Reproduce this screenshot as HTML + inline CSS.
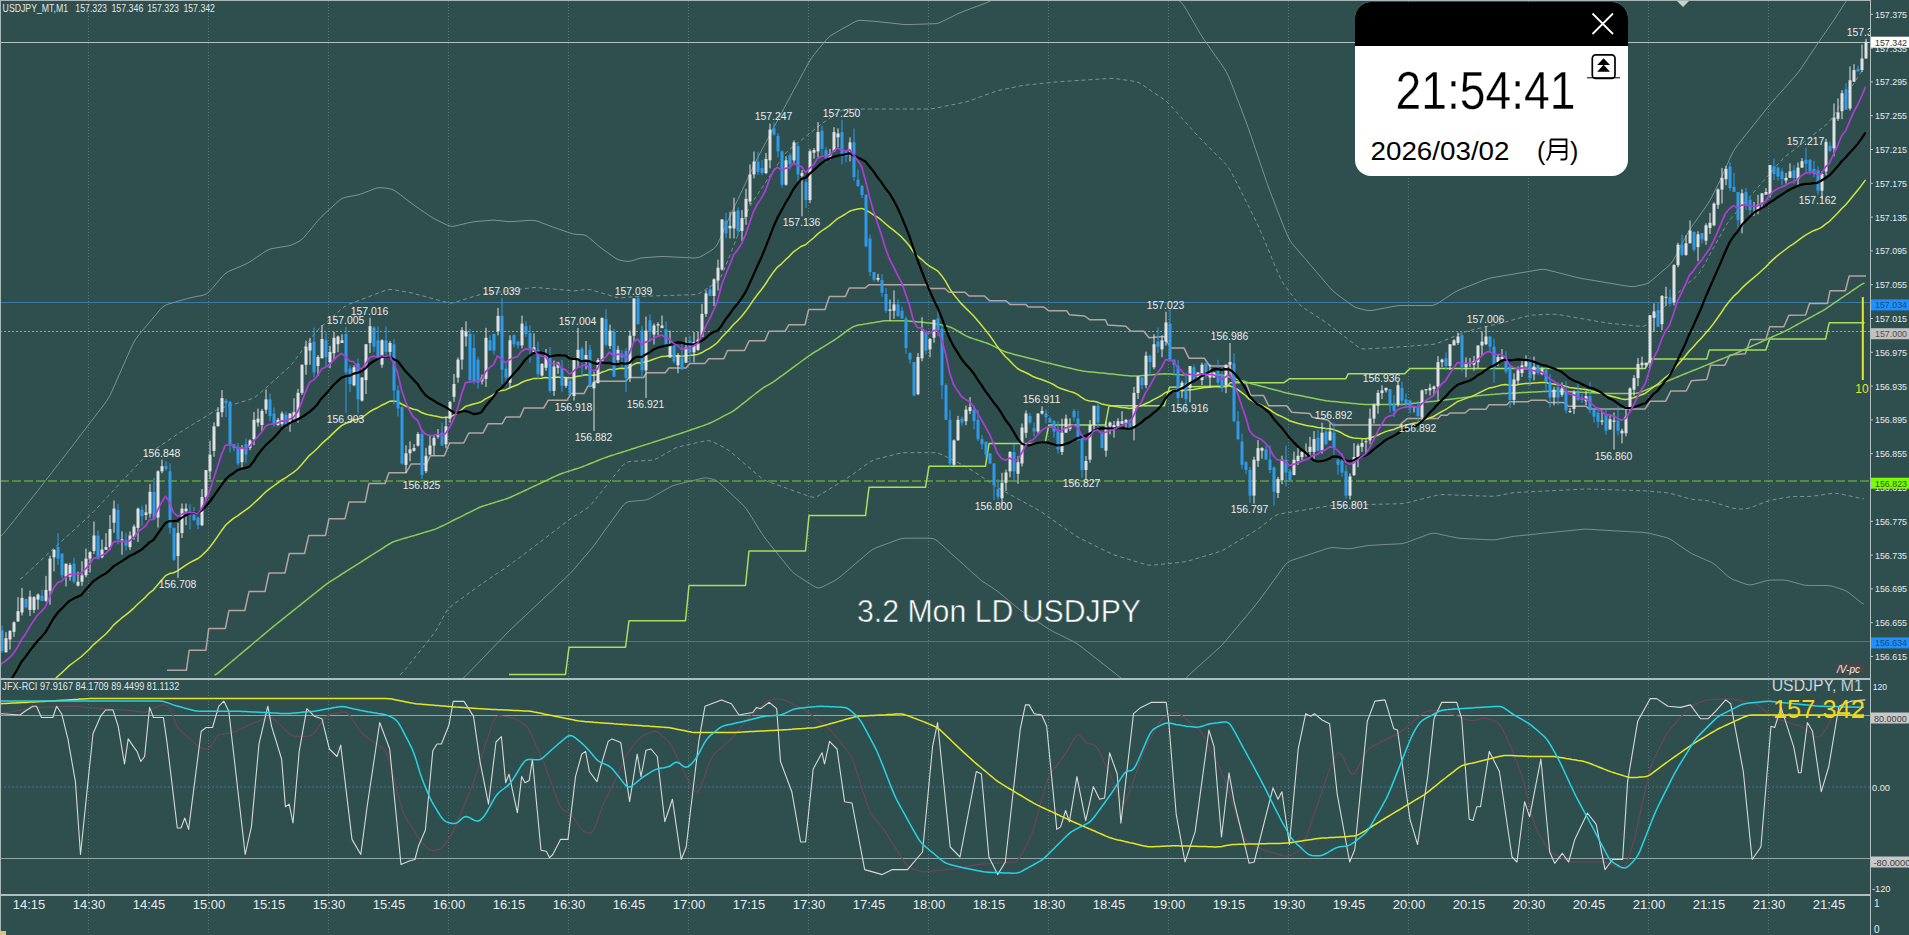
<!DOCTYPE html>
<html><head><meta charset="utf-8"><style>
html,body{margin:0;padding:0;background:#2f4f4f;}
body{width:1909px;height:935px;position:relative;overflow:hidden;font-family:"Liberation Sans", sans-serif;}
svg text{font-family:"Liberation Sans", sans-serif;}
</style></head><body>
<svg width="1909" height="935" viewBox="0 0 1909 935" style="position:absolute;left:0;top:0;display:block">
<rect x="0" y="0" width="1909" height="935" fill="#2f4f4f"/>
<defs><clipPath id="cm"><rect x="1" y="1" width="1869" height="677"/></clipPath><clipPath id="ci"><rect x="1" y="680" width="1869" height="214"/></clipPath></defs>
<g clip-path="url(#cm)">
<line x1="88.5" y1="1" x2="88.5" y2="678" stroke="#5a7a7a" stroke-width="1" stroke-dasharray="1,2"/>
<line x1="208.5" y1="1" x2="208.5" y2="678" stroke="#5a7a7a" stroke-width="1" stroke-dasharray="1,2"/>
<line x1="328.5" y1="1" x2="328.5" y2="678" stroke="#5a7a7a" stroke-width="1" stroke-dasharray="1,2"/>
<line x1="448.5" y1="1" x2="448.5" y2="678" stroke="#5a7a7a" stroke-width="1" stroke-dasharray="1,2"/>
<line x1="568.5" y1="1" x2="568.5" y2="678" stroke="#5a7a7a" stroke-width="1" stroke-dasharray="1,2"/>
<line x1="688.5" y1="1" x2="688.5" y2="678" stroke="#5a7a7a" stroke-width="1" stroke-dasharray="1,2"/>
<line x1="808.5" y1="1" x2="808.5" y2="678" stroke="#5a7a7a" stroke-width="1" stroke-dasharray="1,2"/>
<line x1="928.5" y1="1" x2="928.5" y2="678" stroke="#5a7a7a" stroke-width="1" stroke-dasharray="1,2"/>
<line x1="1048.5" y1="1" x2="1048.5" y2="678" stroke="#5a7a7a" stroke-width="1" stroke-dasharray="1,2"/>
<line x1="1168.5" y1="1" x2="1168.5" y2="678" stroke="#5a7a7a" stroke-width="1" stroke-dasharray="1,2"/>
<line x1="1288.5" y1="1" x2="1288.5" y2="678" stroke="#5a7a7a" stroke-width="1" stroke-dasharray="1,2"/>
<line x1="1408.5" y1="1" x2="1408.5" y2="678" stroke="#5a7a7a" stroke-width="1" stroke-dasharray="1,2"/>
<line x1="1528.5" y1="1" x2="1528.5" y2="678" stroke="#5a7a7a" stroke-width="1" stroke-dasharray="1,2"/>
<line x1="1648.5" y1="1" x2="1648.5" y2="678" stroke="#5a7a7a" stroke-width="1" stroke-dasharray="1,2"/>
<line x1="1768.5" y1="1" x2="1768.5" y2="678" stroke="#5a7a7a" stroke-width="1" stroke-dasharray="1,2"/>
<line x1="0" y1="42.5" x2="1870" y2="42.5" stroke="#b4c4c4" stroke-width="1"/>
<line x1="0" y1="302.5" x2="1870" y2="302.5" stroke="#3a7aa8" stroke-width="1"/>
<line x1="0" y1="331.5" x2="1870" y2="331.5" stroke="#94a8a8" stroke-width="1" stroke-dasharray="2,2"/>
<line x1="0" y1="481" x2="1870" y2="481" stroke="#64a03c" stroke-width="1.5" stroke-dasharray="9,3"/>
<line x1="0" y1="641.5" x2="1870" y2="641.5" stroke="#3a7aa8" stroke-width="1"/>
<polyline points="0.0,536.8 2.0,535.2 4.0,533.0 6.0,530.5 8.0,528.0 10.0,525.5 12.0,523.0 14.0,520.5 16.0,518.0 18.0,515.5 20.0,513.0 22.0,510.5 24.0,508.0 26.0,505.5 28.0,503.0 30.0,500.5 32.0,498.0 34.0,495.5 36.0,493.0 38.0,490.4 40.0,487.8 42.0,485.2 44.0,482.6 46.0,480.1 48.0,477.5 50.0,474.9 52.0,472.3 54.0,469.7 56.0,467.1 58.0,464.5 60.0,461.9 62.0,459.3 64.0,456.8 66.0,454.2 68.0,451.6 70.0,449.0 72.0,446.4 74.0,443.8 76.0,441.2 78.0,438.6 80.0,435.9 82.0,433.3 84.0,430.7 86.0,428.1 88.0,425.5 90.0,422.9 92.0,420.2 94.0,417.6 96.0,415.0 98.0,412.4 100.0,409.8 102.0,407.2 104.0,404.5 106.0,401.8 108.0,398.7 110.0,395.2 112.0,391.0 114.0,386.6 116.0,382.1 118.0,377.5 120.0,373.0 122.0,368.4 124.0,363.9 126.0,359.3 128.0,354.8 130.0,350.3 132.0,345.9 134.0,342.0 136.0,338.7 138.0,335.9 140.0,333.5 142.0,331.1 144.0,328.7 146.0,326.4 148.0,324.0 150.0,321.6 152.0,319.3 154.0,316.9 156.0,314.5 158.0,312.1 160.0,309.8 162.0,307.7 164.0,306.1 166.0,305.0 168.0,304.2 170.0,303.6 172.0,303.0 174.0,302.4 176.0,301.8 178.0,301.2 180.0,300.7 182.0,300.1 184.0,299.5 186.0,298.9 188.0,298.4 190.0,297.9 192.0,297.4 194.0,297.0 196.0,296.6 198.0,296.2 200.0,295.9 202.0,295.5 204.0,294.9 206.0,294.1 208.0,292.7 210.0,290.8 212.0,288.6 214.0,286.3 216.0,283.9 218.0,281.5 220.0,279.2 222.0,276.9 224.0,274.8 226.0,273.1 228.0,271.8 230.0,270.8 232.0,269.9 234.0,269.1 236.0,268.3 238.0,267.4 240.0,266.6 242.0,265.7 244.0,264.8 246.0,263.9 248.0,262.8 250.0,261.6 252.0,260.3 254.0,259.0 256.0,257.6 258.0,256.3 260.0,255.0 262.0,253.6 264.0,252.3 266.0,251.1 268.0,250.0 270.0,249.1 272.0,248.6 274.0,248.2 276.0,247.9 278.0,247.6 280.0,247.2 282.0,246.9 284.0,246.6 286.0,246.3 288.0,245.9 290.0,245.5 292.0,244.8 294.0,243.9 296.0,242.9 298.0,241.9 300.0,240.7 302.0,239.2 304.0,237.2 306.0,234.9 308.0,232.5 310.0,230.1 312.0,227.7 314.0,225.3 316.0,222.8 318.0,220.5 320.0,218.3 322.0,216.2 324.0,214.3 326.0,212.5 328.0,210.7 330.0,208.8 332.0,207.0 334.0,205.2 336.0,203.3 338.0,201.5 340.0,199.9 342.0,198.6 344.0,197.7 346.0,197.2 348.0,196.8 350.0,196.4 352.0,196.0 354.0,195.7 356.0,195.3 358.0,194.8 360.0,194.3 362.0,193.6 364.0,192.9 366.0,192.1 368.0,191.3 370.0,190.5 372.0,189.7 374.0,188.9 376.0,188.2 378.0,187.8 380.0,187.7 382.0,187.8 384.0,188.0 386.0,188.2 388.0,188.5 390.0,188.8 392.0,189.4 394.0,190.3 396.0,191.6 398.0,193.0 400.0,194.5 402.0,196.0 404.0,197.6 406.0,199.1 408.0,200.6 410.0,202.1 412.0,203.6 414.0,205.1 416.0,206.5 418.0,207.9 420.0,209.3 422.0,210.7 424.0,212.0 426.0,213.4 428.0,214.8 430.0,216.1 432.0,217.4 434.0,218.5 436.0,219.6 438.0,220.6 440.0,221.6 442.0,222.6 444.0,223.6 446.0,224.5 448.0,225.4 450.0,226.1 452.0,226.3 454.0,226.2 456.0,225.8 458.0,225.3 460.0,224.8 462.0,224.4 464.0,223.9 466.0,223.4 468.0,222.9 470.0,222.5 472.0,222.1 474.0,221.8 476.0,221.5 478.0,221.4 480.0,221.2 482.0,221.0 484.0,220.9 486.0,220.7 488.0,220.5 490.0,220.4 492.0,220.2 494.0,220.2 496.0,220.3 498.0,220.5 500.0,220.7 502.0,220.9 504.0,221.2 506.0,221.4 508.0,221.6 510.0,221.6 512.0,221.6 514.0,221.4 516.0,221.3 518.0,221.2 520.0,221.0 522.0,220.9 524.0,220.7 526.0,220.6 528.0,220.5 530.0,220.3 532.0,220.3 534.0,220.4 536.0,220.8 538.0,221.4 540.0,222.1 542.0,222.9 544.0,223.7 546.0,224.4 548.0,225.2 550.0,226.0 552.0,226.7 554.0,227.4 556.0,228.1 558.0,228.8 560.0,229.5 562.0,230.2 564.0,230.9 566.0,231.6 568.0,232.3 570.0,232.9 572.0,233.6 574.0,234.1 576.0,234.4 578.0,234.5 580.0,234.5 582.0,234.6 584.0,234.9 586.0,235.6 588.0,236.9 590.0,238.5 592.0,240.2 594.0,242.0 596.0,243.8 598.0,245.5 600.0,247.1 602.0,248.7 604.0,250.1 606.0,251.5 608.0,252.9 610.0,254.4 612.0,255.8 614.0,257.2 616.0,258.5 618.0,259.5 620.0,260.2 622.0,260.6 624.0,261.0 626.0,261.2 628.0,261.3 630.0,261.2 632.0,260.7 634.0,260.1 636.0,259.4 638.0,258.8 640.0,258.3 642.0,257.9 644.0,257.7 646.0,257.6 648.0,257.4 650.0,257.3 652.0,257.1 654.0,257.0 656.0,256.8 658.0,256.7 660.0,256.6 662.0,256.5 664.0,256.5 666.0,256.6 668.0,256.7 670.0,256.8 672.0,256.9 674.0,257.0 676.0,257.1 678.0,257.2 680.0,257.3 682.0,257.4 684.0,257.5 686.0,257.6 688.0,257.7 690.0,257.8 692.0,257.9 694.0,258.0 696.0,257.9 698.0,257.6 700.0,256.9 702.0,255.9 704.0,254.7 706.0,253.5 708.0,252.3 710.0,251.1 712.0,249.9 714.0,248.4 716.0,246.2 718.0,242.9 720.0,238.7 722.0,234.2 724.0,229.5 726.0,224.9 728.0,220.5 730.0,216.1 732.0,211.8 734.0,207.6 736.0,203.3 738.0,199.1 740.0,194.8 742.0,190.6 744.0,186.3 746.0,182.1 748.0,177.8 750.0,173.6 752.0,169.4 754.0,165.1 756.0,161.0 758.0,157.1 760.0,153.3 762.0,149.5 764.0,145.8 766.0,142.0 768.0,138.3 770.0,134.5 772.0,130.8 774.0,127.0 776.0,123.3 778.0,119.5 780.0,115.8 782.0,112.1 784.0,108.3 786.0,104.6 788.0,100.9 790.0,97.2 792.0,93.4 794.0,89.7 796.0,86.0 798.0,82.3 800.0,78.6 802.0,74.9 804.0,71.2 806.0,67.5 808.0,63.9 810.0,60.4 812.0,57.4 814.0,54.7 816.0,52.2 818.0,49.7 820.0,47.3 822.0,44.9 824.0,42.5 826.0,40.1 828.0,38.0 830.0,36.2 832.0,34.8 834.0,33.6 836.0,32.4 838.0,31.3 840.0,30.2 842.0,29.0 844.0,27.9 846.0,26.8 848.0,25.7 850.0,24.5 852.0,23.4 854.0,22.3 856.0,21.3 858.0,20.6 860.0,20.3 862.0,20.4 864.0,20.5 866.0,20.7 868.0,20.8 870.0,21.0 872.0,21.1 874.0,21.3 876.0,21.5 878.0,21.6 880.0,21.8 882.0,22.0 884.0,22.3 886.0,22.5 888.0,22.7 890.0,22.9 892.0,23.2 894.0,23.4 896.0,23.6 898.0,23.8 900.0,24.1 902.0,24.3 904.0,24.5 906.0,24.6 908.0,24.6 910.0,24.5 912.0,24.5 914.0,24.4 916.0,24.3 918.0,24.3 920.0,24.2 922.0,24.1 924.0,24.1 926.0,24.0 928.0,23.9 930.0,23.9 932.0,23.8 934.0,23.7 936.0,23.6 938.0,23.2 940.0,22.5 942.0,21.6 944.0,20.6 946.0,19.6 948.0,18.6 950.0,17.7 952.0,16.7 954.0,15.7 956.0,14.7 958.0,13.7 960.0,12.8 962.0,12.0 964.0,11.2 966.0,10.4 968.0,9.7 970.0,8.9 972.0,8.2 974.0,7.4 976.0,6.7 978.0,5.9 980.0,5.2 982.0,4.4 984.0,3.7 986.0,2.9 988.0,2.1 990.0,1.2 992.0,0.2 994.0,-0.8 996.0,-1.9 998.0,-2.8 1000.0,-3.5 1002.0,-3.9 1004.0,-4.0 1006.0,-4.0 1008.0,-4.0 1010.0,-4.0 1012.0,-4.0 1014.0,-4.0 1016.0,-4.0 1018.0,-4.0 1020.0,-4.0 1022.0,-4.0 1024.0,-4.0 1026.0,-4.0 1028.0,-4.0 1030.0,-4.0 1032.0,-4.0 1034.0,-4.0 1036.0,-4.0 1038.0,-4.0 1040.0,-4.0 1042.0,-4.0 1044.0,-4.0 1046.0,-4.0 1048.0,-4.0 1050.0,-4.0 1052.0,-4.0 1054.0,-4.0 1056.0,-4.0 1058.0,-4.0 1060.0,-4.0 1062.0,-4.0 1064.0,-4.0 1066.0,-4.0 1068.0,-4.0 1070.0,-4.0 1072.0,-4.0 1074.0,-4.0 1076.0,-4.0 1078.0,-4.0 1080.0,-4.0 1082.0,-4.0 1084.0,-4.0 1086.0,-4.0 1088.0,-4.0 1090.0,-4.0 1092.0,-4.0 1094.0,-4.0 1096.0,-4.0 1098.0,-4.0 1100.0,-4.0 1102.0,-4.0 1104.0,-4.0 1106.0,-4.0 1108.0,-4.0 1110.0,-4.0 1112.0,-4.0 1114.0,-4.0 1116.0,-4.0 1118.0,-4.0 1120.0,-4.0 1122.0,-4.0 1124.0,-4.0 1126.0,-4.0 1128.0,-4.0 1130.0,-4.0 1132.0,-4.0 1134.0,-4.0 1136.0,-4.0 1138.0,-4.0 1140.0,-4.0 1142.0,-4.0 1144.0,-4.0 1146.0,-4.0 1148.0,-4.0 1150.0,-4.0 1152.0,-4.0 1154.0,-4.0 1156.0,-4.0 1158.0,-4.0 1160.0,-4.0 1162.0,-4.0 1164.0,-4.0 1166.0,-4.0 1168.0,-3.9 1170.0,-3.5 1172.0,-2.9 1174.0,-2.0 1176.0,-1.0 1178.0,0.0 1180.0,1.3 1182.0,3.2 1184.0,5.9 1186.0,9.1 1188.0,12.5 1190.0,16.0 1192.0,19.4 1194.0,22.9 1196.0,26.4 1198.0,29.8 1200.0,33.2 1202.0,36.4 1204.0,39.5 1206.0,42.4 1208.0,45.2 1210.0,48.1 1212.0,50.9 1214.0,53.8 1216.0,56.6 1218.0,59.5 1220.0,62.3 1222.0,65.2 1224.0,68.1 1226.0,71.4 1228.0,75.4 1230.0,80.0 1232.0,85.0 1234.0,90.2 1236.0,95.5 1238.0,100.7 1240.0,105.9 1242.0,111.1 1244.0,116.4 1246.0,121.8 1248.0,127.3 1250.0,133.0 1252.0,138.9 1254.0,144.8 1256.0,150.7 1258.0,156.6 1260.0,162.5 1262.0,168.4 1264.0,174.2 1266.0,180.1 1268.0,185.8 1270.0,191.3 1272.0,196.6 1274.0,201.7 1276.0,206.9 1278.0,212.0 1280.0,217.1 1282.0,222.2 1284.0,227.2 1286.0,232.2 1288.0,236.6 1290.0,240.3 1292.0,243.3 1294.0,245.8 1296.0,248.1 1298.0,250.4 1300.0,252.8 1302.0,255.1 1304.0,257.4 1306.0,259.7 1308.0,262.0 1310.0,264.4 1312.0,266.7 1314.0,269.0 1316.0,271.4 1318.0,273.7 1320.0,276.1 1322.0,278.4 1324.0,280.8 1326.0,283.1 1328.0,285.5 1330.0,287.8 1332.0,289.9 1334.0,291.8 1336.0,293.4 1338.0,295.0 1340.0,296.5 1342.0,298.0 1344.0,299.4 1346.0,300.9 1348.0,302.4 1350.0,303.9 1352.0,305.3 1354.0,306.6 1356.0,307.5 1358.0,308.1 1360.0,308.7 1362.0,309.2 1364.0,309.7 1366.0,310.2 1368.0,310.5 1370.0,310.5 1372.0,310.4 1374.0,310.1 1376.0,309.7 1378.0,309.3 1380.0,308.9 1382.0,308.6 1384.0,308.2 1386.0,307.8 1388.0,307.4 1390.0,307.0 1392.0,306.7 1394.0,306.3 1396.0,306.0 1398.0,305.7 1400.0,305.6 1402.0,305.5 1404.0,305.5 1406.0,305.5 1408.0,305.5 1410.0,305.5 1412.0,305.5 1414.0,305.5 1416.0,305.5 1418.0,305.5 1420.0,305.5 1422.0,305.5 1424.0,305.5 1426.0,305.5 1428.0,305.5 1430.0,305.5 1432.0,305.4 1434.0,305.0 1436.0,304.2 1438.0,303.1 1440.0,301.9 1442.0,300.5 1444.0,299.2 1446.0,297.9 1448.0,296.6 1450.0,295.2 1452.0,293.9 1454.0,292.6 1456.0,291.5 1458.0,290.5 1460.0,289.6 1462.0,288.8 1464.0,288.0 1466.0,287.2 1468.0,286.4 1470.0,285.7 1472.0,284.9 1474.0,284.1 1476.0,283.3 1478.0,282.5 1480.0,281.7 1482.0,280.9 1484.0,280.2 1486.0,279.4 1488.0,278.7 1490.0,278.2 1492.0,277.7 1494.0,277.4 1496.0,277.0 1498.0,276.7 1500.0,276.3 1502.0,276.0 1504.0,275.7 1506.0,275.3 1508.0,275.0 1510.0,274.7 1512.0,274.3 1514.0,274.0 1516.0,273.7 1518.0,273.3 1520.0,273.0 1522.0,272.6 1524.0,272.3 1526.0,272.0 1528.0,271.6 1530.0,271.3 1532.0,271.0 1534.0,270.6 1536.0,270.3 1538.0,269.9 1540.0,269.6 1542.0,269.4 1544.0,269.4 1546.0,269.7 1548.0,270.1 1550.0,270.6 1552.0,271.1 1554.0,271.6 1556.0,272.1 1558.0,272.6 1560.0,273.1 1562.0,273.7 1564.0,274.2 1566.0,274.7 1568.0,275.2 1570.0,275.7 1572.0,276.2 1574.0,276.7 1576.0,277.2 1578.0,277.7 1580.0,278.1 1582.0,278.5 1584.0,278.9 1586.0,279.2 1588.0,279.5 1590.0,279.9 1592.0,280.2 1594.0,280.5 1596.0,280.9 1598.0,281.2 1600.0,281.6 1602.0,281.9 1604.0,282.2 1606.0,282.6 1608.0,282.9 1610.0,283.2 1612.0,283.6 1614.0,283.9 1616.0,284.2 1618.0,284.6 1620.0,284.9 1622.0,285.2 1624.0,285.6 1626.0,285.9 1628.0,286.2 1630.0,286.5 1632.0,286.6 1634.0,286.5 1636.0,286.2 1638.0,285.8 1640.0,285.4 1642.0,284.9 1644.0,284.5 1646.0,283.9 1648.0,283.0 1650.0,281.7 1652.0,280.1 1654.0,278.5 1656.0,276.7 1658.0,275.0 1660.0,273.3 1662.0,271.6 1664.0,269.9 1666.0,268.1 1668.0,266.4 1670.0,264.5 1672.0,262.0 1674.0,258.9 1676.0,255.3 1678.0,251.5 1680.0,247.7 1682.0,243.9 1684.0,240.1 1686.0,236.3 1688.0,232.7 1690.0,229.4 1692.0,226.3 1694.0,223.4 1696.0,220.6 1698.0,217.8 1700.0,215.0 1702.0,212.1 1704.0,209.3 1706.0,206.4 1708.0,203.4 1710.0,200.2 1712.0,196.5 1714.0,192.7 1716.0,188.7 1718.0,184.7 1720.0,180.5 1722.0,176.2 1724.0,171.7 1726.0,167.2 1728.0,162.7 1730.0,158.2 1732.0,154.0 1734.0,150.3 1736.0,147.2 1738.0,144.5 1740.0,142.0 1742.0,139.5 1744.0,137.0 1746.0,134.5 1748.0,132.0 1750.0,129.5 1752.0,127.0 1754.0,124.5 1756.0,122.0 1758.0,119.5 1760.0,117.0 1762.0,114.5 1764.0,112.0 1766.0,109.5 1768.0,107.0 1770.0,104.6 1772.0,102.2 1774.0,100.0 1776.0,97.7 1778.0,95.5 1780.0,93.2 1782.0,91.0 1784.0,88.7 1786.0,86.4 1788.0,84.2 1790.0,81.9 1792.0,79.7 1794.0,77.4 1796.0,75.1 1798.0,72.6 1800.0,69.9 1802.0,67.0 1804.0,64.0 1806.0,61.0 1808.0,58.0 1810.0,55.0 1812.0,52.0 1814.0,49.0 1816.0,46.0 1818.0,43.0 1820.0,40.1 1822.0,37.2 1824.0,34.3 1826.0,31.4 1828.0,28.6 1830.0,25.7 1832.0,22.8 1834.0,19.9 1836.0,16.8 1838.0,13.7 1840.0,10.6 1842.0,7.4 1844.0,4.3 1846.0,1.5 1848.0,-0.5" fill="none" stroke="#7c9292" stroke-width="1" stroke-linejoin="round"/>
<polyline points="461.8,679.0 463.8,677.7 465.8,675.8 467.8,673.8 469.8,671.7 471.8,669.6 473.8,667.5 475.8,665.5 477.8,663.4 479.8,661.3 481.8,659.2 483.8,657.2 485.8,655.1 487.8,653.0 489.8,650.9 491.8,648.9 493.8,646.8 495.8,644.7 497.8,642.6 499.8,640.6 501.8,638.5 503.8,636.4 505.8,634.3 507.8,632.3 509.8,630.3 511.8,628.4 513.8,626.5 515.8,624.6 517.8,622.7 519.8,620.8 521.8,619.0 523.8,617.1 525.8,615.2 527.8,613.3 529.8,611.4 531.8,609.6 533.8,607.7 535.8,605.8 537.8,603.9 539.8,602.0 541.8,600.2 543.8,598.3 545.8,596.4 547.8,594.5 549.8,592.6 551.8,590.8 553.8,588.9 555.8,587.0 557.8,585.1 559.8,583.2 561.8,581.4 563.8,579.5 565.8,577.6 567.8,575.7 569.8,573.7 571.8,571.6 573.8,569.4 575.8,567.1 577.8,564.7 579.8,562.4 581.8,560.1 583.8,557.7 585.8,555.4 587.8,553.0 589.8,550.7 591.8,548.2 593.8,545.7 595.8,543.0 597.8,540.2 599.8,537.5 601.8,534.7 603.8,531.9 605.8,529.1 607.8,526.4 609.8,523.6 611.8,520.8 613.8,518.0 615.8,515.3 617.8,512.5 619.8,509.7 621.8,507.0 623.8,504.6 625.8,502.9 627.8,501.9 629.8,501.5 631.8,501.3 633.8,501.1 635.8,500.9 637.8,500.8 639.8,500.6 641.8,500.4 643.8,500.2 645.8,499.9 647.8,499.3 649.8,498.5 651.8,497.4 653.8,496.3 655.8,495.1 657.8,494.0 659.8,492.9 661.8,491.7 663.8,490.6 665.8,489.4 667.8,488.3 669.8,487.2 671.8,486.2 673.8,485.4 675.8,484.8 677.8,484.3 679.8,483.8 681.8,483.3 683.8,482.8 685.8,482.3 687.8,481.8 689.8,481.3 691.8,480.8 693.8,480.4 695.8,479.9 697.8,479.4 699.8,478.9 701.8,478.4 703.8,478.1 705.8,478.0 707.8,478.1 709.8,478.5 711.8,479.0 713.8,479.5 715.8,480.4 717.8,481.6 719.8,483.3 721.8,485.1 723.8,486.9 725.8,488.8 727.8,490.7 729.8,492.6 731.8,494.4 733.8,496.3 735.8,498.2 737.8,500.1 739.8,502.0 741.8,503.9 743.8,505.9 745.8,508.3 747.8,511.1 749.8,514.2 751.8,517.4 753.8,520.6 755.8,523.9 757.8,527.1 759.8,530.3 761.8,533.4 763.8,536.3 765.8,539.1 767.8,541.6 769.8,544.1 771.8,546.6 773.8,549.1 775.8,551.6 777.8,554.1 779.8,556.6 781.8,559.1 783.8,561.6 785.8,564.1 787.8,566.6 789.8,569.0 791.8,571.2 793.8,573.1 795.8,574.6 797.8,576.0 799.8,577.3 801.8,578.6 803.8,579.9 805.8,581.1 807.8,582.4 809.8,583.7 811.8,585.0 813.8,586.3 815.8,587.3 817.8,587.9 819.8,587.8 821.8,587.1 823.8,586.2 825.8,585.2 827.8,584.2 829.8,583.2 831.8,582.2 833.8,581.2 835.8,580.0 837.8,578.6 839.8,577.1 841.8,575.4 843.8,573.7 845.8,572.0 847.8,570.3 849.8,568.6 851.8,566.8 853.8,565.1 855.8,563.4 857.8,561.7 859.8,560.0 861.8,558.3 863.8,556.6 865.8,554.9 867.8,553.2 869.8,551.6 871.8,550.1 873.8,548.9 875.8,547.9 877.8,547.1 879.8,546.4 881.8,545.6 883.8,544.9 885.8,544.1 887.8,543.4 889.8,542.7 891.8,541.9 893.8,541.2 895.8,540.4 897.8,539.7 899.8,539.0 901.8,538.5 903.8,538.3 905.8,538.2 907.8,538.2 909.8,538.2 911.8,538.2 913.8,538.2 915.8,538.2 917.8,538.2 919.8,538.2 921.8,538.2 923.8,538.2 925.8,538.2 927.8,538.2 929.8,538.2 931.8,538.4 933.8,538.8 935.8,539.8 937.8,541.3 939.8,543.1 941.8,544.9 943.8,546.7 945.8,548.5 947.8,550.3 949.8,552.2 951.8,554.0 953.8,555.8 955.8,557.6 957.8,559.4 959.8,561.3 961.8,563.0 963.8,564.8 965.8,566.6 967.8,568.4 969.8,570.2 971.8,572.0 973.8,573.8 975.8,575.6 977.8,577.4 979.8,579.1 981.8,580.8 983.8,582.2 985.8,583.5 987.8,584.8 989.8,586.1 991.8,587.3 993.8,588.7 995.8,590.0 997.8,591.6 999.8,593.2 1001.8,594.8 1003.8,596.5 1005.8,598.2 1007.8,599.8 1009.8,601.5 1011.8,603.2 1013.8,604.8 1015.8,606.5 1017.8,608.1 1019.8,609.7 1021.8,611.1 1023.8,612.5 1025.8,613.9 1027.8,615.2 1029.8,616.5 1031.8,617.9 1033.8,619.2 1035.8,620.5 1037.8,621.9 1039.8,623.2 1041.8,624.5 1043.8,625.9 1045.8,627.2 1047.8,628.5 1049.8,629.7 1051.8,630.8 1053.8,631.9 1055.8,632.9 1057.8,633.8 1059.8,634.8 1061.8,635.8 1063.8,636.8 1065.8,637.8 1067.8,638.8 1069.8,639.8 1071.8,640.7 1073.8,641.8 1075.8,642.9 1077.8,644.2 1079.8,645.7 1081.8,647.2 1083.8,648.8 1085.8,650.4 1087.8,651.9 1089.8,653.5 1091.8,655.1 1093.8,656.6 1095.8,658.2 1097.8,659.8 1099.8,661.3 1101.8,662.9 1103.8,664.5 1105.8,666.0 1107.8,667.6 1109.8,669.2 1111.8,670.8 1113.8,672.3 1115.8,673.9 1117.8,675.5 1119.8,677.1 1121.8,678.8 1123.8,681.0 1125.8,683.6 1127.8,686.2 1129.8,688.3 1131.8,689.5 1133.8,689.9 1135.8,690.0 1137.8,690.0 1139.8,690.0 1141.8,690.0 1143.8,690.0 1145.8,690.0 1147.8,690.0 1149.8,690.0 1151.8,690.0 1153.8,690.0 1155.8,690.0 1157.8,690.0 1159.8,690.0 1161.8,690.0 1163.8,690.0 1165.8,690.0 1167.8,690.0 1169.8,690.0 1171.8,690.0 1173.8,690.0 1175.8,689.9 1177.8,689.5 1179.8,688.1 1181.8,685.5 1183.8,682.0 1185.8,678.8 1187.8,676.2 1189.8,674.2 1191.8,672.4 1193.8,670.6 1195.8,668.8 1197.8,667.0 1199.8,665.2 1201.8,663.4 1203.8,661.6 1205.8,659.8 1207.8,658.0 1209.8,656.2 1211.8,654.5 1213.8,652.7 1215.8,650.9 1217.8,649.1 1219.8,647.2 1221.8,645.2 1223.8,643.0 1225.8,640.7 1227.8,638.3 1229.8,635.9 1231.8,633.5 1233.8,631.1 1235.8,628.7 1237.8,626.3 1239.8,623.9 1241.8,621.5 1243.8,619.1 1245.8,616.7 1247.8,614.3 1249.8,611.9 1251.8,609.5 1253.8,607.1 1255.8,604.6 1257.8,602.1 1259.8,599.5 1261.8,596.8 1263.8,594.1 1265.8,591.4 1267.8,588.6 1269.8,585.9 1271.8,583.1 1273.8,580.4 1275.8,577.6 1277.8,574.9 1279.8,572.1 1281.8,569.4 1283.8,566.7 1285.8,564.3 1287.8,562.4 1289.8,561.2 1291.8,560.3 1293.8,559.6 1295.8,559.0 1297.8,558.3 1299.8,557.7 1301.8,557.0 1303.8,556.3 1305.8,555.7 1307.8,555.0 1309.8,554.3 1311.8,553.7 1313.8,553.0 1315.8,552.3 1317.8,551.7 1319.8,551.0 1321.8,550.4 1323.8,549.7 1325.8,549.0 1327.8,548.4 1329.8,547.9 1331.8,547.7 1333.8,547.6 1335.8,547.8 1337.8,547.9 1339.8,548.1 1341.8,548.3 1343.8,548.5 1345.8,548.7 1347.8,548.7 1349.8,548.7 1351.8,548.4 1353.8,548.1 1355.8,547.7 1357.8,547.3 1359.8,546.9 1361.8,546.6 1363.8,546.2 1365.8,545.8 1367.8,545.6 1369.8,545.4 1371.8,545.3 1373.8,545.2 1375.8,545.1 1377.8,545.0 1379.8,544.8 1381.8,544.7 1383.8,544.6 1385.8,544.5 1387.8,544.4 1389.8,544.3 1391.8,544.2 1393.8,544.1 1395.8,544.0 1397.8,543.9 1399.8,543.8 1401.8,543.6 1403.8,543.2 1405.8,542.7 1407.8,542.0 1409.8,541.3 1411.8,540.5 1413.8,539.8 1415.8,539.0 1417.8,538.3 1419.8,537.5 1421.8,536.8 1423.8,536.0 1425.8,535.3 1427.8,534.5 1429.8,533.9 1431.8,533.4 1433.8,533.3 1435.8,533.4 1437.8,533.8 1439.8,534.2 1441.8,534.7 1443.8,535.1 1445.8,535.5 1447.8,536.0 1449.8,536.4 1451.8,536.8 1453.8,537.2 1455.8,537.6 1457.8,538.0 1459.8,538.2 1461.8,538.4 1463.8,538.5 1465.8,538.6 1467.8,538.7 1469.8,538.8 1471.8,538.9 1473.8,539.0 1475.8,539.1 1477.8,539.2 1479.8,539.3 1481.8,539.4 1483.8,539.5 1485.8,539.6 1487.8,539.7 1489.8,539.8 1491.8,539.8 1493.8,539.8 1495.8,539.6 1497.8,539.3 1499.8,538.9 1501.8,538.6 1503.8,538.2 1505.8,537.8 1507.8,537.4 1509.8,537.0 1511.8,536.6 1513.8,536.3 1515.8,536.1 1517.8,535.9 1519.8,535.7 1521.8,535.5 1523.8,535.3 1525.8,535.1 1527.8,534.9 1529.8,534.7 1531.8,534.5 1533.8,534.3 1535.8,534.1 1537.8,533.8 1539.8,533.6 1541.8,533.4 1543.8,533.2 1545.8,533.0 1547.8,532.8 1549.8,532.6 1551.8,532.4 1553.8,532.2 1555.8,532.0 1557.8,531.8 1559.8,531.6 1561.8,531.4 1563.8,531.2 1565.8,531.0 1567.8,530.8 1569.8,530.6 1571.8,530.4 1573.8,530.2 1575.8,530.0 1577.8,529.8 1579.8,529.6 1581.8,529.4 1583.8,529.2 1585.8,529.2 1587.8,529.2 1589.8,529.3 1591.8,529.4 1593.8,529.6 1595.8,529.7 1597.8,529.9 1599.8,530.0 1601.8,530.1 1603.8,530.2 1605.8,530.3 1607.8,530.4 1609.8,530.5 1611.8,530.6 1613.8,530.8 1615.8,530.9 1617.8,531.0 1619.8,531.1 1621.8,531.2 1623.8,531.3 1625.8,531.4 1627.8,531.5 1629.8,531.7 1631.8,531.8 1633.8,531.9 1635.8,532.0 1637.8,532.1 1639.8,532.2 1641.8,532.3 1643.8,532.5 1645.8,532.7 1647.8,533.0 1649.8,533.4 1651.8,533.9 1653.8,534.4 1655.8,534.9 1657.8,535.4 1659.8,535.9 1661.8,536.4 1663.8,536.9 1665.8,537.4 1667.8,538.1 1669.8,539.0 1671.8,540.2 1673.8,541.5 1675.8,542.9 1677.8,544.3 1679.8,545.6 1681.8,547.0 1683.8,548.4 1685.8,549.8 1687.8,551.1 1689.8,552.4 1691.8,553.6 1693.8,554.6 1695.8,555.5 1697.8,556.4 1699.8,557.2 1701.8,558.1 1703.8,559.0 1705.8,559.9 1707.8,560.7 1709.8,561.6 1711.8,562.6 1713.8,563.9 1715.8,565.4 1717.8,567.2 1719.8,569.0 1721.8,570.8 1723.8,572.6 1725.8,574.5 1727.8,576.2 1729.8,577.7 1731.8,578.9 1733.8,579.8 1735.8,580.5 1737.8,581.2 1739.8,582.0 1741.8,582.7 1743.8,583.4 1745.8,584.1 1747.8,584.6 1749.8,584.9 1751.8,584.7 1753.8,584.3 1755.8,583.7 1757.8,583.2 1759.8,582.6 1761.8,582.0 1763.8,581.5 1765.8,580.9 1767.8,580.5 1769.8,580.2 1771.8,580.0 1773.8,580.0 1775.8,580.0 1777.8,580.0 1779.8,580.0 1781.8,580.0 1783.8,580.1 1785.8,580.3 1787.8,580.6 1789.8,581.1 1791.8,581.7 1793.8,582.3 1795.8,582.8 1797.8,583.4 1799.8,583.9 1801.8,584.5 1803.8,585.0 1805.8,585.3 1807.8,585.4 1809.8,585.5 1811.8,585.5 1813.8,585.5 1815.8,585.5 1817.8,585.5 1819.8,585.5 1821.8,585.5 1823.8,585.5 1825.8,585.5 1827.8,585.6 1829.8,585.8 1831.8,586.1 1833.8,586.7 1835.8,587.3 1837.8,588.0 1839.8,588.6 1841.8,589.3 1843.8,590.0 1845.8,590.9 1847.8,592.0 1849.8,593.4 1851.8,595.0 1853.8,596.6 1855.8,598.2 1857.8,599.9 1859.8,601.5 1861.8,603.0 1863.8,604.0" fill="none" stroke="#7c9292" stroke-width="1" stroke-linejoin="round"/>
<polyline points="20.0,579.1 22.0,577.9 24.0,576.2 26.0,574.3 28.0,572.4 30.0,570.6 32.0,568.7 34.0,566.8 36.0,564.9 38.0,563.0 40.0,561.1 42.0,559.2 44.0,557.3 46.0,555.5 48.0,553.6 50.0,551.8 52.0,550.0 54.0,548.1 56.0,546.3 58.0,544.5 60.0,542.7 62.0,540.9 64.0,539.0 66.0,537.2 68.0,535.4 70.0,533.6 72.0,531.8 74.0,530.0 76.0,528.1 78.0,526.3 80.0,524.5 82.0,522.7 84.0,520.9 86.0,519.0 88.0,517.2 90.0,515.3 92.0,513.3 94.0,511.3 96.0,509.1 98.0,507.0 100.0,504.8 102.0,502.7 104.0,500.5 106.0,498.4 108.0,496.3 110.0,494.1 112.0,492.0 114.0,489.8 116.0,487.7 118.0,485.5 120.0,483.4 122.0,481.2 124.0,479.1 126.0,476.9 128.0,474.8 130.0,472.6 132.0,470.5 134.0,468.3 136.0,466.2 138.0,464.1 140.0,461.9 142.0,459.8 144.0,457.8 146.0,456.0 148.0,454.4 150.0,452.9 152.0,451.5 154.0,450.2 156.0,448.8 158.0,447.4 160.0,446.1 162.0,444.7 164.0,443.3 166.0,442.0 168.0,440.6 170.0,439.2 172.0,437.8 174.0,436.5 176.0,435.1 178.0,433.7 180.0,432.4 182.0,431.1 184.0,429.8 186.0,428.6 188.0,427.3 190.0,426.1 192.0,424.9 194.0,423.7 196.0,422.4 198.0,421.2 200.0,420.0 202.0,418.8 204.0,417.6 206.0,416.3 208.0,415.1 210.0,413.9 212.0,412.7 214.0,411.5 216.0,410.3 218.0,409.3 220.0,408.5 222.0,407.8 224.0,407.2 226.0,406.6 228.0,406.0 230.0,405.4 232.0,404.8 234.0,404.2 236.0,403.6 238.0,403.0 240.0,402.4 242.0,401.8 244.0,401.2 246.0,400.6 248.0,400.0 250.0,399.3 252.0,398.6 254.0,397.7 256.0,396.4 258.0,394.8 260.0,393.1 262.0,391.3 264.0,389.5 266.0,387.8 268.0,386.0 270.0,384.2 272.0,382.4 274.0,380.6 276.0,378.9 278.0,377.1 280.0,375.3 282.0,373.5 284.0,371.7 286.0,369.9 288.0,368.1 290.0,366.1 292.0,363.9 294.0,361.4 296.0,358.7 298.0,356.0 300.0,353.3 302.0,350.6 304.0,347.8 306.0,345.1 308.0,342.4 310.0,339.7 312.0,337.0 314.0,334.4 316.0,331.9 318.0,329.8 320.0,327.9 322.0,326.1 324.0,324.3 326.0,322.6 328.0,320.8 330.0,319.1 332.0,317.3 334.0,315.6 336.0,313.8 338.0,312.1 340.0,310.3 342.0,308.6 344.0,307.0 346.0,305.7 348.0,304.6 350.0,303.8 352.0,303.0 354.0,302.3 356.0,301.5 358.0,300.8 360.0,300.0 362.0,299.2 364.0,298.5 366.0,297.7 368.0,297.0 370.0,296.2 372.0,295.4 374.0,294.7 376.0,293.9 378.0,293.2 380.0,292.4 382.0,291.7 384.0,290.9 386.0,290.2 388.0,289.7 390.0,289.5 392.0,289.6 394.0,289.9 396.0,290.2 398.0,290.5 400.0,290.9 402.0,291.2 404.0,291.5 406.0,291.9 408.0,292.2 410.0,292.6 412.0,293.0 414.0,293.5 416.0,294.1 418.0,294.6 420.0,295.2 422.0,295.7 424.0,296.2 426.0,296.8 428.0,297.3 430.0,297.9 432.0,298.4 434.0,299.0 436.0,299.5 438.0,300.1 440.0,300.6 442.0,301.1 444.0,301.7 446.0,302.2 448.0,302.7 450.0,303.0 452.0,302.9 454.0,302.6 456.0,302.0 458.0,301.4 460.0,300.8 462.0,300.1 464.0,299.5 466.0,298.9 468.0,298.3 470.0,297.6 472.0,297.0 474.0,296.4 476.0,295.8 478.0,295.2 480.0,294.7 482.0,294.3 484.0,294.0 486.0,293.7 488.0,293.4 490.0,293.2 492.0,292.9 494.0,292.7 496.0,292.4 498.0,292.1 500.0,291.9 502.0,291.6 504.0,291.3 506.0,291.1 508.0,290.8 510.0,290.5 512.0,290.3 514.0,290.0 516.0,289.7 518.0,289.5 520.0,289.2 522.0,289.0 524.0,288.7 526.0,288.4 528.0,288.2 530.0,287.9 532.0,287.7 534.0,287.5 536.0,287.5 538.0,287.6 540.0,287.8 542.0,288.0 544.0,288.2 546.0,288.4 548.0,288.5 550.0,288.7 552.0,288.9 554.0,289.1 556.0,289.3 558.0,289.5 560.0,289.7 562.0,289.8 564.0,290.0 566.0,290.2 568.0,290.4 570.0,290.6 572.0,290.7 574.0,290.8 576.0,290.7 578.0,290.5 580.0,290.2 582.0,290.0 584.0,289.7 586.0,289.5 588.0,289.4 590.0,289.6 592.0,290.0 594.0,290.6 596.0,291.2 598.0,291.8 600.0,292.4 602.0,293.0 604.0,293.7 606.0,294.3 608.0,294.9 610.0,295.5 612.0,296.1 614.0,296.7 616.0,297.3 618.0,297.6 620.0,297.8 622.0,297.7 624.0,297.6 626.0,297.4 628.0,297.3 630.0,297.1 632.0,297.0 634.0,296.8 636.0,296.7 638.0,296.6 640.0,296.4 642.0,296.3 644.0,296.3 646.0,296.2 648.0,296.1 650.0,296.1 652.0,296.0 654.0,295.9 656.0,295.9 658.0,295.8 660.0,295.7 662.0,295.7 664.0,295.6 666.0,295.6 668.0,295.5 670.0,295.4 672.0,295.4 674.0,295.3 676.0,295.2 678.0,295.2 680.0,295.1 682.0,295.0 684.0,295.0 686.0,294.9 688.0,294.8 690.0,294.8 692.0,294.7 694.0,294.6 696.0,294.4 698.0,294.0 700.0,293.1 702.0,291.9 704.0,290.6 706.0,289.3 708.0,288.0 710.0,286.7 712.0,285.3 714.0,284.0 716.0,282.6 718.0,280.9 720.0,278.3 722.0,274.5 724.0,269.9 726.0,264.9 728.0,259.9 730.0,254.8 732.0,249.8 734.0,244.8 736.0,239.7 738.0,234.7 740.0,229.7 742.0,224.6 744.0,219.6 746.0,214.7 748.0,210.1 750.0,206.1 752.0,202.7 754.0,199.6 756.0,196.6 758.0,193.6 760.0,190.6 762.0,187.7 764.0,184.7 766.0,181.7 768.0,178.7 770.0,175.8 772.0,172.8 774.0,169.8 776.0,166.8 778.0,163.9 780.0,160.9 782.0,158.0 784.0,155.2 786.0,152.8 788.0,150.8 790.0,149.1 792.0,147.5 794.0,145.9 796.0,144.3 798.0,142.7 800.0,141.1 802.0,139.5 804.0,137.9 806.0,136.3 808.0,134.7 810.0,133.1 812.0,131.5 814.0,129.9 816.0,128.3 818.0,126.7 820.0,125.1 822.0,123.6 824.0,122.2 826.0,120.8 828.0,119.4 830.0,118.1 832.0,116.8 834.0,115.4 836.0,114.1 838.0,112.8 840.0,111.5 842.0,110.3 844.0,109.5 846.0,109.1 848.0,109.0 850.0,109.0 852.0,109.0 854.0,109.0 856.0,109.0 858.0,109.0 860.0,109.0 862.0,109.0 864.0,109.0 866.0,109.0 868.0,109.0 870.0,109.0 872.0,109.0 874.0,109.0 876.0,109.0 878.0,109.0 880.0,109.0 882.0,109.0 884.0,109.0 886.0,109.0 888.0,109.0 890.0,109.0 892.0,109.0 894.0,109.0 896.0,109.0 898.0,109.0 900.0,109.0 902.0,109.0 904.0,109.0 906.0,109.0 908.0,109.0 910.0,109.0 912.0,109.0 914.0,109.0 916.0,109.0 918.0,109.0 920.0,109.0 922.0,109.0 924.0,109.0 926.0,109.0 928.0,109.0 930.0,108.9 932.0,108.7 934.0,108.4 936.0,108.0 938.0,107.6 940.0,107.2 942.0,106.8 944.0,106.4 946.0,106.0 948.0,105.6 950.0,105.2 952.0,104.8 954.0,104.4 956.0,104.0 958.0,103.6 960.0,103.2 962.0,102.8 964.0,102.4 966.0,101.9 968.0,101.3 970.0,100.7 972.0,100.0 974.0,99.2 976.0,98.5 978.0,97.8 980.0,97.0 982.0,96.3 984.0,95.6 986.0,94.8 988.0,94.1 990.0,93.4 992.0,92.6 994.0,91.9 996.0,91.3 998.0,90.7 1000.0,90.2 1002.0,89.8 1004.0,89.4 1006.0,88.9 1008.0,88.5 1010.0,88.1 1012.0,87.6 1014.0,87.2 1016.0,86.8 1018.0,86.3 1020.0,85.9 1022.0,85.6 1024.0,85.3 1026.0,85.1 1028.0,84.9 1030.0,84.7 1032.0,84.5 1034.0,84.3 1036.0,84.0 1038.0,83.8 1040.0,83.6 1042.0,83.4 1044.0,83.2 1046.0,83.0 1048.0,82.8 1050.0,82.6 1052.0,82.4 1054.0,82.2 1056.0,82.0 1058.0,81.8 1060.0,81.7 1062.0,81.5 1064.0,81.4 1066.0,81.3 1068.0,81.1 1070.0,81.0 1072.0,80.9 1074.0,80.7 1076.0,80.6 1078.0,80.5 1080.0,80.4 1082.0,80.2 1084.0,80.1 1086.0,80.0 1088.0,79.8 1090.0,79.7 1092.0,79.6 1094.0,79.4 1096.0,79.3 1098.0,79.2 1100.0,79.0 1102.0,78.9 1104.0,78.8 1106.0,78.6 1108.0,78.5 1110.0,78.4 1112.0,78.4 1114.0,78.5 1116.0,78.7 1118.0,79.0 1120.0,79.2 1122.0,79.5 1124.0,79.8 1126.0,80.1 1128.0,80.4 1130.0,80.7 1132.0,80.9 1134.0,81.3 1136.0,81.7 1138.0,82.3 1140.0,83.3 1142.0,84.5 1144.0,85.9 1146.0,87.3 1148.0,88.6 1150.0,90.0 1152.0,91.4 1154.0,92.7 1156.0,94.1 1158.0,95.5 1160.0,96.8 1162.0,98.2 1164.0,99.6 1166.0,101.1 1168.0,102.9 1170.0,104.9 1172.0,107.1 1174.0,109.3 1176.0,111.6 1178.0,113.8 1180.0,116.1 1182.0,118.3 1184.0,120.6 1186.0,122.8 1188.0,125.1 1190.0,127.3 1192.0,129.6 1194.0,131.8 1196.0,134.0 1198.0,136.1 1200.0,138.1 1202.0,140.1 1204.0,142.1 1206.0,144.2 1208.0,146.2 1210.0,148.2 1212.0,150.2 1214.0,152.2 1216.0,154.2 1218.0,156.2 1220.0,158.2 1222.0,160.3 1224.0,162.3 1226.0,164.4 1228.0,166.9 1230.0,169.9 1232.0,173.4 1234.0,177.3 1236.0,181.3 1238.0,185.2 1240.0,189.2 1242.0,193.2 1244.0,197.2 1246.0,201.2 1248.0,205.2 1250.0,209.2 1252.0,213.1 1254.0,217.1 1256.0,221.2 1258.0,225.4 1260.0,229.9 1262.0,234.6 1264.0,239.4 1266.0,244.2 1268.0,249.0 1270.0,253.8 1272.0,258.5 1274.0,263.3 1276.0,268.1 1278.0,272.8 1280.0,277.3 1282.0,281.3 1284.0,284.6 1286.0,287.4 1288.0,290.0 1290.0,292.6 1292.0,295.2 1294.0,297.8 1296.0,300.3 1298.0,302.8 1300.0,304.9 1302.0,306.6 1304.0,308.1 1306.0,309.4 1308.0,310.7 1310.0,312.0 1312.0,313.3 1314.0,314.6 1316.0,315.9 1318.0,317.1 1320.0,318.4 1322.0,319.7 1324.0,321.1 1326.0,322.5 1328.0,323.9 1330.0,325.5 1332.0,327.0 1334.0,328.5 1336.0,330.1 1338.0,331.6 1340.0,333.1 1342.0,334.7 1344.0,336.2 1346.0,337.7 1348.0,339.3 1350.0,340.8 1352.0,342.3 1354.0,343.9 1356.0,345.4 1358.0,346.8 1360.0,348.0 1362.0,348.7 1364.0,349.0 1366.0,349.0 1368.0,348.9 1370.0,348.7 1372.0,348.6 1374.0,348.5 1376.0,348.4 1378.0,348.2 1380.0,348.1 1382.0,348.0 1384.0,347.9 1386.0,347.7 1388.0,347.6 1390.0,347.5 1392.0,347.3 1394.0,347.2 1396.0,347.1 1398.0,347.0 1400.0,346.8 1402.0,346.7 1404.0,346.6 1406.0,346.4 1408.0,346.3 1410.0,346.1 1412.0,346.0 1414.0,345.8 1416.0,345.7 1418.0,345.5 1420.0,345.4 1422.0,345.2 1424.0,345.1 1426.0,344.9 1428.0,344.8 1430.0,344.6 1432.0,344.4 1434.0,344.2 1436.0,343.7 1438.0,343.1 1440.0,342.3 1442.0,341.5 1444.0,340.6 1446.0,339.8 1448.0,339.0 1450.0,338.1 1452.0,337.3 1454.0,336.5 1456.0,335.6 1458.0,334.8 1460.0,333.9 1462.0,333.1 1464.0,332.3 1466.0,331.6 1468.0,331.0 1470.0,330.4 1472.0,330.0 1474.0,329.5 1476.0,329.0 1478.0,328.5 1480.0,328.1 1482.0,327.6 1484.0,327.1 1486.0,326.6 1488.0,326.2 1490.0,325.7 1492.0,325.2 1494.0,324.8 1496.0,324.3 1498.0,323.8 1500.0,323.3 1502.0,322.9 1504.0,322.4 1506.0,321.8 1508.0,321.3 1510.0,320.7 1512.0,320.2 1514.0,319.6 1516.0,319.0 1518.0,318.5 1520.0,317.9 1522.0,317.4 1524.0,316.8 1526.0,316.3 1528.0,315.8 1530.0,315.4 1532.0,315.1 1534.0,315.0 1536.0,314.9 1538.0,314.8 1540.0,314.7 1542.0,314.6 1544.0,314.5 1546.0,314.4 1548.0,314.3 1550.0,314.3 1552.0,314.2 1554.0,314.2 1556.0,314.3 1558.0,314.5 1560.0,314.8 1562.0,315.2 1564.0,315.5 1566.0,315.9 1568.0,316.2 1570.0,316.6 1572.0,316.9 1574.0,317.3 1576.0,317.6 1578.0,318.0 1580.0,318.3 1582.0,318.7 1584.0,319.0 1586.0,319.4 1588.0,319.7 1590.0,320.1 1592.0,320.4 1594.0,320.8 1596.0,321.1 1598.0,321.5 1600.0,321.8 1602.0,322.2 1604.0,322.5 1606.0,322.8 1608.0,323.1 1610.0,323.3 1612.0,323.5 1614.0,323.7 1616.0,323.9 1618.0,324.1 1620.0,324.3 1622.0,324.5 1624.0,324.7 1626.0,324.9 1628.0,325.1 1630.0,325.3 1632.0,325.5 1634.0,325.7 1636.0,325.9 1638.0,326.1 1640.0,326.3 1642.0,326.3 1644.0,326.1 1646.0,325.2 1648.0,323.7 1650.0,321.8 1652.0,319.8 1654.0,317.7 1656.0,315.6 1658.0,313.6 1660.0,311.5 1662.0,309.4 1664.0,307.4 1666.0,305.3 1668.0,303.2 1670.0,301.2 1672.0,299.1 1674.0,297.0 1676.0,295.0 1678.0,292.9 1680.0,290.8 1682.0,288.8 1684.0,286.9 1686.0,285.1 1688.0,283.4 1690.0,281.7 1692.0,280.1 1694.0,278.4 1696.0,276.6 1698.0,274.5 1700.0,271.8 1702.0,268.6 1704.0,265.1 1706.0,261.5 1708.0,257.9 1710.0,254.2 1712.0,250.6 1714.0,247.0 1716.0,243.3 1718.0,239.7 1720.0,236.1 1722.0,232.4 1724.0,228.9 1726.0,225.5 1728.0,222.4 1730.0,219.8 1732.0,217.4 1734.0,215.0 1736.0,212.7 1738.0,210.4 1740.0,208.1 1742.0,205.8 1744.0,203.4 1746.0,201.1 1748.0,198.8 1750.0,196.5 1752.0,194.2 1754.0,191.9 1756.0,189.5 1758.0,187.2 1760.0,184.9 1762.0,182.6 1764.0,180.3 1766.0,178.0 1768.0,175.6 1770.0,173.3 1772.0,171.0 1774.0,168.7 1776.0,166.4 1778.0,164.1 1780.0,161.8 1782.0,159.7 1784.0,157.8 1786.0,156.1 1788.0,154.5 1790.0,152.9 1792.0,151.4 1794.0,149.8 1796.0,148.3 1798.0,146.7 1800.0,145.2 1802.0,143.6 1804.0,142.0 1806.0,140.5 1808.0,138.9 1810.0,137.4 1812.0,135.8 1814.0,134.3 1816.0,132.7 1818.0,131.2 1820.0,129.6 1822.0,128.1 1824.0,126.5 1826.0,124.8 1828.0,122.9 1830.0,120.5 1832.0,117.7 1834.0,114.7 1836.0,111.5 1838.0,108.4 1840.0,105.2 1842.0,102.1 1844.0,98.9 1846.0,95.8 1848.0,92.6 1850.0,89.5 1852.0,86.3 1854.0,83.2 1856.0,80.0 1858.0,76.9 1860.0,73.8 1862.0,71.0 1864.0,68.9" fill="none" stroke="#7c9292" stroke-width="1" stroke-dasharray="4,3" stroke-linejoin="round"/>
<polyline points="400.0,674.8 402.0,673.2 404.0,671.0 406.0,668.5 408.0,666.0 410.0,663.5 412.0,661.0 414.0,658.5 416.0,656.0 418.0,653.5 420.0,651.0 422.0,648.5 424.0,646.0 426.0,643.5 428.0,641.0 430.0,638.5 432.0,636.0 434.0,633.3 436.0,630.4 438.0,626.9 440.0,623.2 442.0,619.3 444.0,615.6 446.0,612.1 448.0,609.3 450.0,607.2 452.0,605.6 454.0,604.1 456.0,602.6 458.0,601.1 460.0,599.7 462.0,598.2 464.0,596.7 466.0,595.3 468.0,593.8 470.0,592.3 472.0,590.9 474.0,589.4 476.0,587.9 478.0,586.5 480.0,585.1 482.0,583.7 484.0,582.3 486.0,581.0 488.0,579.6 490.0,578.3 492.0,576.9 494.0,575.6 496.0,574.2 498.0,572.9 500.0,571.6 502.0,570.2 504.0,568.9 506.0,567.5 508.0,566.1 510.0,564.7 512.0,563.2 514.0,561.7 516.0,560.2 518.0,558.7 520.0,557.2 522.0,555.8 524.0,554.2 526.0,552.8 528.0,551.2 530.0,549.8 532.0,548.2 534.0,546.7 536.0,545.2 538.0,543.7 540.0,542.2 542.0,540.7 544.0,539.1 546.0,537.6 548.0,536.0 550.0,534.5 552.0,532.9 554.0,531.4 556.0,529.8 558.0,528.3 560.0,526.7 562.0,525.2 564.0,523.6 566.0,522.1 568.0,520.5 570.0,519.1 572.0,517.7 574.0,516.4 576.0,515.2 578.0,514.0 580.0,512.8 582.0,511.5 584.0,510.3 586.0,509.0 588.0,507.5 590.0,505.7 592.0,503.5 594.0,501.1 596.0,498.6 598.0,496.1 600.0,493.6 602.0,491.1 604.0,488.6 606.0,486.1 608.0,483.6 610.0,481.1 612.0,478.6 614.0,476.1 616.0,473.6 618.0,471.1 620.0,468.7 622.0,466.3 624.0,464.2 626.0,462.7 628.0,461.9 630.0,461.6 632.0,461.4 634.0,461.3 636.0,461.1 638.0,461.0 640.0,460.9 642.0,460.8 644.0,460.7 646.0,460.5 648.0,460.4 650.0,460.3 652.0,460.1 654.0,459.6 656.0,458.9 658.0,457.9 660.0,456.8 662.0,455.7 664.0,454.5 666.0,453.3 668.0,452.2 670.0,451.0 672.0,449.9 674.0,448.8 676.0,447.8 678.0,447.1 680.0,446.5 682.0,446.0 684.0,445.6 686.0,445.2 688.0,444.7 690.0,444.3 692.0,443.8 694.0,443.4 696.0,442.9 698.0,442.5 700.0,442.0 702.0,441.6 704.0,441.1 706.0,440.8 708.0,440.6 710.0,440.9 712.0,441.6 714.0,442.5 716.0,443.4 718.0,444.4 720.0,445.4 722.0,446.4 724.0,447.4 726.0,448.5 728.0,449.8 730.0,451.4 732.0,453.0 734.0,454.7 736.0,456.4 738.0,458.1 740.0,459.8 742.0,461.6 744.0,463.3 746.0,465.0 748.0,466.7 750.0,468.4 752.0,470.1 754.0,471.8 756.0,473.5 758.0,475.2 760.0,476.9 762.0,478.4 764.0,479.7 766.0,480.8 768.0,481.6 770.0,482.3 772.0,483.0 774.0,483.7 776.0,484.4 778.0,485.1 780.0,485.9 782.0,486.6 784.0,487.3 786.0,488.0 788.0,488.7 790.0,489.4 792.0,490.2 794.0,490.9 796.0,491.6 798.0,492.3 800.0,493.0 802.0,493.7 804.0,494.4 806.0,495.2 808.0,495.9 810.0,496.6 812.0,497.1 814.0,497.3 816.0,496.9 818.0,496.0 820.0,494.8 822.0,493.6 824.0,492.4 826.0,491.2 828.0,490.0 830.0,488.7 832.0,487.5 834.0,486.3 836.0,485.1 838.0,483.9 840.0,482.7 842.0,481.4 844.0,480.2 846.0,478.9 848.0,477.6 850.0,476.2 852.0,474.8 854.0,473.4 856.0,472.0 858.0,470.5 860.0,469.1 862.0,467.7 864.0,466.2 866.0,464.8 868.0,463.4 870.0,462.0 872.0,460.8 874.0,459.9 876.0,459.2 878.0,458.7 880.0,458.2 882.0,457.7 884.0,457.2 886.0,456.7 888.0,456.2 890.0,455.7 892.0,455.2 894.0,454.7 896.0,454.2 898.0,453.7 900.0,453.2 902.0,452.9 904.0,452.8 906.0,452.7 908.0,452.7 910.0,452.7 912.0,452.7 914.0,452.7 916.0,452.7 918.0,452.7 920.0,452.7 922.0,452.7 924.0,452.7 926.0,452.7 928.0,452.7 930.0,452.7 932.0,452.7 934.0,452.7 936.0,452.8 938.0,453.1 940.0,453.8 942.0,454.6 944.0,455.6 946.0,456.6 948.0,457.6 950.0,458.6 952.0,459.6 954.0,460.6 956.0,461.6 958.0,462.6 960.0,463.6 962.0,464.6 964.0,465.7 966.0,466.7 968.0,467.9 970.0,469.1 972.0,470.4 974.0,471.7 976.0,473.1 978.0,474.4 980.0,475.7 982.0,477.1 984.0,478.4 986.0,479.7 988.0,481.0 990.0,482.4 992.0,483.7 994.0,485.0 996.0,486.3 998.0,487.6 1000.0,488.9 1002.0,490.1 1004.0,491.2 1006.0,492.3 1008.0,493.4 1010.0,494.5 1012.0,495.6 1014.0,496.7 1016.0,497.8 1018.0,498.9 1020.0,500.0 1022.0,501.1 1024.0,502.2 1026.0,503.3 1028.0,504.4 1030.0,505.5 1032.0,506.6 1034.0,507.7 1036.0,508.8 1038.0,509.9 1040.0,511.1 1042.0,512.4 1044.0,513.8 1046.0,515.2 1048.0,516.6 1050.0,518.0 1052.0,519.4 1054.0,520.8 1056.0,522.2 1058.0,523.6 1060.0,525.0 1062.0,526.4 1064.0,527.7 1066.0,529.1 1068.0,530.5 1070.0,531.9 1072.0,533.3 1074.0,534.7 1076.0,536.0 1078.0,537.1 1080.0,538.2 1082.0,539.2 1084.0,540.2 1086.0,541.2 1088.0,542.2 1090.0,543.2 1092.0,544.2 1094.0,545.2 1096.0,546.2 1098.0,547.2 1100.0,548.2 1102.0,549.2 1104.0,550.2 1106.0,551.2 1108.0,552.2 1110.0,553.1 1112.0,554.0 1114.0,554.8 1116.0,555.5 1118.0,556.1 1120.0,556.7 1122.0,557.3 1124.0,557.9 1126.0,558.5 1128.0,559.1 1130.0,559.7 1132.0,560.3 1134.0,561.0 1136.0,561.6 1138.0,562.2 1140.0,562.8 1142.0,563.4 1144.0,564.0 1146.0,564.5 1148.0,565.0 1150.0,565.2 1152.0,565.1 1154.0,565.0 1156.0,564.8 1158.0,564.6 1160.0,564.4 1162.0,564.2 1164.0,564.0 1166.0,563.8 1168.0,563.6 1170.0,563.4 1172.0,563.2 1174.0,563.0 1176.0,562.8 1178.0,562.6 1180.0,562.4 1182.0,562.1 1184.0,561.9 1186.0,561.5 1188.0,561.0 1190.0,560.5 1192.0,559.9 1194.0,559.3 1196.0,558.7 1198.0,558.1 1200.0,557.5 1202.0,556.9 1204.0,556.3 1206.0,555.7 1208.0,555.1 1210.0,554.5 1212.0,553.9 1214.0,553.3 1216.0,552.7 1218.0,552.1 1220.0,551.4 1222.0,550.6 1224.0,549.6 1226.0,548.5 1228.0,547.3 1230.0,546.0 1232.0,544.8 1234.0,543.6 1236.0,542.4 1238.0,541.2 1240.0,540.0 1242.0,538.8 1244.0,537.6 1246.0,536.4 1248.0,535.2 1250.0,534.0 1252.0,532.7 1254.0,531.5 1256.0,530.3 1258.0,529.0 1260.0,527.5 1262.0,526.0 1264.0,524.4 1266.0,522.8 1268.0,521.2 1270.0,519.6 1272.0,518.0 1274.0,516.5 1276.0,515.3 1278.0,514.5 1280.0,514.0 1282.0,513.6 1284.0,513.2 1286.0,512.9 1288.0,512.6 1290.0,512.3 1292.0,511.9 1294.0,511.6 1296.0,511.3 1298.0,510.9 1300.0,510.6 1302.0,510.3 1304.0,510.0 1306.0,509.6 1308.0,509.3 1310.0,509.0 1312.0,508.6 1314.0,508.3 1316.0,508.0 1318.0,507.6 1320.0,507.3 1322.0,507.0 1324.0,506.7 1326.0,506.3 1328.0,506.0 1330.0,505.7 1332.0,505.6 1334.0,505.4 1336.0,505.4 1338.0,505.3 1340.0,505.3 1342.0,505.2 1344.0,505.2 1346.0,505.1 1348.0,505.1 1350.0,505.0 1352.0,505.0 1354.0,504.9 1356.0,504.8 1358.0,504.8 1360.0,504.7 1362.0,504.7 1364.0,504.6 1366.0,504.6 1368.0,504.5 1370.0,504.5 1372.0,504.4 1374.0,504.4 1376.0,504.3 1378.0,504.3 1380.0,504.2 1382.0,504.2 1384.0,504.1 1386.0,504.1 1388.0,504.0 1390.0,504.0 1392.0,503.9 1394.0,503.9 1396.0,503.8 1398.0,503.7 1400.0,503.7 1402.0,503.6 1404.0,503.3 1406.0,503.0 1408.0,502.5 1410.0,502.0 1412.0,501.5 1414.0,501.0 1416.0,500.5 1418.0,500.0 1420.0,499.5 1422.0,499.0 1424.0,498.5 1426.0,498.0 1428.0,497.5 1430.0,497.0 1432.0,496.5 1434.0,496.0 1436.0,495.5 1438.0,495.1 1440.0,494.8 1442.0,494.6 1444.0,494.6 1446.0,494.7 1448.0,494.8 1450.0,494.8 1452.0,494.9 1454.0,495.0 1456.0,495.1 1458.0,495.1 1460.0,495.2 1462.0,495.3 1464.0,495.3 1466.0,495.4 1468.0,495.5 1470.0,495.5 1472.0,495.6 1474.0,495.7 1476.0,495.8 1478.0,495.8 1480.0,495.9 1482.0,496.0 1484.0,496.0 1486.0,496.1 1488.0,496.2 1490.0,496.2 1492.0,496.3 1494.0,496.2 1496.0,496.0 1498.0,495.7 1500.0,495.3 1502.0,494.9 1504.0,494.5 1506.0,494.1 1508.0,493.7 1510.0,493.3 1512.0,492.9 1514.0,492.7 1516.0,492.5 1518.0,492.4 1520.0,492.3 1522.0,492.2 1524.0,492.1 1526.0,492.0 1528.0,491.9 1530.0,491.8 1532.0,491.7 1534.0,491.6 1536.0,491.5 1538.0,491.4 1540.0,491.3 1542.0,491.2 1544.0,491.1 1546.0,491.0 1548.0,490.9 1550.0,490.8 1552.0,490.7 1554.0,490.6 1556.0,490.5 1558.0,490.4 1560.0,490.3 1562.0,490.2 1564.0,490.1 1566.0,490.0 1568.0,489.9 1570.0,489.8 1572.0,489.7 1574.0,489.6 1576.0,489.5 1578.0,489.4 1580.0,489.3 1582.0,489.2 1584.0,489.1 1586.0,489.1 1588.0,489.1 1590.0,489.1 1592.0,489.2 1594.0,489.3 1596.0,489.3 1598.0,489.4 1600.0,489.5 1602.0,489.5 1604.0,489.6 1606.0,489.6 1608.0,489.7 1610.0,489.8 1612.0,489.8 1614.0,489.9 1616.0,489.9 1618.0,490.0 1620.0,490.1 1622.0,490.1 1624.0,490.2 1626.0,490.3 1628.0,490.3 1630.0,490.4 1632.0,490.4 1634.0,490.5 1636.0,490.6 1638.0,490.6 1640.0,490.7 1642.0,490.8 1644.0,490.8 1646.0,490.9 1648.0,491.0 1650.0,491.2 1652.0,491.4 1654.0,491.6 1656.0,491.7 1658.0,491.9 1660.0,492.1 1662.0,492.3 1664.0,492.5 1666.0,492.7 1668.0,492.9 1670.0,493.3 1672.0,493.8 1674.0,494.3 1676.0,494.9 1678.0,495.5 1680.0,496.1 1682.0,496.6 1684.0,497.2 1686.0,497.8 1688.0,498.4 1690.0,498.8 1692.0,499.2 1694.0,499.5 1696.0,499.7 1698.0,499.8 1700.0,500.0 1702.0,500.1 1704.0,500.3 1706.0,500.5 1708.0,500.8 1710.0,501.3 1712.0,501.8 1714.0,502.4 1716.0,503.0 1718.0,503.6 1720.0,504.2 1722.0,504.8 1724.0,505.5 1726.0,506.1 1728.0,506.7 1730.0,507.3 1732.0,507.9 1734.0,508.4 1736.0,508.7 1738.0,508.9 1740.0,509.0 1742.0,509.0 1744.0,508.9 1746.0,508.8 1748.0,508.3 1750.0,507.7 1752.0,507.0 1754.0,506.3 1756.0,505.5 1758.0,504.8 1760.0,504.0 1762.0,503.2 1764.0,502.5 1766.0,501.8 1768.0,501.1 1770.0,500.5 1772.0,500.1 1774.0,499.7 1776.0,499.3 1778.0,498.9 1780.0,498.6 1782.0,498.2 1784.0,497.8 1786.0,497.5 1788.0,497.1 1790.0,496.8 1792.0,496.6 1794.0,496.5 1796.0,496.5 1798.0,496.5 1800.0,496.5 1802.0,496.5 1804.0,496.5 1806.0,496.5 1808.0,496.5 1810.0,496.4 1812.0,496.3 1814.0,496.0 1816.0,495.7 1818.0,495.5 1820.0,495.2 1822.0,494.9 1824.0,494.6 1826.0,494.3 1828.0,494.0 1830.0,493.7 1832.0,493.5 1834.0,493.3 1836.0,493.3 1838.0,493.5 1840.0,493.8 1842.0,494.3 1844.0,494.7 1846.0,495.1 1848.0,495.6 1850.0,496.0 1852.0,496.5 1854.0,496.9 1856.0,497.3 1858.0,497.8 1860.0,498.2 1862.0,498.6 1864.0,498.9" fill="none" stroke="#7c9292" stroke-width="1" stroke-dasharray="4,3" stroke-linejoin="round"/>
<polyline points="167.0,670.3 186.4,670.3 189.2,650.3 205.9,650.3 208.7,628.6 225.3,628.6 229.0,610.5 244.8,610.5 249.0,591.6 265.0,591.6 269.0,573.0 285.0,573.0 289.3,553.5 304.6,553.5 308.8,535.4 325.5,535.4 329.0,518.7 345.0,518.7 349.0,502.0 365.2,502.0 369.0,483.4 385.2,483.4 388.9,472.8 406.0,472.8 411.0,464.0 426.5,464.0 430.3,455.8 444.4,455.8 449.6,443.0 463.7,443.0 468.8,433.0 483.0,433.0 488.0,423.7 502.2,423.7 506.0,417.0 520.0,417.0 524.0,408.0 543.6,408.0 548.3,400.2 567.2,400.2 571.0,393.6 584.0,393.6 588.0,386.0 592.0,386.0 595.5,381.3 625.7,381.3 629.4,377.5 643.6,377.5 646.4,372.8 665.3,372.8 669.0,368.0 686.0,368.0 689.8,363.4 705.0,363.4 708.7,358.7 723.8,358.7 727.5,350.5 744.5,350.5 749.2,340.8 765.0,340.8 769.0,331.3 785.0,331.3 788.9,324.7 805.0,324.7 808.7,309.6 825.0,309.6 829.4,296.4 845.5,296.4 849.2,288.0 865.0,288.0 868.9,284.8 925.3,284.8 930.5,288.5 945.0,288.5 949.0,292.3 965.0,292.3 969.0,296.0 984.5,296.0 989.5,300.8 1006.0,300.8 1010.0,304.4 1025.7,304.4 1028.3,307.0 1043.7,307.0 1048.8,310.8 1066.8,310.8 1069.3,314.7 1084.7,316.0 1089.9,319.8 1105.3,319.8 1107.8,325.0 1125.8,326.2 1131.0,331.3 1143.8,331.3 1149.0,337.8 1164.3,336.5 1170.7,348.0 1184.0,348.0 1189.0,358.3 1204.5,358.3 1209.7,366.0 1230.2,366.0 1232.8,381.4 1245.6,381.4 1250.7,395.5 1263.6,395.5 1268.7,405.8 1286.7,405.8 1291.8,412.2 1309.8,413.5 1312.3,417.3 1327.7,420.0 1332.9,425.0 1399.6,425.0 1407.3,418.6 1438.0,418.6 1441.0,415.3 1447.0,415.3 1450.0,413.0 1465.0,413.0 1469.4,409.3 1485.9,409.3 1488.9,404.8 1506.8,404.8 1509.8,401.8 1527.8,401.8 1530.8,400.3 1545.7,400.3 1548.7,402.5 1563.7,402.5 1568.2,406.3 1586.0,406.3 1589.0,408.9 1606.7,408.9 1645.2,408.9 1650.3,401.2 1665.7,401.2 1670.8,391.0 1686.2,391.0 1691.4,380.7 1706.8,379.4 1710.6,365.3 1724.7,365.3 1729.9,355.0 1745.3,353.7 1750.4,339.6 1765.8,339.6 1769.7,326.8 1783.8,326.8 1788.9,315.2 1805.6,315.0 1809.5,303.6 1827.4,303.6 1830.0,290.8 1845.4,290.8 1849.2,276.0 1866.0,276.0" fill="none" stroke="#b4a4a4" stroke-width="1.5" stroke-linejoin="round" />
<polyline points="509.0,674.5 565.5,674.5 569.0,647.3 625.5,647.3 629.0,620.7 685.5,620.7 689.0,585.5 745.5,585.5 749.0,551.0 805.5,551.0 809.0,515.6 865.5,515.6 869.0,487.3 925.5,487.3 929.0,466.2 985.5,466.2 989.0,443.6 1045.0,443.3 1048.8,425.0 1105.3,425.0 1109.0,405.8 1164.3,405.8 1169.4,387.3 1227.6,386.0 1230.2,382.7 1284.1,382.7 1289.2,378.8 1345.7,378.8 1348.3,373.7 1404.7,373.7 1409.9,368.6 1645.2,368.6 1650.3,358.9 1706.8,358.9 1709.3,349.9 1765.8,349.9 1769.7,338.9 1825.6,339.0 1829.2,322.8 1864.6,322.8" fill="none" stroke="#a6e05c" stroke-width="1.5" stroke-linejoin="round" />
<polyline points="214.5,675.2 216.5,674.1 218.5,672.6 220.5,670.9 222.5,669.3 224.5,667.6 226.5,665.9 228.5,664.2 230.5,662.5 232.5,660.8 234.5,659.2 236.5,657.5 238.5,655.8 240.5,654.1 242.5,652.4 244.5,650.7 246.5,649.1 248.5,647.4 250.5,645.7 252.5,644.0 254.5,642.3 256.5,640.6 258.5,639.0 260.5,637.3 262.5,635.6 264.5,633.9 266.5,632.2 268.5,630.5 270.5,628.9 272.5,627.2 274.5,625.6 276.5,624.0 278.5,622.4 280.5,620.8 282.5,619.2 284.5,617.6 286.5,616.0 288.5,614.4 290.5,612.8 292.5,611.2 294.5,609.6 296.5,608.0 298.5,606.4 300.5,604.8 302.5,603.2 304.5,601.6 306.5,600.0 308.5,598.4 310.5,596.8 312.5,595.2 314.5,593.6 316.5,592.0 318.5,590.4 320.5,588.8 322.5,587.2 324.5,585.6 326.5,584.1 328.5,582.7 330.5,581.4 332.5,580.1 334.5,578.8 336.5,577.6 338.5,576.3 340.5,575.0 342.5,573.7 344.5,572.5 346.5,571.2 348.5,569.9 350.5,568.6 352.5,567.4 354.5,566.1 356.5,564.8 358.5,563.6 360.5,562.3 362.5,561.0 364.5,559.7 366.5,558.5 368.5,557.2 370.5,555.9 372.5,554.7 374.5,553.4 376.5,552.1 378.5,550.8 380.5,549.6 382.5,548.3 384.5,547.0 386.5,545.7 388.5,544.5 390.5,543.3 392.5,542.2 394.5,541.4 396.5,540.7 398.5,540.1 400.5,539.5 402.5,538.9 404.5,538.3 406.5,537.7 408.5,537.1 410.5,536.5 412.5,535.9 414.5,535.4 416.5,534.8 418.5,534.2 420.5,533.6 422.5,533.0 424.5,532.4 426.5,531.8 428.5,531.2 430.5,530.6 432.5,530.0 434.5,529.4 436.5,528.6 438.5,527.7 440.5,526.7 442.5,525.8 444.5,524.8 446.5,523.8 448.5,522.8 450.5,521.8 452.5,520.7 454.5,519.8 456.5,518.7 458.5,517.8 460.5,516.8 462.5,515.8 464.5,514.8 466.5,513.7 468.5,512.8 470.5,511.8 472.5,510.8 474.5,509.8 476.5,508.8 478.5,507.8 480.5,507.0 482.5,506.3 484.5,505.6 486.5,505.0 488.5,504.4 490.5,503.7 492.5,503.1 494.5,502.5 496.5,501.9 498.5,501.3 500.5,500.6 502.5,500.0 504.5,499.4 506.5,498.7 508.5,498.0 510.5,497.2 512.5,496.3 514.5,495.4 516.5,494.5 518.5,493.5 520.5,492.6 522.5,491.6 524.5,490.7 526.5,489.8 528.5,488.8 530.5,487.9 532.5,486.9 534.5,486.0 536.5,485.1 538.5,484.1 540.5,483.2 542.5,482.2 544.5,481.3 546.5,480.4 548.5,479.4 550.5,478.5 552.5,477.5 554.5,476.6 556.5,475.7 558.5,474.8 560.5,474.0 562.5,473.2 564.5,472.6 566.5,471.9 568.5,471.3 570.5,470.6 572.5,470.0 574.5,469.3 576.5,468.7 578.5,468.1 580.5,467.4 582.5,466.7 584.5,465.9 586.5,465.1 588.5,464.3 590.5,463.5 592.5,462.7 594.5,461.9 596.5,461.0 598.5,460.2 600.5,459.4 602.5,458.6 604.5,457.9 606.5,457.2 608.5,456.5 610.5,455.8 612.5,455.2 614.5,454.6 616.5,453.9 618.5,453.3 620.5,452.7 622.5,452.0 624.5,451.4 626.5,450.7 628.5,450.1 630.5,449.5 632.5,448.8 634.5,448.2 636.5,447.5 638.5,446.9 640.5,446.3 642.5,445.6 644.5,445.0 646.5,444.4 648.5,443.7 650.5,443.1 652.5,442.4 654.5,441.8 656.5,441.2 658.5,440.5 660.5,439.9 662.5,439.2 664.5,438.6 666.5,438.0 668.5,437.3 670.5,436.7 672.5,436.0 674.5,435.4 676.5,434.8 678.5,434.1 680.5,433.5 682.5,432.8 684.5,432.1 686.5,431.4 688.5,430.7 690.5,430.0 692.5,429.3 694.5,428.6 696.5,428.0 698.5,427.3 700.5,426.6 702.5,425.9 704.5,425.2 706.5,424.4 708.5,423.7 710.5,422.8 712.5,421.8 714.5,420.8 716.5,419.8 718.5,418.8 720.5,417.8 722.5,416.7 724.5,415.7 726.5,414.7 728.5,413.7 730.5,412.6 732.5,411.4 734.5,410.1 736.5,408.6 738.5,407.1 740.5,405.5 742.5,403.9 744.5,402.3 746.5,400.8 748.5,399.2 750.5,397.6 752.5,396.0 754.5,394.5 756.5,392.9 758.5,391.3 760.5,389.8 762.5,388.3 764.5,387.0 766.5,385.9 768.5,384.8 770.5,383.7 772.5,382.5 774.5,381.1 776.5,379.7 778.5,378.2 780.5,376.7 782.5,375.3 784.5,373.8 786.5,372.3 788.5,370.8 790.5,369.4 792.5,367.9 794.5,366.4 796.5,364.9 798.5,363.5 800.5,362.0 802.5,360.5 804.5,359.1 806.5,357.6 808.5,356.2 810.5,354.8 812.5,353.5 814.5,352.2 816.5,351.0 818.5,349.8 820.5,348.5 822.5,347.3 824.5,346.1 826.5,344.8 828.5,343.6 830.5,342.4 832.5,341.1 834.5,339.9 836.5,338.5 838.5,337.1 840.5,335.7 842.5,334.2 844.5,332.7 846.5,331.2 848.5,329.7 850.5,328.3 852.5,327.1 854.5,326.2 856.5,325.6 858.5,325.1 860.5,324.8 862.5,324.5 864.5,324.1 866.5,323.8 868.5,323.4 870.5,323.1 872.5,322.7 874.5,322.4 876.5,322.0 878.5,321.7 880.5,321.4 882.5,321.1 884.5,320.8 886.5,320.7 888.5,320.7 890.5,320.7 892.5,320.7 894.5,320.7 896.5,320.7 898.5,320.7 900.5,320.7 902.5,320.7 904.5,320.8 906.5,320.9 908.5,321.0 910.5,321.2 912.5,321.4 914.5,321.6 916.5,321.8 918.5,322.0 920.5,322.1 922.5,322.3 924.5,322.5 926.5,322.7 928.5,322.9 930.5,323.1 932.5,323.3 934.5,323.7 936.5,324.0 938.5,324.4 940.5,324.8 942.5,325.3 944.5,325.7 946.5,326.1 948.5,326.6 950.5,327.2 952.5,328.1 954.5,329.2 956.5,330.3 958.5,331.5 960.5,332.7 962.5,333.9 964.5,335.1 966.5,336.1 968.5,337.0 970.5,337.7 972.5,338.4 974.5,339.1 976.5,339.7 978.5,340.4 980.5,341.0 982.5,341.7 984.5,342.4 986.5,343.0 988.5,343.8 990.5,344.6 992.5,345.6 994.5,346.6 996.5,347.6 998.5,348.6 1000.5,349.6 1002.5,350.6 1004.5,351.5 1006.5,352.2 1008.5,352.8 1010.5,353.3 1012.5,353.9 1014.5,354.4 1016.5,354.9 1018.5,355.4 1020.5,355.9 1022.5,356.5 1024.5,357.0 1026.5,357.5 1028.5,358.0 1030.5,358.6 1032.5,359.1 1034.5,359.6 1036.5,360.1 1038.5,360.6 1040.5,361.2 1042.5,361.7 1044.5,362.2 1046.5,362.7 1048.5,363.1 1050.5,363.6 1052.5,364.1 1054.5,364.5 1056.5,365.0 1058.5,365.5 1060.5,365.9 1062.5,366.4 1064.5,366.9 1066.5,367.4 1068.5,367.8 1070.5,368.3 1072.5,368.8 1074.5,369.2 1076.5,369.7 1078.5,370.2 1080.5,370.6 1082.5,371.0 1084.5,371.2 1086.5,371.5 1088.5,371.7 1090.5,371.9 1092.5,372.1 1094.5,372.3 1096.5,372.5 1098.5,372.7 1100.5,372.9 1102.5,373.1 1104.5,373.3 1106.5,373.5 1108.5,373.7 1110.5,373.9 1112.5,374.1 1114.5,374.3 1116.5,374.6 1118.5,374.8 1120.5,375.0 1122.5,375.2 1124.5,375.4 1126.5,375.6 1128.5,375.8 1130.5,376.0 1132.5,376.1 1134.5,376.1 1136.5,376.0 1138.5,375.9 1140.5,375.7 1142.5,375.5 1144.5,375.4 1146.5,375.2 1148.5,375.0 1150.5,374.9 1152.5,374.7 1154.5,374.5 1156.5,374.4 1158.5,374.2 1160.5,374.0 1162.5,373.9 1164.5,373.8 1166.5,373.9 1168.5,374.0 1170.5,374.1 1172.5,374.2 1174.5,374.4 1176.5,374.5 1178.5,374.6 1180.5,374.8 1182.5,374.9 1184.5,374.9 1186.5,375.0 1188.5,375.0 1190.5,375.0 1192.5,375.0 1194.5,375.0 1196.5,375.0 1198.5,375.0 1200.5,375.0 1202.5,375.0 1204.5,375.0 1206.5,375.0 1208.5,375.0 1210.5,375.0 1212.5,375.0 1214.5,375.0 1216.5,375.0 1218.5,375.0 1220.5,375.1 1222.5,375.3 1224.5,375.7 1226.5,376.2 1228.5,376.8 1230.5,377.4 1232.5,378.0 1234.5,378.6 1236.5,379.2 1238.5,379.8 1240.5,380.4 1242.5,381.0 1244.5,381.6 1246.5,382.2 1248.5,382.8 1250.5,383.4 1252.5,383.9 1254.5,384.4 1256.5,385.0 1258.5,385.5 1260.5,386.0 1262.5,386.6 1264.5,387.1 1266.5,387.6 1268.5,388.2 1270.5,388.7 1272.5,389.2 1274.5,389.8 1276.5,390.3 1278.5,390.8 1280.5,391.3 1282.5,391.9 1284.5,392.4 1286.5,392.9 1288.5,393.3 1290.5,393.8 1292.5,394.2 1294.5,394.5 1296.5,394.9 1298.5,395.3 1300.5,395.7 1302.5,396.1 1304.5,396.5 1306.5,396.9 1308.5,397.3 1310.5,397.7 1312.5,398.1 1314.5,398.5 1316.5,398.9 1318.5,399.3 1320.5,399.7 1322.5,400.1 1324.5,400.4 1326.5,400.7 1328.5,400.9 1330.5,401.2 1332.5,401.4 1334.5,401.6 1336.5,401.8 1338.5,402.0 1340.5,402.2 1342.5,402.4 1344.5,402.6 1346.5,402.8 1348.5,403.0 1350.5,403.2 1352.5,403.4 1354.5,403.6 1356.5,403.8 1358.5,404.0 1360.5,404.2 1362.5,404.3 1364.5,404.4 1366.5,404.5 1368.5,404.5 1370.5,404.5 1372.5,404.5 1374.5,404.5 1376.5,404.5 1378.5,404.5 1380.5,404.5 1382.5,404.5 1384.5,404.5 1386.5,404.5 1388.5,404.5 1390.5,404.5 1392.5,404.5 1394.5,404.5 1396.5,404.5 1398.5,404.5 1400.5,404.5 1402.5,404.4 1404.5,404.2 1406.5,404.1 1408.5,403.9 1410.5,403.7 1412.5,403.5 1414.5,403.3 1416.5,403.1 1418.5,402.8 1420.5,402.6 1422.5,402.4 1424.5,402.2 1426.5,402.0 1428.5,401.8 1430.5,401.6 1432.5,401.4 1434.5,401.2 1436.5,401.0 1438.5,400.8 1440.5,400.6 1442.5,400.4 1444.5,400.1 1446.5,399.8 1448.5,399.6 1450.5,399.3 1452.5,399.0 1454.5,398.8 1456.5,398.5 1458.5,398.2 1460.5,398.0 1462.5,397.7 1464.5,397.4 1466.5,397.2 1468.5,396.9 1470.5,396.7 1472.5,396.4 1474.5,396.1 1476.5,395.9 1478.5,395.6 1480.5,395.4 1482.5,395.2 1484.5,395.1 1486.5,394.9 1488.5,394.7 1490.5,394.6 1492.5,394.4 1494.5,394.3 1496.5,394.1 1498.5,393.9 1500.5,393.8 1502.5,393.6 1504.5,393.5 1506.5,393.4 1508.5,393.3 1510.5,393.2 1512.5,393.1 1514.5,393.0 1516.5,392.9 1518.5,392.8 1520.5,392.7 1522.5,392.6 1524.5,392.5 1526.5,392.4 1528.5,392.3 1530.5,392.2 1532.5,392.1 1534.5,392.0 1536.5,391.9 1538.5,391.8 1540.5,391.7 1542.5,391.6 1544.5,391.5 1546.5,391.4 1548.5,391.3 1550.5,391.2 1552.5,391.2 1554.5,391.1 1556.5,391.1 1558.5,391.2 1560.5,391.3 1562.5,391.4 1564.5,391.4 1566.5,391.5 1568.5,391.6 1570.5,391.7 1572.5,391.8 1574.5,391.9 1576.5,392.0 1578.5,392.1 1580.5,392.2 1582.5,392.3 1584.5,392.4 1586.5,392.5 1588.5,392.6 1590.5,392.7 1592.5,392.8 1594.5,392.9 1596.5,393.0 1598.5,393.1 1600.5,393.2 1602.5,393.3 1604.5,393.4 1606.5,393.4 1608.5,393.5 1610.5,393.5 1612.5,393.5 1614.5,393.5 1616.5,393.5 1618.5,393.5 1620.5,393.5 1622.5,393.5 1624.5,393.5 1626.5,393.5 1628.5,393.5 1630.5,393.5 1632.5,393.5 1634.5,393.4 1636.5,393.3 1638.5,392.8 1640.5,392.2 1642.5,391.4 1644.5,390.6 1646.5,389.8 1648.5,388.9 1650.5,388.1 1652.5,387.3 1654.5,386.4 1656.5,385.6 1658.5,384.8 1660.5,383.9 1662.5,383.1 1664.5,382.3 1666.5,381.4 1668.5,380.6 1670.5,379.8 1672.5,379.0 1674.5,378.1 1676.5,377.3 1678.5,376.5 1680.5,375.6 1682.5,374.8 1684.5,374.0 1686.5,373.2 1688.5,372.4 1690.5,371.6 1692.5,370.8 1694.5,370.0 1696.5,369.2 1698.5,368.4 1700.5,367.6 1702.5,366.8 1704.5,365.9 1706.5,365.1 1708.5,364.3 1710.5,363.5 1712.5,362.7 1714.5,361.9 1716.5,361.1 1718.5,360.3 1720.5,359.5 1722.5,358.7 1724.5,357.9 1726.5,357.1 1728.5,356.3 1730.5,355.5 1732.5,354.7 1734.5,353.9 1736.5,353.0 1738.5,352.1 1740.5,351.2 1742.5,350.3 1744.5,349.4 1746.5,348.5 1748.5,347.6 1750.5,346.7 1752.5,345.8 1754.5,344.9 1756.5,344.0 1758.5,343.1 1760.5,342.2 1762.5,341.3 1764.5,340.4 1766.5,339.5 1768.5,338.6 1770.5,337.7 1772.5,336.8 1774.5,335.9 1776.5,335.0 1778.5,334.1 1780.5,333.2 1782.5,332.3 1784.5,331.4 1786.5,330.4 1788.5,329.4 1790.5,328.3 1792.5,327.2 1794.5,326.1 1796.5,325.0 1798.5,323.9 1800.5,322.8 1802.5,321.7 1804.5,320.7 1806.5,319.6 1808.5,318.5 1810.5,317.4 1812.5,316.3 1814.5,315.2 1816.5,314.1 1818.5,313.0 1820.5,311.9 1822.5,310.8 1824.5,309.6 1826.5,308.3 1828.5,306.9 1830.5,305.6 1832.5,304.2 1834.5,302.8 1836.5,301.5 1838.5,300.1 1840.5,298.7 1842.5,297.4 1844.5,296.0 1846.5,294.6 1848.5,293.3 1850.5,291.9 1852.5,290.5 1854.5,289.2 1856.5,287.8 1858.5,286.4 1860.5,285.1 1862.5,283.9 1864.5,283.0" fill="none" stroke="#8ccc58" stroke-width="1.5" stroke-linejoin="round"/>
<polyline points="21.5,706.8 25.5,704.5 29.5,701.7 33.5,698.8 37.5,695.9 41.5,693.1 45.5,689.9 49.5,685.5 53.5,680.8 57.5,676.5 61.5,673.0 65.5,669.2 69.5,665.4 73.5,662.5 77.5,659.5 81.5,656.5 85.5,652.8 89.5,649.0 93.5,644.6 97.5,641.3 101.5,637.7 105.5,634.2 109.5,630.0 113.5,625.1 117.5,621.6 121.5,618.2 125.5,615.2 129.5,611.9 133.5,608.4 137.5,604.3 141.5,600.7 145.5,597.1 149.5,592.8 153.5,589.8 157.5,585.0 161.5,580.2 165.5,575.7 169.5,573.6 173.5,572.8 177.5,570.9 181.5,568.1 185.5,565.3 189.5,562.9 193.5,560.7 197.5,558.8 201.5,555.8 205.5,551.9 209.5,547.6 213.5,542.3 217.5,536.6 221.5,530.7 225.5,525.2 229.5,521.6 233.5,518.3 237.5,515.8 241.5,512.8 245.5,510.2 249.5,507.2 253.5,503.5 257.5,499.9 261.5,496.1 265.5,492.0 269.5,488.8 273.5,486.0 277.5,483.1 281.5,480.2 285.5,477.8 289.5,475.0 293.5,472.3 297.5,469.0 301.5,464.8 305.5,460.0 309.5,455.3 313.5,452.0 317.5,448.2 321.5,443.9 325.5,440.4 329.5,436.9 333.5,432.9 337.5,429.1 341.5,425.6 345.5,423.5 349.5,422.0 353.5,419.9 357.5,419.2 361.5,417.7 365.5,415.0 369.5,411.8 373.5,409.5 377.5,407.7 381.5,405.3 385.5,403.5 389.5,401.3 393.5,401.1 397.5,401.5 401.5,404.0 405.5,406.0 409.5,407.7 413.5,409.2 417.5,410.1 421.5,412.5 425.5,414.0 429.5,415.1 433.5,415.8 437.5,416.4 441.5,417.4 445.5,417.6 449.5,416.9 453.5,415.4 457.5,413.1 461.5,409.7 465.5,406.4 469.5,405.2 473.5,404.0 477.5,403.0 481.5,401.7 485.5,398.9 489.5,396.8 493.5,394.7 497.5,391.5 501.5,390.5 505.5,389.9 509.5,388.0 513.5,386.3 517.5,384.8 521.5,382.5 525.5,380.8 529.5,379.7 533.5,378.6 537.5,378.6 541.5,378.2 545.5,377.4 549.5,378.0 553.5,377.6 557.5,377.1 561.5,377.5 565.5,377.5 569.5,378.1 573.5,377.4 577.5,376.3 581.5,375.7 585.5,374.8 589.5,375.2 593.5,375.3 597.5,374.7 601.5,372.3 605.5,371.1 609.5,369.4 613.5,369.6 617.5,368.8 621.5,368.2 625.5,368.5 629.5,367.2 633.5,364.5 637.5,362.8 641.5,363.1 645.5,361.8 649.5,360.7 653.5,359.3 657.5,357.9 661.5,356.6 665.5,356.2 669.5,355.7 673.5,355.9 677.5,355.8 681.5,356.2 685.5,355.8 689.5,355.6 693.5,355.0 697.5,354.4 701.5,352.8 705.5,350.4 709.5,348.3 713.5,345.6 717.5,342.5 721.5,337.6 725.5,333.5 729.5,329.2 733.5,324.5 737.5,320.7 741.5,316.4 745.5,311.6 749.5,305.9 753.5,299.9 757.5,294.5 761.5,289.5 765.5,284.0 769.5,277.7 773.5,271.9 777.5,267.1 781.5,263.8 785.5,259.8 789.5,256.1 793.5,251.8 797.5,249.0 801.5,246.2 805.5,244.7 809.5,241.3 813.5,238.0 817.5,234.1 821.5,231.0 825.5,228.3 829.5,225.6 833.5,222.0 837.5,218.7 841.5,216.3 845.5,214.0 849.5,211.3 853.5,209.9 857.5,209.0 861.5,208.4 865.5,209.8 869.5,212.2 873.5,214.8 877.5,217.2 881.5,220.2 885.5,223.7 889.5,227.1 893.5,230.1 897.5,233.5 901.5,236.9 905.5,241.3 909.5,246.0 913.5,252.0 917.5,256.2 921.5,259.3 925.5,263.0 929.5,266.1 933.5,268.3 937.5,270.8 941.5,275.4 945.5,281.1 949.5,288.3 953.5,294.2 957.5,299.1 961.5,303.9 965.5,307.9 969.5,311.7 973.5,315.8 977.5,320.5 981.5,325.2 985.5,330.1 989.5,335.1 993.5,340.9 997.5,346.8 1001.5,352.1 1005.5,356.7 1009.5,360.4 1013.5,364.7 1017.5,368.5 1021.5,370.8 1025.5,372.5 1029.5,374.5 1033.5,376.8 1037.5,378.2 1041.5,379.5 1045.5,381.0 1049.5,382.6 1053.5,384.5 1057.5,387.1 1061.5,388.8 1065.5,390.0 1069.5,391.4 1073.5,392.5 1077.5,394.4 1081.5,397.4 1085.5,399.9 1089.5,401.0 1093.5,401.2 1097.5,402.1 1101.5,403.9 1105.5,404.8 1109.5,405.5 1113.5,406.3 1117.5,406.8 1121.5,407.4 1125.5,407.8 1129.5,408.5 1133.5,407.9 1137.5,406.6 1141.5,405.7 1145.5,403.7 1149.5,402.0 1153.5,399.7 1157.5,397.6 1161.5,395.4 1165.5,392.5 1169.5,391.2 1173.5,390.1 1177.5,390.4 1181.5,390.2 1185.5,390.6 1189.5,389.7 1193.5,389.4 1197.5,388.8 1201.5,388.0 1205.5,387.6 1209.5,387.2 1213.5,386.8 1217.5,386.8 1221.5,387.1 1225.5,386.4 1229.5,385.7 1233.5,387.2 1237.5,389.4 1241.5,392.4 1245.5,395.5 1249.5,399.4 1253.5,401.7 1257.5,403.5 1261.5,405.1 1265.5,407.1 1269.5,409.4 1273.5,412.4 1277.5,414.8 1281.5,416.4 1285.5,418.4 1289.5,420.7 1293.5,422.0 1297.5,423.3 1301.5,424.3 1305.5,425.3 1309.5,426.1 1313.5,426.6 1317.5,427.6 1321.5,427.8 1325.5,428.5 1329.5,428.7 1333.5,429.6 1337.5,431.0 1341.5,432.8 1345.5,435.3 1349.5,437.0 1353.5,437.9 1357.5,438.3 1361.5,438.6 1365.5,438.8 1369.5,438.1 1373.5,436.8 1377.5,435.2 1381.5,433.4 1385.5,431.6 1389.5,430.4 1393.5,429.6 1397.5,427.7 1401.5,426.4 1405.5,425.3 1409.5,424.3 1413.5,423.3 1417.5,422.7 1421.5,421.1 1425.5,419.6 1429.5,418.0 1433.5,416.5 1437.5,414.1 1441.5,411.7 1445.5,409.7 1449.5,407.0 1453.5,404.3 1457.5,401.5 1461.5,400.1 1465.5,398.6 1469.5,397.1 1473.5,395.7 1477.5,393.7 1481.5,391.7 1485.5,389.6 1489.5,387.9 1493.5,387.2 1497.5,386.1 1501.5,385.0 1505.5,384.6 1509.5,385.3 1513.5,385.2 1517.5,384.8 1521.5,384.1 1525.5,383.4 1529.5,383.4 1533.5,382.9 1537.5,382.7 1541.5,382.4 1545.5,382.6 1549.5,383.4 1553.5,383.9 1557.5,384.7 1561.5,385.1 1565.5,386.3 1569.5,387.5 1573.5,387.9 1577.5,388.5 1581.5,389.1 1585.5,389.5 1589.5,390.4 1593.5,391.4 1597.5,392.6 1601.5,393.6 1605.5,395.0 1609.5,395.8 1613.5,396.7 1617.5,397.8 1621.5,398.9 1625.5,399.4 1629.5,398.8 1633.5,397.7 1637.5,396.2 1641.5,394.7 1645.5,393.2 1649.5,390.0 1653.5,386.8 1657.5,384.3 1661.5,380.7 1665.5,377.3 1669.5,374.3 1673.5,369.9 1677.5,364.9 1681.5,360.5 1685.5,355.8 1689.5,350.8 1693.5,346.7 1697.5,342.1 1701.5,337.9 1705.5,333.3 1709.5,328.7 1713.5,323.6 1717.5,318.0 1721.5,312.2 1725.5,306.2 1729.5,301.1 1733.5,296.4 1737.5,292.9 1741.5,288.5 1745.5,284.6 1749.5,281.1 1753.5,277.9 1757.5,274.5 1761.5,270.8 1765.5,267.3 1769.5,262.9 1773.5,259.1 1777.5,255.6 1781.5,252.5 1785.5,249.5 1789.5,246.4 1793.5,243.8 1797.5,240.9 1801.5,237.9 1805.5,235.2 1809.5,232.8 1813.5,230.7 1817.5,229.3 1821.5,227.3 1825.5,224.1 1829.5,221.3 1833.5,217.3 1837.5,213.3 1841.5,208.7 1845.5,205.0 1849.5,200.2 1853.5,195.2 1857.5,190.5 1861.5,185.4 1865.5,179.9" fill="none" stroke="#cce63c" stroke-width="1.5" stroke-linejoin="round" />
<rect x="1.5" y="625.5" width="1" height="27.5" fill="#2f9ae8"/>
<rect x="0.5" y="630.5" width="3" height="20.5" fill="#2f9ae8"/>
<rect x="5.5" y="632.2" width="1" height="20.1" fill="#dfe2e4"/>
<rect x="4.5" y="638.2" width="3" height="14.1" fill="#dfe2e4"/>
<rect x="9.5" y="630.0" width="1" height="19.5" fill="#dfe2e4"/>
<rect x="8.5" y="631.0" width="3" height="8.5" fill="#dfe2e4"/>
<rect x="13.5" y="621.3" width="1" height="15.5" fill="#dfe2e4"/>
<rect x="12.5" y="622.3" width="3" height="9.5" fill="#dfe2e4"/>
<rect x="17.5" y="597.2" width="1" height="24.3" fill="#dfe2e4"/>
<rect x="16.5" y="611.2" width="3" height="10.3" fill="#dfe2e4"/>
<rect x="21.5" y="587.9" width="1" height="27.6" fill="#dfe2e4"/>
<rect x="20.5" y="597.9" width="3" height="14.6" fill="#dfe2e4"/>
<rect x="25.5" y="598.9" width="1" height="9.5" fill="#2f9ae8"/>
<rect x="24.5" y="598.9" width="3" height="8.5" fill="#2f9ae8"/>
<rect x="29.5" y="590.6" width="1" height="25.3" fill="#dfe2e4"/>
<rect x="28.5" y="596.6" width="3" height="13.3" fill="#dfe2e4"/>
<rect x="33.5" y="596.1" width="1" height="16.8" fill="#dfe2e4"/>
<rect x="32.5" y="597.1" width="3" height="12.8" fill="#dfe2e4"/>
<rect x="37.5" y="593.5" width="1" height="16.1" fill="#dfe2e4"/>
<rect x="36.5" y="594.5" width="3" height="5.1" fill="#dfe2e4"/>
<rect x="41.5" y="589.8" width="1" height="11.1" fill="#2f9ae8"/>
<rect x="40.5" y="595.8" width="3" height="5.1" fill="#2f9ae8"/>
<rect x="45.5" y="575.9" width="1" height="26.0" fill="#dfe2e4"/>
<rect x="44.5" y="589.9" width="3" height="11.0" fill="#dfe2e4"/>
<rect x="49.5" y="555.6" width="1" height="49.1" fill="#dfe2e4"/>
<rect x="48.5" y="558.6" width="3" height="32.1" fill="#dfe2e4"/>
<rect x="53.5" y="549.6" width="1" height="21.7" fill="#dfe2e4"/>
<rect x="52.5" y="549.6" width="3" height="7.7" fill="#dfe2e4"/>
<rect x="57.5" y="533.1" width="1" height="31.6" fill="#2f9ae8"/>
<rect x="56.5" y="547.1" width="3" height="11.6" fill="#2f9ae8"/>
<rect x="61.5" y="553.5" width="1" height="24.8" fill="#2f9ae8"/>
<rect x="60.5" y="553.5" width="3" height="21.8" fill="#2f9ae8"/>
<rect x="65.5" y="563.7" width="1" height="22.8" fill="#dfe2e4"/>
<rect x="64.5" y="563.7" width="3" height="12.8" fill="#dfe2e4"/>
<rect x="69.5" y="563.0" width="1" height="17.6" fill="#dfe2e4"/>
<rect x="68.5" y="565.0" width="3" height="11.6" fill="#dfe2e4"/>
<rect x="73.5" y="557.7" width="1" height="26.0" fill="#2f9ae8"/>
<rect x="72.5" y="563.7" width="3" height="18.0" fill="#2f9ae8"/>
<rect x="77.5" y="571.7" width="1" height="14.9" fill="#dfe2e4"/>
<rect x="76.5" y="581.7" width="3" height="3.9" fill="#dfe2e4"/>
<rect x="81.5" y="561.3" width="1" height="24.4" fill="#dfe2e4"/>
<rect x="80.5" y="575.3" width="3" height="6.4" fill="#dfe2e4"/>
<rect x="85.5" y="548.6" width="1" height="28.7" fill="#dfe2e4"/>
<rect x="84.5" y="558.6" width="3" height="16.7" fill="#dfe2e4"/>
<rect x="89.5" y="551.2" width="1" height="21.4" fill="#dfe2e4"/>
<rect x="88.5" y="552.2" width="3" height="6.4" fill="#dfe2e4"/>
<rect x="93.5" y="521.5" width="1" height="32.4" fill="#dfe2e4"/>
<rect x="92.5" y="535.5" width="3" height="15.4" fill="#dfe2e4"/>
<rect x="97.5" y="530.5" width="1" height="29.1" fill="#2f9ae8"/>
<rect x="96.5" y="535.5" width="3" height="23.1" fill="#2f9ae8"/>
<rect x="101.5" y="539.6" width="1" height="18.7" fill="#dfe2e4"/>
<rect x="100.5" y="549.6" width="3" height="7.7" fill="#dfe2e4"/>
<rect x="105.5" y="533.1" width="1" height="16.6" fill="#dfe2e4"/>
<rect x="104.5" y="547.1" width="3" height="2.6" fill="#dfe2e4"/>
<rect x="109.5" y="515.1" width="1" height="35.0" fill="#dfe2e4"/>
<rect x="108.5" y="529.1" width="3" height="18.0" fill="#dfe2e4"/>
<rect x="113.5" y="500.6" width="1" height="32.1" fill="#dfe2e4"/>
<rect x="112.5" y="508.6" width="3" height="14.1" fill="#dfe2e4"/>
<rect x="117.5" y="503.8" width="1" height="40.5" fill="#2f9ae8"/>
<rect x="116.5" y="509.8" width="3" height="29.5" fill="#2f9ae8"/>
<rect x="121.5" y="531.4" width="1" height="23.3" fill="#dfe2e4"/>
<rect x="120.5" y="539.4" width="3" height="1.3" fill="#dfe2e4"/>
<rect x="125.5" y="532.6" width="1" height="18.1" fill="#2f9ae8"/>
<rect x="124.5" y="540.6" width="3" height="5.1" fill="#2f9ae8"/>
<rect x="129.5" y="531.5" width="1" height="18.6" fill="#dfe2e4"/>
<rect x="128.5" y="535.5" width="3" height="11.6" fill="#dfe2e4"/>
<rect x="133.5" y="524.5" width="1" height="15.3" fill="#dfe2e4"/>
<rect x="132.5" y="526.5" width="3" height="10.3" fill="#dfe2e4"/>
<rect x="137.5" y="507.6" width="1" height="34.3" fill="#dfe2e4"/>
<rect x="136.5" y="508.6" width="3" height="19.3" fill="#dfe2e4"/>
<rect x="141.5" y="505.8" width="1" height="20.4" fill="#2f9ae8"/>
<rect x="140.5" y="509.8" width="3" height="6.4" fill="#2f9ae8"/>
<rect x="145.5" y="504.4" width="1" height="15.6" fill="#dfe2e4"/>
<rect x="144.5" y="512.4" width="3" height="2.6" fill="#dfe2e4"/>
<rect x="149.5" y="483.9" width="1" height="33.8" fill="#dfe2e4"/>
<rect x="148.5" y="491.9" width="3" height="21.8" fill="#dfe2e4"/>
<rect x="153.5" y="477.9" width="1" height="42.0" fill="#2f9ae8"/>
<rect x="152.5" y="491.9" width="3" height="27.0" fill="#2f9ae8"/>
<rect x="157.5" y="470.3" width="1" height="57.2" fill="#dfe2e4"/>
<rect x="156.5" y="471.3" width="3" height="46.2" fill="#dfe2e4"/>
<rect x="161.5" y="459.6" width="1" height="13.7" fill="#dfe2e4"/>
<rect x="160.5" y="466.2" width="3" height="5.1" fill="#dfe2e4"/>
<rect x="165.5" y="461.2" width="1" height="9.6" fill="#2f9ae8"/>
<rect x="164.5" y="466.2" width="3" height="2.6" fill="#2f9ae8"/>
<rect x="169.5" y="463.3" width="1" height="70.5" fill="#2f9ae8"/>
<rect x="168.5" y="471.3" width="3" height="56.5" fill="#2f9ae8"/>
<rect x="173.5" y="527.8" width="1" height="33.1" fill="#2f9ae8"/>
<rect x="172.5" y="527.8" width="3" height="32.1" fill="#2f9ae8"/>
<rect x="177.5" y="522.9" width="1" height="55.0" fill="#dfe2e4"/>
<rect x="176.5" y="532.9" width="3" height="23.1" fill="#dfe2e4"/>
<rect x="181.5" y="503.6" width="1" height="34.4" fill="#dfe2e4"/>
<rect x="180.5" y="508.6" width="3" height="24.4" fill="#dfe2e4"/>
<rect x="185.5" y="503.6" width="1" height="21.6" fill="#dfe2e4"/>
<rect x="184.5" y="508.6" width="3" height="2.6" fill="#dfe2e4"/>
<rect x="189.5" y="504.4" width="1" height="25.1" fill="#2f9ae8"/>
<rect x="188.5" y="512.4" width="3" height="3.1" fill="#2f9ae8"/>
<rect x="193.5" y="507.0" width="1" height="14.1" fill="#2f9ae8"/>
<rect x="192.5" y="515.0" width="3" height="5.1" fill="#2f9ae8"/>
<rect x="197.5" y="516.5" width="1" height="12.7" fill="#2f9ae8"/>
<rect x="196.5" y="517.5" width="3" height="7.7" fill="#2f9ae8"/>
<rect x="201.5" y="489.0" width="1" height="37.2" fill="#dfe2e4"/>
<rect x="200.5" y="497.0" width="3" height="28.2" fill="#dfe2e4"/>
<rect x="205.5" y="470.1" width="1" height="31.0" fill="#dfe2e4"/>
<rect x="204.5" y="470.1" width="3" height="27.0" fill="#dfe2e4"/>
<rect x="209.5" y="440.7" width="1" height="38.7" fill="#dfe2e4"/>
<rect x="208.5" y="454.7" width="3" height="16.7" fill="#dfe2e4"/>
<rect x="213.5" y="422.4" width="1" height="34.4" fill="#dfe2e4"/>
<rect x="212.5" y="426.4" width="3" height="24.4" fill="#dfe2e4"/>
<rect x="217.5" y="407.2" width="1" height="19.1" fill="#dfe2e4"/>
<rect x="216.5" y="412.2" width="3" height="14.1" fill="#dfe2e4"/>
<rect x="221.5" y="390.1" width="1" height="27.1" fill="#dfe2e4"/>
<rect x="220.5" y="398.1" width="3" height="14.1" fill="#dfe2e4"/>
<rect x="225.5" y="398.6" width="1" height="18.6" fill="#2f9ae8"/>
<rect x="224.5" y="400.6" width="3" height="2.6" fill="#2f9ae8"/>
<rect x="229.5" y="400.9" width="1" height="51.4" fill="#2f9ae8"/>
<rect x="228.5" y="401.9" width="3" height="42.4" fill="#2f9ae8"/>
<rect x="233.5" y="444.3" width="1" height="6.9" fill="#2f9ae8"/>
<rect x="232.5" y="444.3" width="3" height="3.9" fill="#2f9ae8"/>
<rect x="237.5" y="442.8" width="1" height="22.7" fill="#2f9ae8"/>
<rect x="236.5" y="446.8" width="3" height="16.7" fill="#2f9ae8"/>
<rect x="241.5" y="445.1" width="1" height="23.1" fill="#dfe2e4"/>
<rect x="240.5" y="448.1" width="3" height="14.1" fill="#dfe2e4"/>
<rect x="245.5" y="438.3" width="1" height="24.3" fill="#2f9ae8"/>
<rect x="244.5" y="444.3" width="3" height="10.3" fill="#2f9ae8"/>
<rect x="249.5" y="439.4" width="1" height="10.7" fill="#dfe2e4"/>
<rect x="248.5" y="440.4" width="3" height="7.7" fill="#dfe2e4"/>
<rect x="253.5" y="411.9" width="1" height="33.3" fill="#dfe2e4"/>
<rect x="252.5" y="419.9" width="3" height="19.3" fill="#dfe2e4"/>
<rect x="257.5" y="408.6" width="1" height="17.9" fill="#dfe2e4"/>
<rect x="256.5" y="418.6" width="3" height="3.9" fill="#dfe2e4"/>
<rect x="261.5" y="408.9" width="1" height="22.1" fill="#dfe2e4"/>
<rect x="260.5" y="410.9" width="3" height="14.1" fill="#dfe2e4"/>
<rect x="265.5" y="389.4" width="1" height="24.3" fill="#dfe2e4"/>
<rect x="264.5" y="399.4" width="3" height="10.3" fill="#dfe2e4"/>
<rect x="269.5" y="393.4" width="1" height="27.7" fill="#2f9ae8"/>
<rect x="268.5" y="399.4" width="3" height="16.7" fill="#2f9ae8"/>
<rect x="273.5" y="407.5" width="1" height="19.3" fill="#2f9ae8"/>
<rect x="272.5" y="413.5" width="3" height="10.3" fill="#2f9ae8"/>
<rect x="277.5" y="417.9" width="1" height="8.1" fill="#dfe2e4"/>
<rect x="276.5" y="419.9" width="3" height="5.1" fill="#dfe2e4"/>
<rect x="281.5" y="411.5" width="1" height="14.3" fill="#dfe2e4"/>
<rect x="280.5" y="413.5" width="3" height="10.3" fill="#dfe2e4"/>
<rect x="285.5" y="411.8" width="1" height="16.3" fill="#2f9ae8"/>
<rect x="284.5" y="414.8" width="3" height="10.3" fill="#2f9ae8"/>
<rect x="289.5" y="413.5" width="1" height="18.3" fill="#dfe2e4"/>
<rect x="288.5" y="413.5" width="3" height="10.3" fill="#dfe2e4"/>
<rect x="293.5" y="398.2" width="1" height="22.4" fill="#dfe2e4"/>
<rect x="292.5" y="412.2" width="3" height="6.4" fill="#dfe2e4"/>
<rect x="297.5" y="388.9" width="1" height="33.7" fill="#dfe2e4"/>
<rect x="296.5" y="392.9" width="3" height="25.7" fill="#dfe2e4"/>
<rect x="301.5" y="364.7" width="1" height="30.2" fill="#dfe2e4"/>
<rect x="300.5" y="364.7" width="3" height="28.2" fill="#dfe2e4"/>
<rect x="305.5" y="340.7" width="1" height="34.0" fill="#dfe2e4"/>
<rect x="304.5" y="346.7" width="3" height="18.0" fill="#dfe2e4"/>
<rect x="309.5" y="337.9" width="1" height="26.7" fill="#dfe2e4"/>
<rect x="308.5" y="342.9" width="3" height="7.7" fill="#dfe2e4"/>
<rect x="313.5" y="327.6" width="1" height="49.8" fill="#2f9ae8"/>
<rect x="312.5" y="341.6" width="3" height="30.8" fill="#2f9ae8"/>
<rect x="317.5" y="355.0" width="1" height="21.0" fill="#dfe2e4"/>
<rect x="316.5" y="357.0" width="3" height="9.0" fill="#dfe2e4"/>
<rect x="321.5" y="325.0" width="1" height="33.3" fill="#dfe2e4"/>
<rect x="320.5" y="339.0" width="3" height="19.3" fill="#dfe2e4"/>
<rect x="325.5" y="332.3" width="1" height="34.7" fill="#2f9ae8"/>
<rect x="324.5" y="340.3" width="3" height="16.7" fill="#2f9ae8"/>
<rect x="329.5" y="345.9" width="1" height="22.3" fill="#dfe2e4"/>
<rect x="328.5" y="351.9" width="3" height="10.3" fill="#dfe2e4"/>
<rect x="333.5" y="331.8" width="1" height="27.4" fill="#dfe2e4"/>
<rect x="332.5" y="337.8" width="3" height="15.4" fill="#dfe2e4"/>
<rect x="337.5" y="335.5" width="1" height="16.7" fill="#dfe2e4"/>
<rect x="336.5" y="336.5" width="3" height="7.7" fill="#dfe2e4"/>
<rect x="341.5" y="334.3" width="1" height="8.6" fill="#dfe2e4"/>
<rect x="340.5" y="340.3" width="3" height="2.6" fill="#dfe2e4"/>
<rect x="345.5" y="327.0" width="1" height="86.2" fill="#2f9ae8"/>
<rect x="344.5" y="333.9" width="3" height="38.5" fill="#2f9ae8"/>
<rect x="349.5" y="365.6" width="1" height="26.4" fill="#2f9ae8"/>
<rect x="348.5" y="368.6" width="3" height="15.4" fill="#2f9ae8"/>
<rect x="353.5" y="365.3" width="1" height="21.0" fill="#dfe2e4"/>
<rect x="352.5" y="367.3" width="3" height="18.0" fill="#dfe2e4"/>
<rect x="357.5" y="358.4" width="1" height="54.9" fill="#2f9ae8"/>
<rect x="356.5" y="363.4" width="3" height="35.9" fill="#2f9ae8"/>
<rect x="361.5" y="377.5" width="1" height="24.1" fill="#dfe2e4"/>
<rect x="360.5" y="377.5" width="3" height="23.1" fill="#dfe2e4"/>
<rect x="365.5" y="344.2" width="1" height="49.9" fill="#dfe2e4"/>
<rect x="364.5" y="344.2" width="3" height="35.9" fill="#dfe2e4"/>
<rect x="369.5" y="317.7" width="1" height="35.2" fill="#dfe2e4"/>
<rect x="368.5" y="326.2" width="3" height="16.7" fill="#dfe2e4"/>
<rect x="373.5" y="326.5" width="1" height="25.3" fill="#2f9ae8"/>
<rect x="372.5" y="327.5" width="3" height="19.3" fill="#2f9ae8"/>
<rect x="377.5" y="326.3" width="1" height="32.0" fill="#2f9ae8"/>
<rect x="376.5" y="340.3" width="3" height="18.0" fill="#2f9ae8"/>
<rect x="381.5" y="339.3" width="1" height="28.4" fill="#dfe2e4"/>
<rect x="380.5" y="340.3" width="3" height="24.4" fill="#dfe2e4"/>
<rect x="385.5" y="326.3" width="1" height="31.6" fill="#2f9ae8"/>
<rect x="384.5" y="340.3" width="3" height="11.6" fill="#2f9ae8"/>
<rect x="389.5" y="340.9" width="1" height="15.0" fill="#dfe2e4"/>
<rect x="388.5" y="342.9" width="3" height="9.0" fill="#dfe2e4"/>
<rect x="393.5" y="339.2" width="1" height="65.2" fill="#2f9ae8"/>
<rect x="392.5" y="344.2" width="3" height="46.2" fill="#2f9ae8"/>
<rect x="397.5" y="385.4" width="1" height="31.0" fill="#2f9ae8"/>
<rect x="396.5" y="390.4" width="3" height="18.0" fill="#2f9ae8"/>
<rect x="401.5" y="406.1" width="1" height="58.5" fill="#2f9ae8"/>
<rect x="400.5" y="407.1" width="3" height="56.5" fill="#2f9ae8"/>
<rect x="405.5" y="445.3" width="1" height="27.6" fill="#dfe2e4"/>
<rect x="404.5" y="453.3" width="3" height="11.6" fill="#dfe2e4"/>
<rect x="409.5" y="441.4" width="1" height="19.9" fill="#dfe2e4"/>
<rect x="408.5" y="449.4" width="3" height="3.9" fill="#dfe2e4"/>
<rect x="413.5" y="444.1" width="1" height="7.6" fill="#dfe2e4"/>
<rect x="412.5" y="448.1" width="3" height="2.6" fill="#dfe2e4"/>
<rect x="417.5" y="432.0" width="1" height="14.6" fill="#dfe2e4"/>
<rect x="416.5" y="434.0" width="3" height="11.6" fill="#dfe2e4"/>
<rect x="421.5" y="429.0" width="1" height="50.0" fill="#2f9ae8"/>
<rect x="420.5" y="434.0" width="3" height="41.1" fill="#2f9ae8"/>
<rect x="425.5" y="447.8" width="1" height="25.4" fill="#dfe2e4"/>
<rect x="424.5" y="455.8" width="3" height="15.4" fill="#dfe2e4"/>
<rect x="429.5" y="435.6" width="1" height="19.0" fill="#dfe2e4"/>
<rect x="428.5" y="445.6" width="3" height="9.0" fill="#dfe2e4"/>
<rect x="433.5" y="434.9" width="1" height="20.7" fill="#dfe2e4"/>
<rect x="432.5" y="437.9" width="3" height="7.7" fill="#dfe2e4"/>
<rect x="437.5" y="429.0" width="1" height="9.6" fill="#dfe2e4"/>
<rect x="436.5" y="434.0" width="3" height="2.6" fill="#dfe2e4"/>
<rect x="441.5" y="422.7" width="1" height="22.8" fill="#2f9ae8"/>
<rect x="440.5" y="432.7" width="3" height="12.8" fill="#2f9ae8"/>
<rect x="445.5" y="416.3" width="1" height="32.0" fill="#dfe2e4"/>
<rect x="444.5" y="426.3" width="3" height="18.0" fill="#dfe2e4"/>
<rect x="449.5" y="400.9" width="1" height="21.7" fill="#dfe2e4"/>
<rect x="448.5" y="401.9" width="3" height="16.7" fill="#dfe2e4"/>
<rect x="453.5" y="374.0" width="1" height="27.8" fill="#dfe2e4"/>
<rect x="452.5" y="384.0" width="3" height="12.8" fill="#dfe2e4"/>
<rect x="457.5" y="357.6" width="1" height="25.0" fill="#dfe2e4"/>
<rect x="456.5" y="359.6" width="3" height="18.0" fill="#dfe2e4"/>
<rect x="461.5" y="327.1" width="1" height="42.5" fill="#dfe2e4"/>
<rect x="460.5" y="330.1" width="3" height="29.5" fill="#dfe2e4"/>
<rect x="465.5" y="321.3" width="1" height="25.1" fill="#dfe2e4"/>
<rect x="464.5" y="331.3" width="3" height="5.1" fill="#dfe2e4"/>
<rect x="469.5" y="328.9" width="1" height="54.2" fill="#2f9ae8"/>
<rect x="468.5" y="333.9" width="3" height="46.2" fill="#2f9ae8"/>
<rect x="473.5" y="334.0" width="1" height="50.4" fill="#2f9ae8"/>
<rect x="472.5" y="348.0" width="3" height="33.4" fill="#2f9ae8"/>
<rect x="477.5" y="356.6" width="1" height="32.1" fill="#2f9ae8"/>
<rect x="476.5" y="359.6" width="3" height="23.1" fill="#2f9ae8"/>
<rect x="481.5" y="374.5" width="1" height="9.9" fill="#dfe2e4"/>
<rect x="480.5" y="377.5" width="3" height="3.9" fill="#dfe2e4"/>
<rect x="485.5" y="327.8" width="1" height="59.1" fill="#dfe2e4"/>
<rect x="484.5" y="337.8" width="3" height="41.1" fill="#dfe2e4"/>
<rect x="489.5" y="335.3" width="1" height="15.3" fill="#2f9ae8"/>
<rect x="488.5" y="340.3" width="3" height="10.3" fill="#2f9ae8"/>
<rect x="493.5" y="333.9" width="1" height="20.7" fill="#2f9ae8"/>
<rect x="492.5" y="333.9" width="3" height="16.7" fill="#2f9ae8"/>
<rect x="497.5" y="307.9" width="1" height="27.4" fill="#dfe2e4"/>
<rect x="496.5" y="315.9" width="3" height="15.4" fill="#dfe2e4"/>
<rect x="501.5" y="298.2" width="1" height="85.6" fill="#2f9ae8"/>
<rect x="500.5" y="315.9" width="3" height="53.9" fill="#2f9ae8"/>
<rect x="505.5" y="363.6" width="1" height="22.0" fill="#2f9ae8"/>
<rect x="504.5" y="368.6" width="3" height="9.0" fill="#2f9ae8"/>
<rect x="509.5" y="335.3" width="1" height="52.4" fill="#dfe2e4"/>
<rect x="508.5" y="340.3" width="3" height="42.4" fill="#dfe2e4"/>
<rect x="513.5" y="334.2" width="1" height="13.0" fill="#2f9ae8"/>
<rect x="512.5" y="335.2" width="3" height="9.0" fill="#2f9ae8"/>
<rect x="517.5" y="340.6" width="1" height="7.9" fill="#2f9ae8"/>
<rect x="516.5" y="341.6" width="3" height="3.9" fill="#2f9ae8"/>
<rect x="521.5" y="315.6" width="1" height="32.8" fill="#dfe2e4"/>
<rect x="520.5" y="323.6" width="3" height="21.8" fill="#dfe2e4"/>
<rect x="525.5" y="321.2" width="1" height="15.7" fill="#2f9ae8"/>
<rect x="524.5" y="326.2" width="3" height="7.7" fill="#2f9ae8"/>
<rect x="529.5" y="325.2" width="1" height="37.4" fill="#2f9ae8"/>
<rect x="528.5" y="333.2" width="3" height="15.4" fill="#2f9ae8"/>
<rect x="533.5" y="333.3" width="1" height="19.1" fill="#dfe2e4"/>
<rect x="532.5" y="347.3" width="3" height="5.1" fill="#dfe2e4"/>
<rect x="537.5" y="341.8" width="1" height="37.4" fill="#2f9ae8"/>
<rect x="536.5" y="349.8" width="3" height="24.4" fill="#2f9ae8"/>
<rect x="541.5" y="363.0" width="1" height="13.6" fill="#dfe2e4"/>
<rect x="540.5" y="364.0" width="3" height="11.6" fill="#dfe2e4"/>
<rect x="545.5" y="349.0" width="1" height="21.8" fill="#dfe2e4"/>
<rect x="544.5" y="355.0" width="3" height="12.8" fill="#dfe2e4"/>
<rect x="549.5" y="347.0" width="1" height="45.9" fill="#2f9ae8"/>
<rect x="548.5" y="355.0" width="3" height="35.9" fill="#2f9ae8"/>
<rect x="553.5" y="360.5" width="1" height="35.4" fill="#dfe2e4"/>
<rect x="552.5" y="366.5" width="3" height="24.4" fill="#dfe2e4"/>
<rect x="557.5" y="361.7" width="1" height="12.1" fill="#dfe2e4"/>
<rect x="556.5" y="362.7" width="3" height="5.1" fill="#dfe2e4"/>
<rect x="561.5" y="359.8" width="1" height="32.0" fill="#2f9ae8"/>
<rect x="560.5" y="367.8" width="3" height="18.0" fill="#2f9ae8"/>
<rect x="565.5" y="377.1" width="1" height="10.7" fill="#dfe2e4"/>
<rect x="564.5" y="378.1" width="3" height="7.7" fill="#dfe2e4"/>
<rect x="569.5" y="378.6" width="1" height="16.8" fill="#2f9ae8"/>
<rect x="568.5" y="380.6" width="3" height="12.8" fill="#2f9ae8"/>
<rect x="573.5" y="360.1" width="1" height="40.4" fill="#dfe2e4"/>
<rect x="572.5" y="360.1" width="3" height="35.9" fill="#dfe2e4"/>
<rect x="577.5" y="327.8" width="1" height="39.0" fill="#dfe2e4"/>
<rect x="576.5" y="349.8" width="3" height="9.0" fill="#dfe2e4"/>
<rect x="581.5" y="346.6" width="1" height="30.1" fill="#2f9ae8"/>
<rect x="580.5" y="348.6" width="3" height="14.1" fill="#2f9ae8"/>
<rect x="585.5" y="341.0" width="1" height="28.4" fill="#dfe2e4"/>
<rect x="584.5" y="355.0" width="3" height="6.4" fill="#dfe2e4"/>
<rect x="589.5" y="344.8" width="1" height="42.9" fill="#2f9ae8"/>
<rect x="588.5" y="349.8" width="3" height="35.9" fill="#2f9ae8"/>
<rect x="593.5" y="371.9" width="1" height="59.0" fill="#dfe2e4"/>
<rect x="592.5" y="381.9" width="3" height="6.4" fill="#dfe2e4"/>
<rect x="597.5" y="358.1" width="1" height="25.1" fill="#dfe2e4"/>
<rect x="596.5" y="360.1" width="3" height="23.1" fill="#dfe2e4"/>
<rect x="601.5" y="317.8" width="1" height="44.6" fill="#dfe2e4"/>
<rect x="600.5" y="317.8" width="3" height="43.6" fill="#dfe2e4"/>
<rect x="605.5" y="309.0" width="1" height="37.7" fill="#2f9ae8"/>
<rect x="604.5" y="319.0" width="3" height="25.7" fill="#2f9ae8"/>
<rect x="609.5" y="324.6" width="1" height="24.4" fill="#dfe2e4"/>
<rect x="608.5" y="330.6" width="3" height="15.4" fill="#dfe2e4"/>
<rect x="613.5" y="328.9" width="1" height="47.9" fill="#2f9ae8"/>
<rect x="612.5" y="331.9" width="3" height="44.9" fill="#2f9ae8"/>
<rect x="617.5" y="345.8" width="1" height="17.3" fill="#dfe2e4"/>
<rect x="616.5" y="349.8" width="3" height="10.3" fill="#dfe2e4"/>
<rect x="621.5" y="349.7" width="1" height="17.9" fill="#2f9ae8"/>
<rect x="620.5" y="353.7" width="3" height="3.9" fill="#2f9ae8"/>
<rect x="625.5" y="348.1" width="1" height="44.0" fill="#2f9ae8"/>
<rect x="624.5" y="351.1" width="3" height="27.0" fill="#2f9ae8"/>
<rect x="629.5" y="330.7" width="1" height="51.4" fill="#dfe2e4"/>
<rect x="628.5" y="335.7" width="3" height="42.4" fill="#dfe2e4"/>
<rect x="633.5" y="298.2" width="1" height="43.5" fill="#dfe2e4"/>
<rect x="632.5" y="298.5" width="3" height="37.2" fill="#dfe2e4"/>
<rect x="637.5" y="296.5" width="1" height="27.7" fill="#2f9ae8"/>
<rect x="636.5" y="298.5" width="3" height="25.7" fill="#2f9ae8"/>
<rect x="641.5" y="325.6" width="1" height="52.8" fill="#2f9ae8"/>
<rect x="640.5" y="330.6" width="3" height="39.8" fill="#2f9ae8"/>
<rect x="645.5" y="316.6" width="1" height="81.3" fill="#dfe2e4"/>
<rect x="644.5" y="330.6" width="3" height="39.8" fill="#dfe2e4"/>
<rect x="649.5" y="314.3" width="1" height="27.6" fill="#2f9ae8"/>
<rect x="648.5" y="320.3" width="3" height="11.6" fill="#2f9ae8"/>
<rect x="653.5" y="323.5" width="1" height="21.0" fill="#dfe2e4"/>
<rect x="652.5" y="325.5" width="3" height="9.0" fill="#dfe2e4"/>
<rect x="657.5" y="322.2" width="1" height="13.3" fill="#dfe2e4"/>
<rect x="656.5" y="324.2" width="3" height="1.3" fill="#dfe2e4"/>
<rect x="661.5" y="315.5" width="1" height="12.6" fill="#dfe2e4"/>
<rect x="660.5" y="325.5" width="3" height="2.6" fill="#dfe2e4"/>
<rect x="665.5" y="321.3" width="1" height="25.4" fill="#2f9ae8"/>
<rect x="664.5" y="329.3" width="3" height="15.4" fill="#2f9ae8"/>
<rect x="669.5" y="330.7" width="1" height="26.8" fill="#dfe2e4"/>
<rect x="668.5" y="344.7" width="3" height="12.8" fill="#dfe2e4"/>
<rect x="673.5" y="344.0" width="1" height="19.4" fill="#2f9ae8"/>
<rect x="672.5" y="346.0" width="3" height="15.4" fill="#2f9ae8"/>
<rect x="677.5" y="353.0" width="1" height="20.3" fill="#dfe2e4"/>
<rect x="676.5" y="355.0" width="3" height="10.3" fill="#dfe2e4"/>
<rect x="681.5" y="343.5" width="1" height="26.6" fill="#2f9ae8"/>
<rect x="680.5" y="357.5" width="3" height="11.6" fill="#2f9ae8"/>
<rect x="685.5" y="337.3" width="1" height="25.4" fill="#dfe2e4"/>
<rect x="684.5" y="347.3" width="3" height="15.4" fill="#dfe2e4"/>
<rect x="689.5" y="335.9" width="1" height="26.6" fill="#2f9ae8"/>
<rect x="688.5" y="340.9" width="3" height="11.6" fill="#2f9ae8"/>
<rect x="693.5" y="332.1" width="1" height="30.3" fill="#dfe2e4"/>
<rect x="692.5" y="342.1" width="3" height="10.3" fill="#dfe2e4"/>
<rect x="697.5" y="331.6" width="1" height="19.3" fill="#dfe2e4"/>
<rect x="696.5" y="339.6" width="3" height="10.3" fill="#dfe2e4"/>
<rect x="701.5" y="303.9" width="1" height="33.1" fill="#dfe2e4"/>
<rect x="700.5" y="313.9" width="3" height="23.1" fill="#dfe2e4"/>
<rect x="705.5" y="290.4" width="1" height="26.5" fill="#dfe2e4"/>
<rect x="704.5" y="293.4" width="3" height="20.5" fill="#dfe2e4"/>
<rect x="709.5" y="285.5" width="1" height="10.4" fill="#2f9ae8"/>
<rect x="708.5" y="289.5" width="3" height="6.4" fill="#2f9ae8"/>
<rect x="713.5" y="278.3" width="1" height="27.7" fill="#dfe2e4"/>
<rect x="712.5" y="279.3" width="3" height="16.7" fill="#dfe2e4"/>
<rect x="717.5" y="259.7" width="1" height="30.8" fill="#dfe2e4"/>
<rect x="716.5" y="267.7" width="3" height="12.8" fill="#dfe2e4"/>
<rect x="721.5" y="219.4" width="1" height="51.1" fill="#dfe2e4"/>
<rect x="720.5" y="219.4" width="3" height="50.1" fill="#dfe2e4"/>
<rect x="725.5" y="212.6" width="1" height="25.8" fill="#2f9ae8"/>
<rect x="724.5" y="220.6" width="3" height="12.8" fill="#2f9ae8"/>
<rect x="729.5" y="211.8" width="1" height="26.6" fill="#dfe2e4"/>
<rect x="728.5" y="225.8" width="3" height="2.6" fill="#dfe2e4"/>
<rect x="733.5" y="197.7" width="1" height="40.7" fill="#dfe2e4"/>
<rect x="732.5" y="211.7" width="3" height="16.7" fill="#dfe2e4"/>
<rect x="737.5" y="207.4" width="1" height="27.5" fill="#2f9ae8"/>
<rect x="736.5" y="210.4" width="3" height="20.5" fill="#2f9ae8"/>
<rect x="741.5" y="210.1" width="1" height="30.8" fill="#dfe2e4"/>
<rect x="740.5" y="218.1" width="3" height="12.8" fill="#dfe2e4"/>
<rect x="745.5" y="188.8" width="1" height="36.0" fill="#dfe2e4"/>
<rect x="744.5" y="198.8" width="3" height="18.0" fill="#dfe2e4"/>
<rect x="749.5" y="164.4" width="1" height="40.0" fill="#dfe2e4"/>
<rect x="748.5" y="174.4" width="3" height="27.0" fill="#dfe2e4"/>
<rect x="753.5" y="151.6" width="1" height="26.8" fill="#dfe2e4"/>
<rect x="752.5" y="161.6" width="3" height="12.8" fill="#dfe2e4"/>
<rect x="757.5" y="151.6" width="1" height="23.3" fill="#2f9ae8"/>
<rect x="756.5" y="161.6" width="3" height="10.3" fill="#2f9ae8"/>
<rect x="761.5" y="160.0" width="1" height="15.1" fill="#2f9ae8"/>
<rect x="760.5" y="168.0" width="3" height="5.1" fill="#2f9ae8"/>
<rect x="765.5" y="153.0" width="1" height="21.1" fill="#dfe2e4"/>
<rect x="764.5" y="159.0" width="3" height="14.1" fill="#dfe2e4"/>
<rect x="769.5" y="123.5" width="1" height="44.8" fill="#dfe2e4"/>
<rect x="768.5" y="129.5" width="3" height="30.8" fill="#dfe2e4"/>
<rect x="773.5" y="122.5" width="1" height="13.2" fill="#2f9ae8"/>
<rect x="772.5" y="128.2" width="3" height="6.4" fill="#2f9ae8"/>
<rect x="777.5" y="132.9" width="1" height="24.4" fill="#2f9ae8"/>
<rect x="776.5" y="135.9" width="3" height="15.4" fill="#2f9ae8"/>
<rect x="781.5" y="150.3" width="1" height="37.4" fill="#2f9ae8"/>
<rect x="780.5" y="151.3" width="3" height="33.4" fill="#2f9ae8"/>
<rect x="785.5" y="156.3" width="1" height="29.4" fill="#dfe2e4"/>
<rect x="784.5" y="160.3" width="3" height="24.4" fill="#dfe2e4"/>
<rect x="789.5" y="153.2" width="1" height="16.0" fill="#2f9ae8"/>
<rect x="788.5" y="155.2" width="3" height="9.0" fill="#2f9ae8"/>
<rect x="793.5" y="140.4" width="1" height="24.0" fill="#dfe2e4"/>
<rect x="792.5" y="142.4" width="3" height="18.0" fill="#dfe2e4"/>
<rect x="797.5" y="144.2" width="1" height="38.2" fill="#2f9ae8"/>
<rect x="796.5" y="146.2" width="3" height="28.2" fill="#2f9ae8"/>
<rect x="801.5" y="170.2" width="1" height="46.1" fill="#dfe2e4"/>
<rect x="800.5" y="173.2" width="3" height="2.6" fill="#dfe2e4"/>
<rect x="805.5" y="176.1" width="1" height="32.0" fill="#2f9ae8"/>
<rect x="804.5" y="182.1" width="3" height="18.0" fill="#2f9ae8"/>
<rect x="809.5" y="149.3" width="1" height="53.8" fill="#dfe2e4"/>
<rect x="808.5" y="151.3" width="3" height="48.8" fill="#dfe2e4"/>
<rect x="813.5" y="148.1" width="1" height="10.6" fill="#dfe2e4"/>
<rect x="812.5" y="150.1" width="3" height="2.6" fill="#dfe2e4"/>
<rect x="817.5" y="122.1" width="1" height="35.3" fill="#dfe2e4"/>
<rect x="816.5" y="132.1" width="3" height="19.3" fill="#dfe2e4"/>
<rect x="821.5" y="125.8" width="1" height="29.0" fill="#2f9ae8"/>
<rect x="820.5" y="130.8" width="3" height="18.0" fill="#2f9ae8"/>
<rect x="825.5" y="147.1" width="1" height="15.7" fill="#2f9ae8"/>
<rect x="824.5" y="150.1" width="3" height="7.7" fill="#2f9ae8"/>
<rect x="829.5" y="148.9" width="1" height="11.1" fill="#dfe2e4"/>
<rect x="828.5" y="153.9" width="3" height="5.1" fill="#dfe2e4"/>
<rect x="833.5" y="127.1" width="1" height="24.3" fill="#dfe2e4"/>
<rect x="832.5" y="132.1" width="3" height="19.3" fill="#dfe2e4"/>
<rect x="837.5" y="128.4" width="1" height="18.9" fill="#dfe2e4"/>
<rect x="836.5" y="133.4" width="3" height="3.9" fill="#dfe2e4"/>
<rect x="841.5" y="119.9" width="1" height="44.5" fill="#2f9ae8"/>
<rect x="840.5" y="132.1" width="3" height="24.4" fill="#2f9ae8"/>
<rect x="845.5" y="151.3" width="1" height="11.1" fill="#2f9ae8"/>
<rect x="844.5" y="151.3" width="3" height="5.1" fill="#2f9ae8"/>
<rect x="849.5" y="137.4" width="1" height="24.0" fill="#dfe2e4"/>
<rect x="848.5" y="142.4" width="3" height="9.0" fill="#dfe2e4"/>
<rect x="853.5" y="128.4" width="1" height="52.7" fill="#2f9ae8"/>
<rect x="852.5" y="142.4" width="3" height="34.7" fill="#2f9ae8"/>
<rect x="857.5" y="169.6" width="1" height="17.4" fill="#2f9ae8"/>
<rect x="856.5" y="179.6" width="3" height="6.4" fill="#2f9ae8"/>
<rect x="861.5" y="185.0" width="1" height="13.0" fill="#2f9ae8"/>
<rect x="860.5" y="186.0" width="3" height="9.0" fill="#2f9ae8"/>
<rect x="865.5" y="194.0" width="1" height="53.3" fill="#2f9ae8"/>
<rect x="864.5" y="195.0" width="3" height="51.3" fill="#2f9ae8"/>
<rect x="869.5" y="234.6" width="1" height="41.4" fill="#2f9ae8"/>
<rect x="868.5" y="238.6" width="3" height="33.4" fill="#2f9ae8"/>
<rect x="873.5" y="272.0" width="1" height="9.7" fill="#2f9ae8"/>
<rect x="872.5" y="272.0" width="3" height="7.7" fill="#2f9ae8"/>
<rect x="877.5" y="273.9" width="1" height="7.8" fill="#dfe2e4"/>
<rect x="876.5" y="277.9" width="3" height="1.8" fill="#dfe2e4"/>
<rect x="881.5" y="274.0" width="1" height="22.8" fill="#2f9ae8"/>
<rect x="880.5" y="280.0" width="3" height="12.8" fill="#2f9ae8"/>
<rect x="885.5" y="288.1" width="1" height="24.7" fill="#2f9ae8"/>
<rect x="884.5" y="294.1" width="3" height="16.7" fill="#2f9ae8"/>
<rect x="889.5" y="299.5" width="1" height="21.3" fill="#dfe2e4"/>
<rect x="888.5" y="309.5" width="3" height="1.3" fill="#dfe2e4"/>
<rect x="893.5" y="290.4" width="1" height="28.4" fill="#dfe2e4"/>
<rect x="892.5" y="304.4" width="3" height="6.4" fill="#dfe2e4"/>
<rect x="897.5" y="299.4" width="1" height="17.6" fill="#2f9ae8"/>
<rect x="896.5" y="304.4" width="3" height="11.6" fill="#2f9ae8"/>
<rect x="901.5" y="306.8" width="1" height="11.7" fill="#2f9ae8"/>
<rect x="900.5" y="310.8" width="3" height="7.7" fill="#2f9ae8"/>
<rect x="905.5" y="316.5" width="1" height="37.5" fill="#2f9ae8"/>
<rect x="904.5" y="318.5" width="3" height="29.5" fill="#2f9ae8"/>
<rect x="909.5" y="352.2" width="1" height="11.4" fill="#2f9ae8"/>
<rect x="908.5" y="353.2" width="3" height="6.4" fill="#2f9ae8"/>
<rect x="913.5" y="362.1" width="1" height="34.4" fill="#2f9ae8"/>
<rect x="912.5" y="362.1" width="3" height="33.4" fill="#2f9ae8"/>
<rect x="917.5" y="353.0" width="1" height="42.2" fill="#dfe2e4"/>
<rect x="916.5" y="357.0" width="3" height="37.2" fill="#dfe2e4"/>
<rect x="921.5" y="317.3" width="1" height="44.0" fill="#dfe2e4"/>
<rect x="920.5" y="331.3" width="3" height="27.0" fill="#dfe2e4"/>
<rect x="925.5" y="330.3" width="1" height="24.3" fill="#2f9ae8"/>
<rect x="924.5" y="331.3" width="3" height="19.3" fill="#2f9ae8"/>
<rect x="929.5" y="338.0" width="1" height="19.3" fill="#dfe2e4"/>
<rect x="928.5" y="339.0" width="3" height="10.3" fill="#dfe2e4"/>
<rect x="933.5" y="319.8" width="1" height="23.0" fill="#dfe2e4"/>
<rect x="932.5" y="319.8" width="3" height="18.0" fill="#dfe2e4"/>
<rect x="937.5" y="308.5" width="1" height="27.6" fill="#2f9ae8"/>
<rect x="936.5" y="318.5" width="3" height="11.6" fill="#2f9ae8"/>
<rect x="941.5" y="324.8" width="1" height="74.5" fill="#2f9ae8"/>
<rect x="940.5" y="328.8" width="3" height="56.5" fill="#2f9ae8"/>
<rect x="945.5" y="383.2" width="1" height="36.7" fill="#2f9ae8"/>
<rect x="944.5" y="385.2" width="3" height="34.7" fill="#2f9ae8"/>
<rect x="949.5" y="409.9" width="1" height="56.6" fill="#2f9ae8"/>
<rect x="948.5" y="419.9" width="3" height="43.6" fill="#2f9ae8"/>
<rect x="953.5" y="439.4" width="1" height="27.4" fill="#dfe2e4"/>
<rect x="952.5" y="440.4" width="3" height="24.4" fill="#dfe2e4"/>
<rect x="957.5" y="415.9" width="1" height="24.5" fill="#dfe2e4"/>
<rect x="956.5" y="419.9" width="3" height="20.5" fill="#dfe2e4"/>
<rect x="961.5" y="416.6" width="1" height="8.9" fill="#2f9ae8"/>
<rect x="960.5" y="418.6" width="3" height="3.9" fill="#2f9ae8"/>
<rect x="965.5" y="405.6" width="1" height="19.6" fill="#dfe2e4"/>
<rect x="964.5" y="409.6" width="3" height="11.6" fill="#dfe2e4"/>
<rect x="969.5" y="397.1" width="1" height="16.9" fill="#dfe2e4"/>
<rect x="968.5" y="407.1" width="3" height="3.9" fill="#dfe2e4"/>
<rect x="973.5" y="405.6" width="1" height="23.6" fill="#2f9ae8"/>
<rect x="972.5" y="409.6" width="3" height="11.6" fill="#2f9ae8"/>
<rect x="977.5" y="409.9" width="1" height="31.3" fill="#2f9ae8"/>
<rect x="976.5" y="419.9" width="3" height="19.3" fill="#2f9ae8"/>
<rect x="981.5" y="435.1" width="1" height="14.1" fill="#2f9ae8"/>
<rect x="980.5" y="439.1" width="3" height="5.1" fill="#2f9ae8"/>
<rect x="985.5" y="441.7" width="1" height="16.8" fill="#2f9ae8"/>
<rect x="984.5" y="441.7" width="3" height="12.8" fill="#2f9ae8"/>
<rect x="989.5" y="453.3" width="1" height="10.3" fill="#2f9ae8"/>
<rect x="988.5" y="453.3" width="3" height="10.3" fill="#2f9ae8"/>
<rect x="993.5" y="463.5" width="1" height="36.7" fill="#2f9ae8"/>
<rect x="992.5" y="463.5" width="3" height="21.8" fill="#2f9ae8"/>
<rect x="997.5" y="479.2" width="1" height="20.7" fill="#2f9ae8"/>
<rect x="996.5" y="489.2" width="3" height="7.7" fill="#2f9ae8"/>
<rect x="1001.5" y="472.8" width="1" height="33.4" fill="#dfe2e4"/>
<rect x="1000.5" y="482.8" width="3" height="15.4" fill="#dfe2e4"/>
<rect x="1005.5" y="469.5" width="1" height="21.3" fill="#dfe2e4"/>
<rect x="1004.5" y="472.5" width="3" height="10.3" fill="#dfe2e4"/>
<rect x="1009.5" y="451.0" width="1" height="26.3" fill="#dfe2e4"/>
<rect x="1008.5" y="452.0" width="3" height="19.3" fill="#dfe2e4"/>
<rect x="1013.5" y="444.0" width="1" height="37.3" fill="#2f9ae8"/>
<rect x="1012.5" y="452.0" width="3" height="19.3" fill="#2f9ae8"/>
<rect x="1017.5" y="456.2" width="1" height="27.6" fill="#dfe2e4"/>
<rect x="1016.5" y="462.2" width="3" height="11.6" fill="#dfe2e4"/>
<rect x="1021.5" y="423.6" width="1" height="42.9" fill="#dfe2e4"/>
<rect x="1020.5" y="427.6" width="3" height="35.9" fill="#dfe2e4"/>
<rect x="1025.5" y="410.5" width="1" height="27.3" fill="#dfe2e4"/>
<rect x="1024.5" y="413.5" width="3" height="19.3" fill="#dfe2e4"/>
<rect x="1029.5" y="413.0" width="1" height="11.4" fill="#2f9ae8"/>
<rect x="1028.5" y="416.0" width="3" height="6.4" fill="#2f9ae8"/>
<rect x="1033.5" y="422.4" width="1" height="14.1" fill="#2f9ae8"/>
<rect x="1032.5" y="428.4" width="3" height="3.1" fill="#2f9ae8"/>
<rect x="1037.5" y="413.5" width="1" height="20.0" fill="#dfe2e4"/>
<rect x="1036.5" y="413.5" width="3" height="18.0" fill="#dfe2e4"/>
<rect x="1041.5" y="406.4" width="1" height="8.1" fill="#dfe2e4"/>
<rect x="1040.5" y="410.9" width="3" height="2.6" fill="#dfe2e4"/>
<rect x="1045.5" y="409.5" width="1" height="13.9" fill="#2f9ae8"/>
<rect x="1044.5" y="413.5" width="3" height="3.9" fill="#2f9ae8"/>
<rect x="1049.5" y="416.6" width="1" height="5.9" fill="#2f9ae8"/>
<rect x="1048.5" y="418.6" width="3" height="3.9" fill="#2f9ae8"/>
<rect x="1053.5" y="420.2" width="1" height="17.3" fill="#2f9ae8"/>
<rect x="1052.5" y="421.2" width="3" height="10.3" fill="#2f9ae8"/>
<rect x="1057.5" y="421.4" width="1" height="32.0" fill="#2f9ae8"/>
<rect x="1056.5" y="431.4" width="3" height="18.0" fill="#2f9ae8"/>
<rect x="1061.5" y="418.7" width="1" height="36.3" fill="#dfe2e4"/>
<rect x="1060.5" y="432.7" width="3" height="19.3" fill="#dfe2e4"/>
<rect x="1065.5" y="414.6" width="1" height="18.1" fill="#dfe2e4"/>
<rect x="1064.5" y="418.6" width="3" height="14.1" fill="#dfe2e4"/>
<rect x="1069.5" y="418.3" width="1" height="12.6" fill="#dfe2e4"/>
<rect x="1068.5" y="426.3" width="3" height="2.6" fill="#dfe2e4"/>
<rect x="1073.5" y="408.9" width="1" height="12.4" fill="#2f9ae8"/>
<rect x="1072.5" y="410.9" width="3" height="6.4" fill="#2f9ae8"/>
<rect x="1077.5" y="410.6" width="1" height="29.8" fill="#2f9ae8"/>
<rect x="1076.5" y="418.6" width="3" height="21.8" fill="#2f9ae8"/>
<rect x="1081.5" y="433.9" width="1" height="43.5" fill="#2f9ae8"/>
<rect x="1080.5" y="437.9" width="3" height="32.1" fill="#2f9ae8"/>
<rect x="1085.5" y="456.0" width="1" height="24.0" fill="#dfe2e4"/>
<rect x="1084.5" y="461.0" width="3" height="9.0" fill="#dfe2e4"/>
<rect x="1089.5" y="420.0" width="1" height="42.7" fill="#dfe2e4"/>
<rect x="1088.5" y="425.0" width="3" height="34.7" fill="#dfe2e4"/>
<rect x="1093.5" y="405.8" width="1" height="23.3" fill="#dfe2e4"/>
<rect x="1092.5" y="405.8" width="3" height="19.3" fill="#dfe2e4"/>
<rect x="1097.5" y="402.8" width="1" height="24.7" fill="#2f9ae8"/>
<rect x="1096.5" y="405.8" width="3" height="16.7" fill="#2f9ae8"/>
<rect x="1101.5" y="430.7" width="1" height="17.4" fill="#2f9ae8"/>
<rect x="1100.5" y="432.7" width="3" height="15.4" fill="#2f9ae8"/>
<rect x="1105.5" y="421.3" width="1" height="35.4" fill="#dfe2e4"/>
<rect x="1104.5" y="426.3" width="3" height="24.4" fill="#dfe2e4"/>
<rect x="1109.5" y="421.5" width="1" height="12.9" fill="#dfe2e4"/>
<rect x="1108.5" y="422.5" width="3" height="3.9" fill="#dfe2e4"/>
<rect x="1113.5" y="421.0" width="1" height="16.6" fill="#dfe2e4"/>
<rect x="1112.5" y="425.0" width="3" height="2.6" fill="#dfe2e4"/>
<rect x="1117.5" y="418.2" width="1" height="11.1" fill="#dfe2e4"/>
<rect x="1116.5" y="421.2" width="3" height="5.1" fill="#dfe2e4"/>
<rect x="1121.5" y="411.2" width="1" height="12.6" fill="#dfe2e4"/>
<rect x="1120.5" y="421.2" width="3" height="2.6" fill="#dfe2e4"/>
<rect x="1125.5" y="418.9" width="1" height="8.9" fill="#dfe2e4"/>
<rect x="1124.5" y="419.9" width="3" height="3.9" fill="#dfe2e4"/>
<rect x="1129.5" y="418.9" width="1" height="10.7" fill="#2f9ae8"/>
<rect x="1128.5" y="419.9" width="3" height="7.7" fill="#2f9ae8"/>
<rect x="1133.5" y="386.9" width="1" height="53.4" fill="#dfe2e4"/>
<rect x="1132.5" y="392.9" width="3" height="33.4" fill="#dfe2e4"/>
<rect x="1137.5" y="376.3" width="1" height="22.7" fill="#dfe2e4"/>
<rect x="1136.5" y="376.3" width="3" height="16.7" fill="#dfe2e4"/>
<rect x="1141.5" y="377.5" width="1" height="11.7" fill="#2f9ae8"/>
<rect x="1140.5" y="377.5" width="3" height="7.7" fill="#2f9ae8"/>
<rect x="1145.5" y="351.7" width="1" height="36.5" fill="#dfe2e4"/>
<rect x="1144.5" y="355.7" width="3" height="29.5" fill="#dfe2e4"/>
<rect x="1149.5" y="354.7" width="1" height="21.4" fill="#2f9ae8"/>
<rect x="1148.5" y="355.7" width="3" height="6.4" fill="#2f9ae8"/>
<rect x="1153.5" y="334.2" width="1" height="35.1" fill="#dfe2e4"/>
<rect x="1152.5" y="344.2" width="3" height="23.1" fill="#dfe2e4"/>
<rect x="1157.5" y="327.6" width="1" height="25.1" fill="#2f9ae8"/>
<rect x="1156.5" y="341.6" width="3" height="5.1" fill="#2f9ae8"/>
<rect x="1161.5" y="335.3" width="1" height="22.0" fill="#dfe2e4"/>
<rect x="1160.5" y="340.3" width="3" height="9.0" fill="#dfe2e4"/>
<rect x="1165.5" y="311.7" width="1" height="33.9" fill="#dfe2e4"/>
<rect x="1164.5" y="322.4" width="3" height="19.3" fill="#dfe2e4"/>
<rect x="1169.5" y="309.6" width="1" height="51.9" fill="#2f9ae8"/>
<rect x="1168.5" y="323.6" width="3" height="35.9" fill="#2f9ae8"/>
<rect x="1173.5" y="359.6" width="1" height="15.1" fill="#2f9ae8"/>
<rect x="1172.5" y="359.6" width="3" height="5.1" fill="#2f9ae8"/>
<rect x="1177.5" y="360.0" width="1" height="48.1" fill="#2f9ae8"/>
<rect x="1176.5" y="366.0" width="3" height="32.1" fill="#2f9ae8"/>
<rect x="1181.5" y="380.7" width="1" height="17.1" fill="#dfe2e4"/>
<rect x="1180.5" y="382.7" width="3" height="5.1" fill="#dfe2e4"/>
<rect x="1185.5" y="372.7" width="1" height="40.7" fill="#2f9ae8"/>
<rect x="1184.5" y="382.7" width="3" height="16.7" fill="#2f9ae8"/>
<rect x="1189.5" y="366.0" width="1" height="36.2" fill="#dfe2e4"/>
<rect x="1188.5" y="366.0" width="3" height="21.8" fill="#dfe2e4"/>
<rect x="1193.5" y="364.3" width="1" height="16.8" fill="#2f9ae8"/>
<rect x="1192.5" y="367.3" width="3" height="12.8" fill="#2f9ae8"/>
<rect x="1197.5" y="372.4" width="1" height="5.1" fill="#dfe2e4"/>
<rect x="1196.5" y="372.4" width="3" height="5.1" fill="#dfe2e4"/>
<rect x="1201.5" y="362.7" width="1" height="22.4" fill="#dfe2e4"/>
<rect x="1200.5" y="364.7" width="3" height="15.4" fill="#dfe2e4"/>
<rect x="1205.5" y="362.4" width="1" height="16.0" fill="#2f9ae8"/>
<rect x="1204.5" y="363.4" width="3" height="9.0" fill="#2f9ae8"/>
<rect x="1209.5" y="364.4" width="1" height="23.1" fill="#dfe2e4"/>
<rect x="1208.5" y="372.4" width="3" height="5.1" fill="#dfe2e4"/>
<rect x="1213.5" y="372.4" width="1" height="5.1" fill="#dfe2e4"/>
<rect x="1212.5" y="372.4" width="3" height="5.1" fill="#dfe2e4"/>
<rect x="1217.5" y="359.8" width="1" height="25.8" fill="#2f9ae8"/>
<rect x="1216.5" y="369.8" width="3" height="12.8" fill="#2f9ae8"/>
<rect x="1221.5" y="367.0" width="1" height="24.8" fill="#2f9ae8"/>
<rect x="1220.5" y="375.0" width="3" height="12.8" fill="#2f9ae8"/>
<rect x="1225.5" y="364.7" width="1" height="28.5" fill="#dfe2e4"/>
<rect x="1224.5" y="364.7" width="3" height="20.5" fill="#dfe2e4"/>
<rect x="1229.5" y="343.0" width="1" height="31.7" fill="#dfe2e4"/>
<rect x="1228.5" y="362.1" width="3" height="2.6" fill="#dfe2e4"/>
<rect x="1233.5" y="353.4" width="1" height="68.8" fill="#2f9ae8"/>
<rect x="1232.5" y="363.4" width="3" height="57.8" fill="#2f9ae8"/>
<rect x="1237.5" y="411.2" width="1" height="29.0" fill="#2f9ae8"/>
<rect x="1236.5" y="421.2" width="3" height="18.0" fill="#2f9ae8"/>
<rect x="1241.5" y="433.7" width="1" height="35.1" fill="#2f9ae8"/>
<rect x="1240.5" y="441.7" width="3" height="23.1" fill="#2f9ae8"/>
<rect x="1245.5" y="461.2" width="1" height="12.7" fill="#2f9ae8"/>
<rect x="1244.5" y="462.2" width="3" height="7.7" fill="#2f9ae8"/>
<rect x="1249.5" y="466.9" width="1" height="35.8" fill="#2f9ae8"/>
<rect x="1248.5" y="469.9" width="3" height="25.7" fill="#2f9ae8"/>
<rect x="1253.5" y="456.7" width="1" height="46.9" fill="#dfe2e4"/>
<rect x="1252.5" y="459.7" width="3" height="35.9" fill="#dfe2e4"/>
<rect x="1257.5" y="440.1" width="1" height="26.8" fill="#dfe2e4"/>
<rect x="1256.5" y="448.1" width="3" height="12.8" fill="#dfe2e4"/>
<rect x="1261.5" y="447.1" width="1" height="11.6" fill="#dfe2e4"/>
<rect x="1260.5" y="448.1" width="3" height="2.6" fill="#dfe2e4"/>
<rect x="1265.5" y="445.4" width="1" height="14.3" fill="#2f9ae8"/>
<rect x="1264.5" y="449.4" width="3" height="10.3" fill="#2f9ae8"/>
<rect x="1269.5" y="445.7" width="1" height="27.3" fill="#2f9ae8"/>
<rect x="1268.5" y="459.7" width="3" height="10.3" fill="#2f9ae8"/>
<rect x="1273.5" y="466.4" width="1" height="39.4" fill="#2f9ae8"/>
<rect x="1272.5" y="467.4" width="3" height="24.4" fill="#2f9ae8"/>
<rect x="1277.5" y="476.9" width="1" height="21.1" fill="#dfe2e4"/>
<rect x="1276.5" y="478.9" width="3" height="14.1" fill="#dfe2e4"/>
<rect x="1281.5" y="455.7" width="1" height="28.5" fill="#dfe2e4"/>
<rect x="1280.5" y="459.7" width="3" height="20.5" fill="#dfe2e4"/>
<rect x="1285.5" y="445.7" width="1" height="40.8" fill="#2f9ae8"/>
<rect x="1284.5" y="459.7" width="3" height="12.8" fill="#2f9ae8"/>
<rect x="1289.5" y="469.2" width="1" height="11.0" fill="#2f9ae8"/>
<rect x="1288.5" y="471.2" width="3" height="9.0" fill="#2f9ae8"/>
<rect x="1293.5" y="451.7" width="1" height="23.4" fill="#dfe2e4"/>
<rect x="1292.5" y="459.7" width="3" height="15.4" fill="#dfe2e4"/>
<rect x="1297.5" y="447.8" width="1" height="17.1" fill="#dfe2e4"/>
<rect x="1296.5" y="455.8" width="3" height="5.1" fill="#dfe2e4"/>
<rect x="1301.5" y="451.0" width="1" height="9.1" fill="#dfe2e4"/>
<rect x="1300.5" y="452.0" width="3" height="5.1" fill="#dfe2e4"/>
<rect x="1305.5" y="443.5" width="1" height="13.0" fill="#dfe2e4"/>
<rect x="1304.5" y="451.5" width="3" height="1.0" fill="#dfe2e4"/>
<rect x="1309.5" y="436.8" width="1" height="19.1" fill="#dfe2e4"/>
<rect x="1308.5" y="446.8" width="3" height="5.1" fill="#dfe2e4"/>
<rect x="1313.5" y="431.1" width="1" height="28.8" fill="#dfe2e4"/>
<rect x="1312.5" y="439.1" width="3" height="12.8" fill="#dfe2e4"/>
<rect x="1317.5" y="429.9" width="1" height="21.8" fill="#2f9ae8"/>
<rect x="1316.5" y="437.9" width="3" height="12.8" fill="#2f9ae8"/>
<rect x="1321.5" y="422.7" width="1" height="31.0" fill="#dfe2e4"/>
<rect x="1320.5" y="432.7" width="3" height="18.0" fill="#dfe2e4"/>
<rect x="1325.5" y="427.4" width="1" height="17.8" fill="#2f9ae8"/>
<rect x="1324.5" y="431.4" width="3" height="12.8" fill="#2f9ae8"/>
<rect x="1329.5" y="423.4" width="1" height="17.0" fill="#dfe2e4"/>
<rect x="1328.5" y="431.4" width="3" height="9.0" fill="#dfe2e4"/>
<rect x="1333.5" y="422.4" width="1" height="33.7" fill="#2f9ae8"/>
<rect x="1332.5" y="432.7" width="3" height="15.4" fill="#2f9ae8"/>
<rect x="1337.5" y="458.7" width="1" height="16.1" fill="#2f9ae8"/>
<rect x="1336.5" y="459.7" width="3" height="5.1" fill="#2f9ae8"/>
<rect x="1341.5" y="453.0" width="1" height="23.6" fill="#2f9ae8"/>
<rect x="1340.5" y="461.0" width="3" height="11.6" fill="#2f9ae8"/>
<rect x="1345.5" y="465.2" width="1" height="33.4" fill="#2f9ae8"/>
<rect x="1344.5" y="471.2" width="3" height="24.4" fill="#2f9ae8"/>
<rect x="1349.5" y="473.4" width="1" height="26.0" fill="#dfe2e4"/>
<rect x="1348.5" y="476.4" width="3" height="19.3" fill="#dfe2e4"/>
<rect x="1353.5" y="443.1" width="1" height="33.0" fill="#dfe2e4"/>
<rect x="1352.5" y="457.1" width="3" height="18.0" fill="#dfe2e4"/>
<rect x="1357.5" y="443.6" width="1" height="23.6" fill="#dfe2e4"/>
<rect x="1356.5" y="445.6" width="3" height="11.6" fill="#dfe2e4"/>
<rect x="1361.5" y="439.0" width="1" height="12.9" fill="#dfe2e4"/>
<rect x="1360.5" y="443.0" width="3" height="3.9" fill="#dfe2e4"/>
<rect x="1365.5" y="439.2" width="1" height="17.0" fill="#dfe2e4"/>
<rect x="1364.5" y="441.2" width="3" height="1.0" fill="#dfe2e4"/>
<rect x="1369.5" y="408.6" width="1" height="35.8" fill="#dfe2e4"/>
<rect x="1368.5" y="418.6" width="3" height="21.8" fill="#dfe2e4"/>
<rect x="1373.5" y="403.5" width="1" height="20.1" fill="#dfe2e4"/>
<rect x="1372.5" y="404.5" width="3" height="14.1" fill="#dfe2e4"/>
<rect x="1377.5" y="389.9" width="1" height="23.8" fill="#dfe2e4"/>
<rect x="1376.5" y="392.9" width="3" height="12.8" fill="#dfe2e4"/>
<rect x="1381.5" y="385.3" width="1" height="13.7" fill="#dfe2e4"/>
<rect x="1380.5" y="390.4" width="3" height="2.6" fill="#dfe2e4"/>
<rect x="1385.5" y="387.8" width="1" height="4.6" fill="#dfe2e4"/>
<rect x="1384.5" y="387.8" width="3" height="2.6" fill="#dfe2e4"/>
<rect x="1389.5" y="389.1" width="1" height="23.4" fill="#2f9ae8"/>
<rect x="1388.5" y="389.1" width="3" height="15.4" fill="#2f9ae8"/>
<rect x="1393.5" y="395.2" width="1" height="21.7" fill="#2f9ae8"/>
<rect x="1392.5" y="403.2" width="3" height="7.7" fill="#2f9ae8"/>
<rect x="1397.5" y="381.2" width="1" height="25.3" fill="#dfe2e4"/>
<rect x="1396.5" y="385.2" width="3" height="19.3" fill="#dfe2e4"/>
<rect x="1401.5" y="381.8" width="1" height="23.8" fill="#2f9ae8"/>
<rect x="1400.5" y="387.8" width="3" height="12.8" fill="#2f9ae8"/>
<rect x="1405.5" y="393.4" width="1" height="14.9" fill="#2f9ae8"/>
<rect x="1404.5" y="399.4" width="3" height="3.9" fill="#2f9ae8"/>
<rect x="1409.5" y="399.6" width="1" height="13.7" fill="#2f9ae8"/>
<rect x="1408.5" y="400.6" width="3" height="7.7" fill="#2f9ae8"/>
<rect x="1413.5" y="406.5" width="1" height="6.0" fill="#dfe2e4"/>
<rect x="1412.5" y="406.5" width="3" height="1.0" fill="#dfe2e4"/>
<rect x="1417.5" y="400.8" width="1" height="21.7" fill="#2f9ae8"/>
<rect x="1416.5" y="405.8" width="3" height="10.3" fill="#2f9ae8"/>
<rect x="1421.5" y="389.4" width="1" height="31.0" fill="#dfe2e4"/>
<rect x="1420.5" y="390.4" width="3" height="27.0" fill="#dfe2e4"/>
<rect x="1425.5" y="389.1" width="1" height="5.3" fill="#dfe2e4"/>
<rect x="1424.5" y="389.1" width="3" height="1.3" fill="#dfe2e4"/>
<rect x="1429.5" y="383.8" width="1" height="11.6" fill="#dfe2e4"/>
<rect x="1428.5" y="387.8" width="3" height="2.6" fill="#dfe2e4"/>
<rect x="1433.5" y="385.5" width="1" height="9.6" fill="#dfe2e4"/>
<rect x="1432.5" y="386.5" width="3" height="2.6" fill="#dfe2e4"/>
<rect x="1437.5" y="356.1" width="1" height="44.4" fill="#dfe2e4"/>
<rect x="1436.5" y="362.1" width="3" height="24.4" fill="#dfe2e4"/>
<rect x="1441.5" y="358.6" width="1" height="8.6" fill="#dfe2e4"/>
<rect x="1440.5" y="359.6" width="3" height="2.6" fill="#dfe2e4"/>
<rect x="1445.5" y="352.3" width="1" height="17.7" fill="#2f9ae8"/>
<rect x="1444.5" y="358.3" width="3" height="7.7" fill="#2f9ae8"/>
<rect x="1449.5" y="344.2" width="1" height="25.8" fill="#dfe2e4"/>
<rect x="1448.5" y="344.2" width="3" height="21.8" fill="#dfe2e4"/>
<rect x="1453.5" y="339.3" width="1" height="6.1" fill="#dfe2e4"/>
<rect x="1452.5" y="340.3" width="3" height="5.1" fill="#dfe2e4"/>
<rect x="1457.5" y="332.5" width="1" height="12.4" fill="#dfe2e4"/>
<rect x="1456.5" y="336.5" width="3" height="6.4" fill="#dfe2e4"/>
<rect x="1461.5" y="332.2" width="1" height="39.1" fill="#2f9ae8"/>
<rect x="1460.5" y="335.2" width="3" height="32.1" fill="#2f9ae8"/>
<rect x="1465.5" y="357.4" width="1" height="19.9" fill="#dfe2e4"/>
<rect x="1464.5" y="363.4" width="3" height="3.9" fill="#dfe2e4"/>
<rect x="1469.5" y="357.9" width="1" height="9.0" fill="#dfe2e4"/>
<rect x="1468.5" y="362.9" width="3" height="1.0" fill="#dfe2e4"/>
<rect x="1473.5" y="355.9" width="1" height="14.9" fill="#dfe2e4"/>
<rect x="1472.5" y="360.9" width="3" height="3.9" fill="#dfe2e4"/>
<rect x="1477.5" y="345.5" width="1" height="22.7" fill="#dfe2e4"/>
<rect x="1476.5" y="345.5" width="3" height="16.7" fill="#dfe2e4"/>
<rect x="1481.5" y="331.6" width="1" height="23.9" fill="#dfe2e4"/>
<rect x="1480.5" y="341.6" width="3" height="3.9" fill="#dfe2e4"/>
<rect x="1485.5" y="326.1" width="1" height="19.1" fill="#dfe2e4"/>
<rect x="1484.5" y="336.5" width="3" height="7.7" fill="#dfe2e4"/>
<rect x="1489.5" y="336.5" width="1" height="16.3" fill="#2f9ae8"/>
<rect x="1488.5" y="336.5" width="3" height="10.3" fill="#2f9ae8"/>
<rect x="1493.5" y="338.7" width="1" height="43.8" fill="#2f9ae8"/>
<rect x="1492.5" y="346.7" width="3" height="21.8" fill="#2f9ae8"/>
<rect x="1497.5" y="355.0" width="1" height="11.1" fill="#dfe2e4"/>
<rect x="1496.5" y="357.0" width="3" height="5.1" fill="#dfe2e4"/>
<rect x="1501.5" y="349.0" width="1" height="10.6" fill="#dfe2e4"/>
<rect x="1500.5" y="357.0" width="3" height="2.6" fill="#dfe2e4"/>
<rect x="1505.5" y="351.4" width="1" height="22.3" fill="#2f9ae8"/>
<rect x="1504.5" y="361.4" width="3" height="10.3" fill="#2f9ae8"/>
<rect x="1509.5" y="364.6" width="1" height="43.4" fill="#2f9ae8"/>
<rect x="1508.5" y="366.6" width="3" height="33.4" fill="#2f9ae8"/>
<rect x="1513.5" y="373.4" width="1" height="31.5" fill="#dfe2e4"/>
<rect x="1512.5" y="379.4" width="3" height="20.5" fill="#dfe2e4"/>
<rect x="1517.5" y="366.4" width="1" height="18.3" fill="#dfe2e4"/>
<rect x="1516.5" y="370.4" width="3" height="10.3" fill="#dfe2e4"/>
<rect x="1521.5" y="361.3" width="1" height="15.7" fill="#dfe2e4"/>
<rect x="1520.5" y="365.3" width="3" height="7.7" fill="#dfe2e4"/>
<rect x="1525.5" y="355.4" width="1" height="14.1" fill="#dfe2e4"/>
<rect x="1524.5" y="361.4" width="3" height="5.1" fill="#dfe2e4"/>
<rect x="1529.5" y="357.4" width="1" height="28.7" fill="#2f9ae8"/>
<rect x="1528.5" y="361.4" width="3" height="16.7" fill="#2f9ae8"/>
<rect x="1533.5" y="356.6" width="1" height="23.7" fill="#dfe2e4"/>
<rect x="1532.5" y="366.6" width="3" height="7.7" fill="#dfe2e4"/>
<rect x="1537.5" y="364.3" width="1" height="10.7" fill="#2f9ae8"/>
<rect x="1536.5" y="365.3" width="3" height="7.7" fill="#2f9ae8"/>
<rect x="1541.5" y="367.1" width="1" height="8.1" fill="#dfe2e4"/>
<rect x="1540.5" y="369.1" width="3" height="5.1" fill="#dfe2e4"/>
<rect x="1545.5" y="367.4" width="1" height="24.6" fill="#2f9ae8"/>
<rect x="1544.5" y="370.4" width="3" height="11.6" fill="#2f9ae8"/>
<rect x="1549.5" y="374.0" width="1" height="33.4" fill="#2f9ae8"/>
<rect x="1548.5" y="382.0" width="3" height="15.4" fill="#2f9ae8"/>
<rect x="1553.5" y="386.7" width="1" height="18.7" fill="#dfe2e4"/>
<rect x="1552.5" y="389.7" width="3" height="7.7" fill="#dfe2e4"/>
<rect x="1557.5" y="382.1" width="1" height="23.3" fill="#2f9ae8"/>
<rect x="1556.5" y="387.1" width="3" height="10.3" fill="#2f9ae8"/>
<rect x="1561.5" y="382.4" width="1" height="14.4" fill="#dfe2e4"/>
<rect x="1560.5" y="388.4" width="3" height="6.4" fill="#dfe2e4"/>
<rect x="1565.5" y="381.0" width="1" height="32.3" fill="#2f9ae8"/>
<rect x="1564.5" y="391.0" width="3" height="19.3" fill="#2f9ae8"/>
<rect x="1569.5" y="408.0" width="1" height="5.0" fill="#dfe2e4"/>
<rect x="1568.5" y="411.0" width="3" height="1.0" fill="#dfe2e4"/>
<rect x="1573.5" y="390.2" width="1" height="23.7" fill="#dfe2e4"/>
<rect x="1572.5" y="392.2" width="3" height="16.7" fill="#dfe2e4"/>
<rect x="1577.5" y="382.2" width="1" height="18.7" fill="#2f9ae8"/>
<rect x="1576.5" y="392.2" width="3" height="7.7" fill="#2f9ae8"/>
<rect x="1581.5" y="393.7" width="1" height="9.3" fill="#2f9ae8"/>
<rect x="1580.5" y="398.7" width="3" height="1.3" fill="#2f9ae8"/>
<rect x="1585.5" y="391.1" width="1" height="14.1" fill="#dfe2e4"/>
<rect x="1584.5" y="396.1" width="3" height="5.1" fill="#dfe2e4"/>
<rect x="1589.5" y="382.1" width="1" height="31.1" fill="#2f9ae8"/>
<rect x="1588.5" y="396.1" width="3" height="14.1" fill="#2f9ae8"/>
<rect x="1593.5" y="408.9" width="1" height="13.7" fill="#2f9ae8"/>
<rect x="1592.5" y="408.9" width="3" height="7.7" fill="#2f9ae8"/>
<rect x="1597.5" y="406.8" width="1" height="21.0" fill="#2f9ae8"/>
<rect x="1596.5" y="412.8" width="3" height="9.0" fill="#2f9ae8"/>
<rect x="1601.5" y="410.5" width="1" height="14.3" fill="#dfe2e4"/>
<rect x="1600.5" y="420.5" width="3" height="1.3" fill="#dfe2e4"/>
<rect x="1605.5" y="408.1" width="1" height="26.7" fill="#2f9ae8"/>
<rect x="1604.5" y="414.1" width="3" height="16.7" fill="#2f9ae8"/>
<rect x="1609.5" y="414.2" width="1" height="15.3" fill="#dfe2e4"/>
<rect x="1608.5" y="419.2" width="3" height="10.3" fill="#dfe2e4"/>
<rect x="1613.5" y="412.5" width="1" height="37.0" fill="#dfe2e4"/>
<rect x="1612.5" y="420.5" width="3" height="1.3" fill="#dfe2e4"/>
<rect x="1617.5" y="406.5" width="1" height="29.3" fill="#2f9ae8"/>
<rect x="1616.5" y="420.5" width="3" height="10.3" fill="#2f9ae8"/>
<rect x="1621.5" y="428.7" width="1" height="14.6" fill="#dfe2e4"/>
<rect x="1620.5" y="430.7" width="3" height="2.6" fill="#dfe2e4"/>
<rect x="1625.5" y="406.6" width="1" height="29.7" fill="#dfe2e4"/>
<rect x="1624.5" y="416.6" width="3" height="16.7" fill="#dfe2e4"/>
<rect x="1629.5" y="387.4" width="1" height="24.3" fill="#dfe2e4"/>
<rect x="1628.5" y="388.4" width="3" height="19.3" fill="#dfe2e4"/>
<rect x="1633.5" y="375.1" width="1" height="20.6" fill="#dfe2e4"/>
<rect x="1632.5" y="378.1" width="3" height="11.6" fill="#dfe2e4"/>
<rect x="1637.5" y="358.0" width="1" height="28.1" fill="#dfe2e4"/>
<rect x="1636.5" y="364.0" width="3" height="14.1" fill="#dfe2e4"/>
<rect x="1641.5" y="356.7" width="1" height="12.6" fill="#dfe2e4"/>
<rect x="1640.5" y="362.7" width="3" height="2.6" fill="#dfe2e4"/>
<rect x="1645.5" y="362.7" width="1" height="4.6" fill="#dfe2e4"/>
<rect x="1644.5" y="362.7" width="3" height="2.6" fill="#dfe2e4"/>
<rect x="1649.5" y="315.2" width="1" height="53.5" fill="#dfe2e4"/>
<rect x="1648.5" y="315.2" width="3" height="47.5" fill="#dfe2e4"/>
<rect x="1653.5" y="303.4" width="1" height="28.4" fill="#dfe2e4"/>
<rect x="1652.5" y="311.4" width="3" height="6.4" fill="#dfe2e4"/>
<rect x="1657.5" y="302.1" width="1" height="24.7" fill="#2f9ae8"/>
<rect x="1656.5" y="310.1" width="3" height="16.7" fill="#2f9ae8"/>
<rect x="1661.5" y="295.0" width="1" height="35.2" fill="#dfe2e4"/>
<rect x="1660.5" y="296.0" width="3" height="28.2" fill="#dfe2e4"/>
<rect x="1665.5" y="286.8" width="1" height="19.0" fill="#dfe2e4"/>
<rect x="1664.5" y="296.8" width="3" height="1.0" fill="#dfe2e4"/>
<rect x="1669.5" y="289.3" width="1" height="17.4" fill="#2f9ae8"/>
<rect x="1668.5" y="297.3" width="3" height="6.4" fill="#2f9ae8"/>
<rect x="1673.5" y="264.2" width="1" height="41.2" fill="#dfe2e4"/>
<rect x="1672.5" y="265.2" width="3" height="37.2" fill="#dfe2e4"/>
<rect x="1677.5" y="242.7" width="1" height="24.5" fill="#dfe2e4"/>
<rect x="1676.5" y="244.7" width="3" height="20.5" fill="#dfe2e4"/>
<rect x="1681.5" y="234.6" width="1" height="21.3" fill="#2f9ae8"/>
<rect x="1680.5" y="244.6" width="3" height="10.3" fill="#2f9ae8"/>
<rect x="1685.5" y="235.3" width="1" height="20.6" fill="#dfe2e4"/>
<rect x="1684.5" y="243.3" width="3" height="11.6" fill="#dfe2e4"/>
<rect x="1689.5" y="220.5" width="1" height="22.8" fill="#dfe2e4"/>
<rect x="1688.5" y="230.5" width="3" height="12.8" fill="#dfe2e4"/>
<rect x="1693.5" y="231.8" width="1" height="20.0" fill="#2f9ae8"/>
<rect x="1692.5" y="231.8" width="3" height="18.0" fill="#2f9ae8"/>
<rect x="1697.5" y="231.3" width="1" height="29.8" fill="#dfe2e4"/>
<rect x="1696.5" y="234.3" width="3" height="12.8" fill="#dfe2e4"/>
<rect x="1701.5" y="233.0" width="1" height="10.4" fill="#2f9ae8"/>
<rect x="1700.5" y="233.0" width="3" height="6.4" fill="#2f9ae8"/>
<rect x="1705.5" y="223.3" width="1" height="21.4" fill="#dfe2e4"/>
<rect x="1704.5" y="225.3" width="3" height="15.4" fill="#dfe2e4"/>
<rect x="1709.5" y="212.8" width="1" height="21.1" fill="#dfe2e4"/>
<rect x="1708.5" y="222.8" width="3" height="5.1" fill="#dfe2e4"/>
<rect x="1713.5" y="202.5" width="1" height="23.8" fill="#dfe2e4"/>
<rect x="1712.5" y="203.5" width="3" height="21.8" fill="#dfe2e4"/>
<rect x="1717.5" y="188.4" width="1" height="20.4" fill="#dfe2e4"/>
<rect x="1716.5" y="189.4" width="3" height="15.4" fill="#dfe2e4"/>
<rect x="1721.5" y="167.9" width="1" height="35.6" fill="#dfe2e4"/>
<rect x="1720.5" y="177.9" width="3" height="11.6" fill="#dfe2e4"/>
<rect x="1725.5" y="165.9" width="1" height="19.3" fill="#dfe2e4"/>
<rect x="1724.5" y="168.9" width="3" height="10.3" fill="#dfe2e4"/>
<rect x="1729.5" y="162.3" width="1" height="28.8" fill="#2f9ae8"/>
<rect x="1728.5" y="166.3" width="3" height="21.8" fill="#2f9ae8"/>
<rect x="1733.5" y="172.8" width="1" height="19.1" fill="#2f9ae8"/>
<rect x="1732.5" y="186.8" width="3" height="5.1" fill="#2f9ae8"/>
<rect x="1737.5" y="192.0" width="1" height="38.2" fill="#2f9ae8"/>
<rect x="1736.5" y="192.0" width="3" height="28.2" fill="#2f9ae8"/>
<rect x="1741.5" y="189.3" width="1" height="44.1" fill="#dfe2e4"/>
<rect x="1740.5" y="193.3" width="3" height="32.1" fill="#dfe2e4"/>
<rect x="1745.5" y="188.0" width="1" height="21.8" fill="#2f9ae8"/>
<rect x="1744.5" y="192.0" width="3" height="12.8" fill="#2f9ae8"/>
<rect x="1749.5" y="196.7" width="1" height="21.3" fill="#2f9ae8"/>
<rect x="1748.5" y="199.7" width="3" height="10.3" fill="#2f9ae8"/>
<rect x="1753.5" y="202.0" width="1" height="14.0" fill="#dfe2e4"/>
<rect x="1752.5" y="212.0" width="3" height="1.0" fill="#dfe2e4"/>
<rect x="1757.5" y="194.8" width="1" height="19.4" fill="#dfe2e4"/>
<rect x="1756.5" y="204.8" width="3" height="6.4" fill="#dfe2e4"/>
<rect x="1761.5" y="193.3" width="1" height="16.3" fill="#dfe2e4"/>
<rect x="1760.5" y="193.3" width="3" height="10.3" fill="#dfe2e4"/>
<rect x="1765.5" y="188.0" width="1" height="6.6" fill="#dfe2e4"/>
<rect x="1764.5" y="192.0" width="3" height="2.6" fill="#dfe2e4"/>
<rect x="1769.5" y="165.0" width="1" height="32.5" fill="#dfe2e4"/>
<rect x="1768.5" y="165.0" width="3" height="29.5" fill="#dfe2e4"/>
<rect x="1773.5" y="158.3" width="1" height="21.7" fill="#2f9ae8"/>
<rect x="1772.5" y="166.3" width="3" height="7.7" fill="#2f9ae8"/>
<rect x="1777.5" y="166.6" width="1" height="14.0" fill="#2f9ae8"/>
<rect x="1776.5" y="167.6" width="3" height="9.0" fill="#2f9ae8"/>
<rect x="1781.5" y="168.4" width="1" height="16.7" fill="#2f9ae8"/>
<rect x="1780.5" y="171.4" width="3" height="7.7" fill="#2f9ae8"/>
<rect x="1785.5" y="172.9" width="1" height="10.6" fill="#dfe2e4"/>
<rect x="1784.5" y="177.9" width="3" height="2.6" fill="#dfe2e4"/>
<rect x="1789.5" y="163.4" width="1" height="14.4" fill="#dfe2e4"/>
<rect x="1788.5" y="171.4" width="3" height="6.4" fill="#dfe2e4"/>
<rect x="1793.5" y="165.2" width="1" height="18.7" fill="#2f9ae8"/>
<rect x="1792.5" y="170.2" width="3" height="7.7" fill="#2f9ae8"/>
<rect x="1797.5" y="162.6" width="1" height="22.6" fill="#dfe2e4"/>
<rect x="1796.5" y="167.6" width="3" height="11.6" fill="#dfe2e4"/>
<rect x="1801.5" y="158.2" width="1" height="9.4" fill="#dfe2e4"/>
<rect x="1800.5" y="161.2" width="3" height="6.4" fill="#dfe2e4"/>
<rect x="1805.5" y="147.8" width="1" height="25.9" fill="#2f9ae8"/>
<rect x="1804.5" y="159.9" width="3" height="3.9" fill="#2f9ae8"/>
<rect x="1809.5" y="158.9" width="1" height="15.6" fill="#2f9ae8"/>
<rect x="1808.5" y="159.9" width="3" height="11.6" fill="#2f9ae8"/>
<rect x="1813.5" y="160.9" width="1" height="16.1" fill="#2f9ae8"/>
<rect x="1812.5" y="168.9" width="3" height="5.1" fill="#2f9ae8"/>
<rect x="1817.5" y="166.2" width="1" height="28.1" fill="#2f9ae8"/>
<rect x="1816.5" y="170.2" width="3" height="20.5" fill="#2f9ae8"/>
<rect x="1821.5" y="171.0" width="1" height="27.7" fill="#dfe2e4"/>
<rect x="1820.5" y="174.0" width="3" height="16.7" fill="#dfe2e4"/>
<rect x="1825.5" y="138.9" width="1" height="36.5" fill="#dfe2e4"/>
<rect x="1824.5" y="141.9" width="3" height="29.5" fill="#dfe2e4"/>
<rect x="1829.5" y="141.8" width="1" height="10.1" fill="#2f9ae8"/>
<rect x="1828.5" y="145.8" width="3" height="5.1" fill="#2f9ae8"/>
<rect x="1833.5" y="103.5" width="1" height="52.8" fill="#dfe2e4"/>
<rect x="1832.5" y="117.5" width="3" height="30.8" fill="#dfe2e4"/>
<rect x="1837.5" y="98.4" width="1" height="22.4" fill="#dfe2e4"/>
<rect x="1836.5" y="112.4" width="3" height="6.4" fill="#dfe2e4"/>
<rect x="1841.5" y="90.2" width="1" height="29.0" fill="#dfe2e4"/>
<rect x="1840.5" y="93.2" width="3" height="18.0" fill="#dfe2e4"/>
<rect x="1845.5" y="83.3" width="1" height="26.5" fill="#2f9ae8"/>
<rect x="1844.5" y="89.3" width="3" height="20.5" fill="#2f9ae8"/>
<rect x="1849.5" y="66.3" width="1" height="44.2" fill="#dfe2e4"/>
<rect x="1848.5" y="80.3" width="3" height="28.2" fill="#dfe2e4"/>
<rect x="1853.5" y="64.1" width="1" height="17.6" fill="#dfe2e4"/>
<rect x="1852.5" y="70.1" width="3" height="11.6" fill="#dfe2e4"/>
<rect x="1857.5" y="65.8" width="1" height="5.6" fill="#2f9ae8"/>
<rect x="1856.5" y="68.8" width="3" height="2.6" fill="#2f9ae8"/>
<rect x="1861.5" y="44.5" width="1" height="27.6" fill="#dfe2e4"/>
<rect x="1860.5" y="58.5" width="3" height="11.6" fill="#dfe2e4"/>
<rect x="1865.5" y="38.8" width="1" height="19.7" fill="#dfe2e4"/>
<rect x="1864.5" y="41.8" width="3" height="16.7" fill="#dfe2e4"/>
<polyline points="-10.0,715.0 1.5,694.6 5.5,687.3 9.5,681.6 13.5,675.7 17.5,669.1 21.5,661.7 25.5,656.9 29.5,651.1 33.5,646.0 37.5,641.0 41.5,636.9 45.5,632.1 49.5,625.3 53.5,618.5 57.5,612.9 61.5,608.9 65.5,604.7 69.5,600.9 73.5,598.6 77.5,596.7 81.5,594.9 85.5,589.9 89.5,585.6 93.5,581.1 97.5,578.3 101.5,575.7 105.5,573.6 109.5,570.3 113.5,566.4 117.5,563.9 121.5,561.4 125.5,558.8 129.5,556.0 133.5,554.3 137.5,552.0 141.5,549.6 145.5,546.2 149.5,542.4 153.5,539.8 157.5,534.1 161.5,528.3 165.5,522.9 169.5,521.1 173.5,521.1 177.5,520.7 181.5,517.9 185.5,515.6 189.5,513.6 193.5,512.7 197.5,513.0 201.5,510.5 205.5,506.8 209.5,502.0 213.5,496.5 217.5,490.7 221.5,485.1 225.5,479.4 229.5,475.7 233.5,473.2 237.5,470.2 241.5,468.7 245.5,467.9 249.5,466.5 253.5,461.6 257.5,455.2 261.5,450.0 265.5,445.4 269.5,441.7 273.5,438.0 277.5,433.8 281.5,428.9 285.5,425.7 289.5,423.2 293.5,421.2 297.5,419.5 301.5,417.2 305.5,414.7 309.5,411.8 313.5,408.4 317.5,404.2 321.5,398.4 325.5,394.3 329.5,389.6 333.5,385.0 337.5,381.2 341.5,377.8 345.5,376.2 349.5,375.7 353.5,373.7 357.5,372.9 361.5,371.2 365.5,368.3 369.5,364.0 373.5,361.3 377.5,359.1 381.5,356.9 385.5,356.6 389.5,356.7 393.5,359.2 397.5,360.9 401.5,366.0 405.5,371.3 409.5,375.5 413.5,379.7 417.5,383.9 421.5,390.1 425.5,395.1 429.5,398.2 433.5,400.3 437.5,403.1 441.5,405.0 445.5,407.1 449.5,409.7 453.5,412.3 457.5,412.9 461.5,411.5 465.5,411.0 469.5,412.3 473.5,414.1 477.5,413.7 481.5,412.2 485.5,406.3 489.5,401.5 493.5,396.9 497.5,390.9 501.5,388.1 505.5,383.7 509.5,378.5 513.5,373.9 517.5,369.8 521.5,364.7 525.5,359.5 529.5,355.8 533.5,353.1 537.5,352.6 541.5,352.7 545.5,353.8 549.5,356.6 553.5,355.9 557.5,355.1 561.5,355.4 565.5,355.5 569.5,358.4 573.5,359.0 577.5,359.1 581.5,361.4 585.5,360.7 589.5,361.2 593.5,363.1 597.5,363.8 601.5,362.4 605.5,363.2 609.5,362.9 613.5,364.1 617.5,364.1 621.5,363.2 625.5,363.8 629.5,362.9 633.5,358.5 637.5,356.6 641.5,357.1 645.5,354.6 649.5,352.5 653.5,349.4 657.5,347.7 661.5,346.6 665.5,345.7 669.5,345.1 673.5,343.8 677.5,342.4 681.5,342.6 685.5,343.8 689.5,344.1 693.5,344.5 697.5,342.8 701.5,341.1 705.5,338.2 709.5,334.5 713.5,332.0 717.5,330.8 721.5,325.9 725.5,319.4 729.5,314.4 733.5,308.5 737.5,303.8 741.5,298.4 745.5,292.1 749.5,283.7 753.5,274.9 757.5,265.8 761.5,257.2 765.5,247.3 769.5,237.1 773.5,226.8 777.5,217.8 781.5,210.4 785.5,203.0 789.5,196.6 793.5,189.0 797.5,183.7 801.5,178.9 805.5,177.9 809.5,173.9 813.5,170.4 817.5,166.7 821.5,163.1 825.5,160.5 829.5,158.6 833.5,156.9 837.5,155.7 841.5,155.1 845.5,154.2 849.5,153.3 853.5,155.3 857.5,157.5 861.5,159.2 865.5,161.6 869.5,166.5 873.5,171.4 877.5,177.3 881.5,182.4 885.5,188.5 889.5,193.2 893.5,200.1 897.5,207.8 901.5,216.6 905.5,226.3 909.5,236.4 913.5,248.5 917.5,260.1 921.5,270.5 925.5,280.7 929.5,290.3 933.5,299.5 937.5,307.4 941.5,317.2 945.5,328.0 949.5,338.3 953.5,346.1 957.5,352.4 961.5,358.9 965.5,364.1 969.5,368.3 973.5,373.2 977.5,379.3 981.5,385.1 985.5,391.3 989.5,396.5 993.5,402.4 997.5,407.2 1001.5,413.2 1005.5,420.0 1009.5,425.0 1013.5,431.5 1017.5,438.5 1021.5,443.4 1025.5,445.0 1029.5,445.3 1033.5,444.0 1037.5,442.9 1041.5,442.6 1045.5,442.4 1049.5,443.1 1053.5,444.2 1057.5,445.5 1061.5,445.2 1065.5,444.0 1069.5,442.6 1073.5,440.4 1077.5,438.3 1081.5,437.0 1085.5,436.0 1089.5,433.7 1093.5,431.5 1097.5,429.2 1101.5,428.4 1105.5,428.3 1109.5,428.5 1113.5,428.5 1117.5,427.9 1121.5,428.2 1125.5,428.5 1129.5,429.0 1133.5,427.6 1137.5,425.1 1141.5,422.3 1145.5,418.8 1149.5,416.5 1153.5,412.9 1157.5,409.8 1161.5,405.3 1165.5,398.5 1169.5,393.8 1173.5,390.9 1177.5,390.6 1181.5,388.6 1185.5,386.3 1189.5,383.4 1193.5,381.3 1197.5,378.9 1201.5,376.2 1205.5,374.0 1209.5,371.9 1213.5,369.4 1217.5,369.1 1221.5,369.9 1225.5,369.1 1229.5,369.5 1233.5,372.4 1237.5,376.9 1241.5,382.4 1245.5,388.3 1249.5,396.3 1253.5,400.7 1257.5,404.3 1261.5,406.3 1265.5,409.7 1269.5,412.8 1273.5,418.6 1277.5,423.3 1281.5,427.4 1285.5,432.6 1289.5,437.8 1293.5,442.1 1297.5,446.1 1301.5,449.5 1305.5,452.5 1309.5,456.4 1313.5,460.1 1317.5,461.5 1321.5,461.2 1325.5,460.3 1329.5,458.5 1333.5,456.4 1337.5,456.7 1341.5,457.9 1345.5,460.2 1349.5,461.1 1353.5,460.5 1357.5,458.3 1361.5,456.6 1365.5,455.7 1369.5,453.1 1373.5,449.5 1377.5,446.4 1381.5,443.3 1385.5,440.2 1389.5,437.9 1393.5,436.1 1397.5,433.5 1401.5,431.0 1405.5,429.5 1409.5,427.8 1413.5,426.6 1417.5,425.1 1421.5,421.7 1425.5,417.9 1429.5,413.0 1433.5,408.9 1437.5,404.5 1441.5,400.4 1445.5,396.7 1449.5,392.0 1453.5,388.2 1457.5,384.8 1461.5,383.4 1465.5,382.0 1469.5,380.7 1473.5,378.5 1477.5,375.4 1481.5,373.3 1485.5,370.2 1489.5,367.6 1493.5,365.7 1497.5,363.4 1501.5,360.6 1505.5,359.7 1509.5,360.3 1513.5,360.0 1517.5,359.3 1521.5,359.6 1525.5,359.8 1529.5,360.5 1533.5,361.6 1537.5,363.3 1541.5,364.8 1545.5,365.5 1549.5,367.1 1553.5,368.3 1557.5,369.9 1561.5,371.8 1565.5,375.0 1569.5,378.4 1573.5,380.5 1577.5,382.0 1581.5,384.0 1585.5,385.8 1589.5,387.7 1593.5,388.5 1597.5,390.5 1601.5,392.8 1605.5,395.9 1609.5,398.5 1613.5,400.3 1617.5,403.2 1621.5,405.8 1625.5,408.0 1629.5,408.2 1633.5,407.2 1637.5,406.0 1641.5,404.4 1645.5,403.2 1649.5,398.7 1653.5,393.9 1657.5,390.8 1661.5,385.7 1665.5,380.6 1669.5,376.0 1673.5,368.8 1677.5,360.4 1681.5,352.1 1685.5,343.4 1689.5,333.7 1693.5,325.4 1697.5,316.5 1701.5,307.2 1705.5,297.4 1709.5,288.0 1713.5,279.1 1717.5,269.9 1721.5,260.7 1725.5,251.2 1729.5,242.5 1733.5,236.3 1737.5,231.7 1741.5,225.3 1745.5,220.9 1749.5,217.0 1753.5,212.9 1757.5,210.4 1761.5,208.4 1765.5,205.9 1769.5,202.6 1773.5,200.3 1777.5,197.2 1781.5,194.8 1785.5,192.1 1789.5,189.7 1793.5,187.7 1797.5,186.0 1801.5,184.6 1805.5,183.9 1809.5,183.9 1813.5,183.1 1817.5,182.8 1821.5,180.5 1825.5,178.0 1829.5,175.4 1833.5,171.1 1837.5,166.6 1841.5,161.5 1845.5,157.8 1849.5,152.9 1853.5,148.7 1857.5,144.1 1861.5,138.7 1865.5,132.3" fill="none" stroke="#000000" stroke-width="2.2" stroke-linejoin="round" />
<polyline points="-10.0,690.0 1.5,663.4 5.5,661.0 9.5,657.7 13.5,653.2 17.5,647.2 21.5,639.4 25.5,634.1 29.5,627.1 33.5,620.9 37.5,615.1 41.5,611.4 45.5,606.6 49.5,597.2 53.5,588.3 57.5,582.7 61.5,581.1 65.5,577.4 69.5,574.3 73.5,574.3 77.5,574.2 81.5,572.9 85.5,568.8 89.5,564.5 93.5,558.2 97.5,557.5 101.5,555.5 105.5,553.7 109.5,549.1 113.5,541.8 117.5,541.4 121.5,541.1 125.5,541.9 129.5,540.7 133.5,537.9 137.5,532.4 141.5,529.2 145.5,526.0 149.5,519.6 153.5,519.3 157.5,510.5 161.5,502.4 165.5,496.3 169.5,502.1 173.5,512.6 177.5,516.2 181.5,514.5 185.5,512.9 189.5,512.5 193.5,512.7 197.5,513.5 201.5,509.1 205.5,500.7 209.5,491.4 213.5,479.0 217.5,466.7 221.5,454.3 225.5,445.1 229.5,445.0 233.5,445.4 237.5,448.4 241.5,447.8 245.5,448.5 249.5,446.6 253.5,441.4 257.5,437.0 261.5,432.2 265.5,426.2 269.5,424.3 273.5,424.0 277.5,423.0 281.5,420.9 285.5,421.2 289.5,419.2 293.5,417.2 297.5,412.1 301.5,402.7 305.5,391.8 309.5,382.3 313.5,380.1 317.5,375.7 321.5,369.1 325.5,367.2 329.5,364.8 333.5,360.3 337.5,356.2 341.5,353.4 345.5,356.6 349.5,361.0 353.5,361.5 357.5,367.6 361.5,368.9 365.5,364.2 369.5,357.5 373.5,356.1 377.5,357.5 381.5,355.7 385.5,356.5 389.5,355.5 393.5,363.1 397.5,372.4 401.5,389.7 405.5,401.6 409.5,410.5 413.5,417.3 417.5,420.2 421.5,429.8 425.5,434.1 429.5,435.5 433.5,435.3 437.5,434.3 441.5,435.7 445.5,433.6 449.5,427.5 453.5,419.5 457.5,408.5 461.5,394.2 465.5,382.6 469.5,381.8 473.5,381.3 477.5,381.1 481.5,379.9 485.5,371.9 489.5,367.7 493.5,364.6 497.5,355.9 501.5,358.9 505.5,362.9 509.5,359.7 513.5,357.8 517.5,356.5 521.5,351.3 525.5,348.9 529.5,349.4 533.5,349.4 537.5,354.3 541.5,356.3 545.5,356.3 549.5,362.8 553.5,363.7 557.5,363.7 561.5,367.8 565.5,369.7 569.5,374.0 573.5,371.4 577.5,367.4 581.5,366.5 585.5,364.4 589.5,368.4 593.5,370.9 597.5,369.1 601.5,359.9 605.5,357.1 609.5,352.1 613.5,356.1 617.5,354.3 621.5,354.1 625.5,357.6 629.5,352.9 633.5,342.5 637.5,338.8 641.5,344.5 645.5,342.1 649.5,340.6 653.5,338.3 657.5,336.4 661.5,335.1 665.5,337.5 669.5,339.2 673.5,343.5 677.5,345.5 681.5,349.4 685.5,348.4 689.5,348.3 693.5,346.0 697.5,343.4 701.5,336.3 705.5,326.7 709.5,319.2 713.5,310.3 717.5,301.2 721.5,285.2 725.5,275.0 729.5,265.4 733.5,255.0 737.5,250.0 741.5,243.6 745.5,234.9 749.5,223.3 753.5,211.6 757.5,203.9 761.5,197.9 765.5,190.5 769.5,179.1 773.5,170.9 777.5,167.2 781.5,170.3 785.5,168.4 789.5,167.7 793.5,163.1 797.5,165.2 801.5,166.6 805.5,172.5 809.5,168.4 813.5,164.7 817.5,158.4 821.5,156.2 825.5,156.2 829.5,155.6 833.5,151.2 837.5,148.0 841.5,149.7 845.5,151.0 849.5,149.6 853.5,154.6 857.5,160.2 861.5,166.3 865.5,180.5 869.5,196.7 873.5,211.3 877.5,222.9 881.5,235.1 885.5,248.4 889.5,258.9 893.5,266.6 897.5,274.9 901.5,282.2 905.5,293.6 909.5,305.1 913.5,321.2 917.5,327.5 921.5,328.2 925.5,332.2 929.5,333.4 933.5,330.6 937.5,330.0 941.5,339.3 945.5,353.2 949.5,372.5 953.5,384.3 957.5,390.6 961.5,396.5 965.5,399.4 969.5,401.6 973.5,406.2 977.5,413.2 981.5,419.9 985.5,426.9 989.5,434.1 993.5,443.6 997.5,453.2 1001.5,458.2 1005.5,460.3 1009.5,458.1 1013.5,459.9 1017.5,459.7 1021.5,453.3 1025.5,445.7 1029.5,441.3 1033.5,439.5 1037.5,434.8 1041.5,430.5 1045.5,428.0 1049.5,426.6 1053.5,427.0 1057.5,430.5 1061.5,430.4 1065.5,427.8 1069.5,427.1 1073.5,425.0 1077.5,427.5 1081.5,435.0 1085.5,439.6 1089.5,436.9 1093.5,431.4 1097.5,429.9 1101.5,433.4 1105.5,432.3 1109.5,430.6 1113.5,429.5 1117.5,427.6 1121.5,425.7 1125.5,423.5 1129.5,422.8 1133.5,415.8 1137.5,407.2 1141.5,401.9 1145.5,392.6 1149.5,386.6 1153.5,378.8 1157.5,373.1 1161.5,367.5 1165.5,359.7 1169.5,360.0 1173.5,361.1 1177.5,367.8 1181.5,370.5 1185.5,375.7 1189.5,374.0 1193.5,375.4 1197.5,375.3 1201.5,373.9 1205.5,374.2 1209.5,374.5 1213.5,374.8 1217.5,376.8 1221.5,379.3 1225.5,377.0 1229.5,374.4 1233.5,382.8 1237.5,392.7 1241.5,405.3 1245.5,416.6 1249.5,430.5 1253.5,435.5 1257.5,437.7 1261.5,439.6 1265.5,443.3 1269.5,448.1 1273.5,456.0 1277.5,460.0 1281.5,459.8 1285.5,462.0 1289.5,465.3 1293.5,464.4 1297.5,463.0 1301.5,461.3 1305.5,459.9 1309.5,457.9 1313.5,454.8 1317.5,454.4 1321.5,450.8 1325.5,449.9 1329.5,446.8 1333.5,447.2 1337.5,450.4 1341.5,454.3 1345.5,461.7 1349.5,464.2 1353.5,462.9 1357.5,459.8 1361.5,456.8 1365.5,454.1 1369.5,447.9 1373.5,440.2 1377.5,431.9 1381.5,424.6 1385.5,418.1 1389.5,415.9 1393.5,415.1 1397.5,409.7 1401.5,408.0 1405.5,406.9 1409.5,406.9 1413.5,406.4 1417.5,407.6 1421.5,404.0 1425.5,400.8 1429.5,398.1 1433.5,395.7 1437.5,389.5 1441.5,384.0 1445.5,380.8 1449.5,374.2 1453.5,368.1 1457.5,362.5 1461.5,363.3 1465.5,363.3 1469.5,363.2 1473.5,362.7 1477.5,359.6 1481.5,356.3 1485.5,352.6 1489.5,351.4 1493.5,354.3 1497.5,354.5 1501.5,354.6 1505.5,357.3 1509.5,364.9 1513.5,367.5 1517.5,368.2 1521.5,368.2 1525.5,367.6 1529.5,370.4 1533.5,370.5 1537.5,371.8 1541.5,371.9 1545.5,374.3 1549.5,378.8 1553.5,380.9 1557.5,384.1 1561.5,385.0 1565.5,389.9 1569.5,394.3 1573.5,394.7 1577.5,396.6 1581.5,398.3 1585.5,398.9 1589.5,401.9 1593.5,405.3 1597.5,408.7 1601.5,411.0 1605.5,414.6 1609.5,415.2 1613.5,415.9 1617.5,418.2 1621.5,420.0 1625.5,418.8 1629.5,412.5 1633.5,405.4 1637.5,396.8 1641.5,389.5 1645.5,383.3 1649.5,369.7 1653.5,357.8 1657.5,350.9 1661.5,339.7 1665.5,330.9 1669.5,325.2 1673.5,313.8 1677.5,301.1 1681.5,292.9 1685.5,284.3 1689.5,274.9 1693.5,270.8 1697.5,264.6 1701.5,260.4 1705.5,254.3 1709.5,249.0 1713.5,241.1 1717.5,232.2 1721.5,222.7 1725.5,213.2 1729.5,208.7 1733.5,205.6 1737.5,208.1 1741.5,205.1 1745.5,204.8 1749.5,205.4 1753.5,206.4 1757.5,206.0 1761.5,203.6 1765.5,201.5 1769.5,194.9 1773.5,191.2 1777.5,188.7 1781.5,187.0 1785.5,185.4 1789.5,182.8 1793.5,181.8 1797.5,179.1 1801.5,175.6 1805.5,173.1 1809.5,172.3 1813.5,172.0 1817.5,174.6 1821.5,173.6 1825.5,166.9 1829.5,163.1 1833.5,154.1 1837.5,146.0 1841.5,136.0 1845.5,131.0 1849.5,121.7 1853.5,112.3 1857.5,105.0 1861.5,96.7 1865.5,86.8" fill="none" stroke="#ac3ed6" stroke-width="1.7" stroke-linejoin="round" />
<text x="142.7" y="456.6" fill="#e8ecec" font-size="10.7" textLength="37.6" lengthAdjust="spacingAndGlyphs">156.848</text>
<text x="326.7" y="324.0" fill="#e8ecec" font-size="10.7" textLength="37.6" lengthAdjust="spacingAndGlyphs">157.005</text>
<text x="350.7" y="314.7" fill="#e8ecec" font-size="10.7" textLength="37.6" lengthAdjust="spacingAndGlyphs">157.016</text>
<text x="482.7" y="295.2" fill="#e8ecec" font-size="10.7" textLength="37.6" lengthAdjust="spacingAndGlyphs">157.039</text>
<text x="558.7" y="324.8" fill="#e8ecec" font-size="10.7" textLength="37.6" lengthAdjust="spacingAndGlyphs">157.004</text>
<text x="614.7" y="295.2" fill="#e8ecec" font-size="10.7" textLength="37.6" lengthAdjust="spacingAndGlyphs">157.039</text>
<text x="754.7" y="119.5" fill="#e8ecec" font-size="10.7" textLength="37.6" lengthAdjust="spacingAndGlyphs">157.247</text>
<text x="822.7" y="116.9" fill="#e8ecec" font-size="10.7" textLength="37.6" lengthAdjust="spacingAndGlyphs">157.250</text>
<text x="1022.7" y="403.4" fill="#e8ecec" font-size="10.7" textLength="37.6" lengthAdjust="spacingAndGlyphs">156.911</text>
<text x="1146.7" y="308.7" fill="#e8ecec" font-size="10.7" textLength="37.6" lengthAdjust="spacingAndGlyphs">157.023</text>
<text x="1210.7" y="340.0" fill="#e8ecec" font-size="10.7" textLength="37.6" lengthAdjust="spacingAndGlyphs">156.986</text>
<text x="1314.7" y="419.4" fill="#e8ecec" font-size="10.7" textLength="37.6" lengthAdjust="spacingAndGlyphs">156.892</text>
<text x="1362.7" y="382.3" fill="#e8ecec" font-size="10.7" textLength="37.6" lengthAdjust="spacingAndGlyphs">156.936</text>
<text x="1466.7" y="323.1" fill="#e8ecec" font-size="10.7" textLength="37.6" lengthAdjust="spacingAndGlyphs">157.006</text>
<text x="1786.7" y="144.8" fill="#e8ecec" font-size="10.7" textLength="37.6" lengthAdjust="spacingAndGlyphs">157.217</text>
<text x="1846.7" y="35.8" fill="#e8ecec" font-size="10.7" textLength="37.6" lengthAdjust="spacingAndGlyphs">157.346</text>
<text x="158.7" y="587.9" fill="#e8ecec" font-size="10.7" textLength="37.6" lengthAdjust="spacingAndGlyphs">156.708</text>
<text x="326.7" y="423.1" fill="#e8ecec" font-size="10.7" textLength="37.6" lengthAdjust="spacingAndGlyphs">156.903</text>
<text x="402.7" y="489.1" fill="#e8ecec" font-size="10.7" textLength="37.6" lengthAdjust="spacingAndGlyphs">156.825</text>
<text x="554.7" y="410.5" fill="#e8ecec" font-size="10.7" textLength="37.6" lengthAdjust="spacingAndGlyphs">156.918</text>
<text x="574.7" y="440.9" fill="#e8ecec" font-size="10.7" textLength="37.6" lengthAdjust="spacingAndGlyphs">156.882</text>
<text x="626.7" y="407.9" fill="#e8ecec" font-size="10.7" textLength="37.6" lengthAdjust="spacingAndGlyphs">156.921</text>
<text x="782.7" y="226.3" fill="#e8ecec" font-size="10.7" textLength="37.6" lengthAdjust="spacingAndGlyphs">157.136</text>
<text x="974.7" y="510.2" fill="#e8ecec" font-size="10.7" textLength="37.6" lengthAdjust="spacingAndGlyphs">156.800</text>
<text x="1062.7" y="487.4" fill="#e8ecec" font-size="10.7" textLength="37.6" lengthAdjust="spacingAndGlyphs">156.827</text>
<text x="1170.7" y="412.2" fill="#e8ecec" font-size="10.7" textLength="37.6" lengthAdjust="spacingAndGlyphs">156.916</text>
<text x="1230.7" y="512.7" fill="#e8ecec" font-size="10.7" textLength="37.6" lengthAdjust="spacingAndGlyphs">156.797</text>
<text x="1330.7" y="509.3" fill="#e8ecec" font-size="10.7" textLength="37.6" lengthAdjust="spacingAndGlyphs">156.801</text>
<text x="1398.7" y="432.4" fill="#e8ecec" font-size="10.7" textLength="37.6" lengthAdjust="spacingAndGlyphs">156.892</text>
<text x="1594.7" y="459.5" fill="#e8ecec" font-size="10.7" textLength="37.6" lengthAdjust="spacingAndGlyphs">156.860</text>
<text x="1798.7" y="204.3" fill="#e8ecec" font-size="10.7" textLength="37.6" lengthAdjust="spacingAndGlyphs">157.162</text>
<text x="857" y="622" fill="#ffffff" font-size="30.5" stroke="#2f4f4f" stroke-width="0.5" textLength="284" lengthAdjust="spacingAndGlyphs">3.2 Mon LD USDJPY</text>
</g>
<text x="2.6" y="11.7" fill="#e0e8e8" font-size="10" textLength="65.4" lengthAdjust="spacingAndGlyphs">USDJPY_MT,M1</text>
<text x="75.3" y="11.7" fill="#e0e8e8" font-size="10" textLength="31.7" lengthAdjust="spacingAndGlyphs">157.323</text>
<text x="111.4" y="11.7" fill="#e0e8e8" font-size="10" textLength="32" lengthAdjust="spacingAndGlyphs">157.346</text>
<text x="147.2" y="11.7" fill="#e0e8e8" font-size="10" textLength="31.8" lengthAdjust="spacingAndGlyphs">157.323</text>
<text x="183.4" y="11.7" fill="#e0e8e8" font-size="10" textLength="31.6" lengthAdjust="spacingAndGlyphs">157.342</text>
<line x1="1862.8" y1="297" x2="1862.8" y2="380" stroke="#e6e628" stroke-width="2"/>
<text x="1862" y="393" fill="#e6e628" font-size="12" text-anchor="middle">10</text>
<rect x="1836" y="664" width="28" height="9" fill="#4e4646"/>
<text x="1837" y="672.5" fill="#f0f0f0" font-size="10" font-style="italic">/V-pc</text>
<path d="M1677,1 L1689,1 L1683,7 Z" fill="#c8d0d0"/>
<g clip-path="url(#ci)">
<line x1="88.5" y1="680" x2="88.5" y2="894" stroke="#5a7a7a" stroke-width="1" stroke-dasharray="1,2"/>
<line x1="208.5" y1="680" x2="208.5" y2="894" stroke="#5a7a7a" stroke-width="1" stroke-dasharray="1,2"/>
<line x1="328.5" y1="680" x2="328.5" y2="894" stroke="#5a7a7a" stroke-width="1" stroke-dasharray="1,2"/>
<line x1="448.5" y1="680" x2="448.5" y2="894" stroke="#5a7a7a" stroke-width="1" stroke-dasharray="1,2"/>
<line x1="568.5" y1="680" x2="568.5" y2="894" stroke="#5a7a7a" stroke-width="1" stroke-dasharray="1,2"/>
<line x1="688.5" y1="680" x2="688.5" y2="894" stroke="#5a7a7a" stroke-width="1" stroke-dasharray="1,2"/>
<line x1="808.5" y1="680" x2="808.5" y2="894" stroke="#5a7a7a" stroke-width="1" stroke-dasharray="1,2"/>
<line x1="928.5" y1="680" x2="928.5" y2="894" stroke="#5a7a7a" stroke-width="1" stroke-dasharray="1,2"/>
<line x1="1048.5" y1="680" x2="1048.5" y2="894" stroke="#5a7a7a" stroke-width="1" stroke-dasharray="1,2"/>
<line x1="1168.5" y1="680" x2="1168.5" y2="894" stroke="#5a7a7a" stroke-width="1" stroke-dasharray="1,2"/>
<line x1="1288.5" y1="680" x2="1288.5" y2="894" stroke="#5a7a7a" stroke-width="1" stroke-dasharray="1,2"/>
<line x1="1408.5" y1="680" x2="1408.5" y2="894" stroke="#5a7a7a" stroke-width="1" stroke-dasharray="1,2"/>
<line x1="1528.5" y1="680" x2="1528.5" y2="894" stroke="#5a7a7a" stroke-width="1" stroke-dasharray="1,2"/>
<line x1="1648.5" y1="680" x2="1648.5" y2="894" stroke="#5a7a7a" stroke-width="1" stroke-dasharray="1,2"/>
<line x1="1768.5" y1="680" x2="1768.5" y2="894" stroke="#5a7a7a" stroke-width="1" stroke-dasharray="1,2"/>
<line x1="0" y1="715.5" x2="1870" y2="715.5" stroke="#90a6a6" stroke-width="1"/>
<line x1="0" y1="787" x2="1870" y2="787" stroke="#4a7090" stroke-width="1" stroke-dasharray="2,2"/>
<line x1="0" y1="858.5" x2="1870" y2="858.5" stroke="#90a6a6" stroke-width="1"/>
<polyline points="0.0,713.5 2.0,713.3 4.0,713.0 6.0,712.7 8.0,712.4 10.0,712.0 12.0,711.7 14.0,711.4 16.0,711.0 18.0,710.7 20.0,710.4 22.0,710.0 24.0,709.7 26.0,709.4 28.0,709.0 30.0,708.7 32.0,708.4 34.0,708.0 36.0,707.7 38.0,707.5 40.0,707.4 42.0,707.3 44.0,707.2 46.0,707.1 48.0,707.1 50.0,707.0 52.0,706.9 54.0,706.9 56.0,706.8 58.0,706.8 60.0,706.7 62.0,706.6 64.0,706.6 66.0,706.5 68.0,706.4 70.0,706.4 72.0,706.3 74.0,706.3 76.0,706.4 78.0,706.5 80.0,706.7 82.0,706.9 84.0,707.1 86.0,707.3 88.0,707.5 90.0,707.6 92.0,707.8 94.0,708.0 96.0,708.2 98.0,708.4 100.0,708.6 102.0,708.8 104.0,708.9 106.0,709.0 108.0,709.1 110.0,709.2 112.0,709.3 114.0,709.4 116.0,709.5 118.0,709.6 120.0,709.7 122.0,709.8 124.0,709.9 126.0,710.1 128.0,710.3 130.0,710.5 132.0,710.8 134.0,711.0 136.0,711.3 138.0,711.5 140.0,711.8 142.0,712.0 144.0,712.1 146.0,711.9 148.0,711.3 150.0,710.4 152.0,709.4 154.0,708.4 156.0,707.4 158.0,706.4 160.0,705.5 162.0,704.8 164.0,704.7 166.0,705.2 168.0,706.4 170.0,708.9 172.0,713.0 174.0,718.5 176.0,723.7 178.0,727.4 180.0,729.8 182.0,731.7 184.0,733.5 186.0,735.3 188.0,737.1 190.0,738.9 192.0,740.6 194.0,742.4 196.0,744.2 198.0,745.9 200.0,747.4 202.0,748.3 204.0,748.8 206.0,748.8 208.0,748.6 210.0,747.4 212.0,744.9 214.0,741.3 216.0,737.8 218.0,735.6 220.0,734.6 222.0,734.2 224.0,733.9 226.0,733.7 228.0,733.4 230.0,733.1 232.0,732.7 234.0,732.2 236.0,731.4 238.0,730.5 240.0,729.5 242.0,728.5 244.0,727.5 246.0,726.5 248.0,725.5 250.0,724.6 252.0,723.7 254.0,722.8 256.0,722.1 258.0,721.3 260.0,720.6 262.0,719.8 264.0,719.1 266.0,718.3 268.0,717.7 270.0,717.3 272.0,717.7 274.0,718.9 276.0,720.6 278.0,722.6 280.0,724.6 282.0,726.6 284.0,728.6 286.0,730.6 288.0,732.5 290.0,734.2 292.0,735.5 294.0,736.1 296.0,736.3 298.0,736.3 300.0,736.3 302.0,736.3 304.0,736.3 306.0,736.3 308.0,736.2 310.0,735.9 312.0,734.8 314.0,732.9 316.0,730.3 318.0,727.6 320.0,724.7 322.0,721.9 324.0,719.3 326.0,717.0 328.0,715.5 330.0,714.6 332.0,714.1 334.0,713.7 336.0,713.3 338.0,712.9 340.0,712.5 342.0,712.2 344.0,712.0 346.0,712.4 348.0,713.7 350.0,716.0 352.0,718.8 354.0,721.7 356.0,724.8 358.0,727.7 360.0,730.6 362.0,733.0 364.0,735.0 366.0,736.6 368.0,738.0 370.0,739.4 372.0,740.8 374.0,742.2 376.0,743.6 378.0,745.0 380.0,746.4 382.0,747.8 384.0,749.6 386.0,752.3 388.0,756.8 390.0,763.1 392.0,770.7 394.0,778.6 396.0,786.6 398.0,794.5 400.0,802.1 402.0,808.6 404.0,813.7 406.0,817.7 408.0,821.1 410.0,824.3 412.0,827.6 414.0,830.8 416.0,834.1 418.0,837.2 420.0,840.0 422.0,842.4 424.0,844.6 426.0,846.6 428.0,848.4 430.0,849.8 432.0,850.5 434.0,850.5 436.0,850.2 438.0,849.7 440.0,848.9 442.0,847.5 444.0,845.3 446.0,842.7 448.0,839.9 450.0,836.9 452.0,833.4 454.0,829.4 456.0,824.8 458.0,820.0 460.0,815.2 462.0,810.4 464.0,805.6 466.0,800.8 468.0,796.0 470.0,791.1 472.0,786.1 474.0,780.7 476.0,774.8 478.0,768.6 480.0,762.3 482.0,756.0 484.0,749.7 486.0,743.4 488.0,737.1 490.0,730.8 492.0,724.9 494.0,720.1 496.0,717.1 498.0,715.9 500.0,715.8 502.0,716.0 504.0,716.3 506.0,716.6 508.0,716.8 510.0,717.2 512.0,717.7 514.0,718.5 516.0,719.5 518.0,720.6 520.0,721.8 522.0,722.9 524.0,724.2 526.0,725.8 528.0,728.2 530.0,731.7 532.0,735.9 534.0,740.5 536.0,745.0 538.0,749.6 540.0,754.2 542.0,758.8 544.0,763.6 546.0,768.6 548.0,774.0 550.0,779.6 552.0,785.2 554.0,790.9 556.0,796.5 558.0,801.7 560.0,806.0 562.0,808.8 564.0,810.4 566.0,811.3 568.0,812.3 570.0,813.7 572.0,815.8 574.0,818.4 576.0,821.4 578.0,824.4 580.0,827.3 582.0,829.7 584.0,831.5 586.0,832.5 588.0,833.1 590.0,833.2 592.0,832.1 594.0,829.1 596.0,824.1 598.0,818.3 600.0,812.5 602.0,807.3 604.0,802.8 606.0,798.7 608.0,794.7 610.0,790.7 612.0,786.6 614.0,782.5 616.0,778.2 618.0,773.9 620.0,769.6 622.0,765.3 624.0,761.0 626.0,756.8 628.0,753.0 630.0,749.9 632.0,747.2 634.0,744.7 636.0,742.3 638.0,740.0 640.0,738.0 642.0,736.3 644.0,735.2 646.0,734.2 648.0,733.4 650.0,732.5 652.0,731.7 654.0,731.2 656.0,731.3 658.0,732.2 660.0,733.8 662.0,735.6 664.0,737.4 666.0,739.3 668.0,741.3 670.0,743.7 672.0,746.8 674.0,750.5 676.0,754.7 678.0,759.0 680.0,763.3 682.0,767.6 684.0,771.8 686.0,775.8 688.0,779.7 690.0,783.3 692.0,786.9 694.0,790.1 696.0,792.1 698.0,791.7 700.0,788.5 702.0,783.5 704.0,777.8 706.0,772.0 708.0,766.3 710.0,761.3 712.0,757.3 714.0,754.5 716.0,752.4 718.0,750.6 720.0,748.9 722.0,747.1 724.0,745.4 726.0,743.6 728.0,741.8 730.0,740.0 732.0,737.9 734.0,735.6 736.0,733.1 738.0,730.6 740.0,728.1 742.0,725.6 744.0,723.2 746.0,720.9 748.0,718.8 750.0,716.9 752.0,715.1 754.0,713.4 756.0,711.6 758.0,709.8 760.0,708.0 762.0,706.3 764.0,704.5 766.0,702.8 768.0,701.4 770.0,700.3 772.0,699.7 774.0,699.4 776.0,699.2 778.0,699.0 780.0,699.0 782.0,699.2 784.0,699.9 786.0,700.8 788.0,701.8 790.0,702.8 792.0,703.8 794.0,704.8 796.0,705.8 798.0,706.8 800.0,707.8 802.0,708.8 804.0,709.8 806.0,710.9 808.0,712.2 810.0,713.7 812.0,715.3 814.0,716.9 816.0,718.5 818.0,720.1 820.0,721.7 822.0,723.3 824.0,724.9 826.0,726.5 828.0,728.1 830.0,729.8 832.0,731.7 834.0,733.9 836.0,736.4 838.0,738.9 840.0,741.4 842.0,743.9 844.0,746.4 846.0,748.9 848.0,751.5 850.0,754.5 852.0,758.3 854.0,763.4 856.0,769.3 858.0,775.7 860.0,782.0 862.0,788.4 864.0,794.8 866.0,801.0 868.0,806.8 870.0,811.6 872.0,815.1 874.0,817.7 876.0,820.0 878.0,822.2 880.0,824.5 882.0,827.0 884.0,829.8 886.0,832.8 888.0,836.0 890.0,839.2 892.0,842.4 894.0,845.6 896.0,848.8 898.0,851.9 900.0,855.1 902.0,858.3 904.0,861.4 906.0,864.2 908.0,866.3 910.0,867.7 912.0,868.6 914.0,869.3 916.0,869.9 918.0,870.6 920.0,871.2 922.0,871.6 924.0,871.8 926.0,871.7 928.0,871.5 930.0,871.3 932.0,871.1 934.0,870.9 936.0,870.7 938.0,870.5 940.0,870.3 942.0,870.1 944.0,869.8 946.0,869.6 948.0,869.4 950.0,869.2 952.0,869.0 954.0,868.8 956.0,868.5 958.0,868.2 960.0,867.9 962.0,867.5 964.0,867.0 966.0,866.6 968.0,866.2 970.0,865.7 972.0,865.3 974.0,864.9 976.0,864.6 978.0,864.4 980.0,864.3 982.0,864.2 984.0,864.1 986.0,863.9 988.0,863.8 990.0,863.7 992.0,863.6 994.0,863.4 996.0,863.3 998.0,863.2 1000.0,863.1 1002.0,863.0 1004.0,862.8 1006.0,862.7 1008.0,862.6 1010.0,862.5 1012.0,862.3 1014.0,862.1 1016.0,861.5 1018.0,859.9 1020.0,857.2 1022.0,853.6 1024.0,849.6 1026.0,845.7 1028.0,841.6 1030.0,837.4 1032.0,832.7 1034.0,826.9 1036.0,820.3 1038.0,813.2 1040.0,805.9 1042.0,798.6 1044.0,791.3 1046.0,784.5 1048.0,778.8 1050.0,774.6 1052.0,771.5 1054.0,768.9 1056.0,766.3 1058.0,763.8 1060.0,761.2 1062.0,758.6 1064.0,755.9 1066.0,752.9 1068.0,749.6 1070.0,746.1 1072.0,742.5 1074.0,739.0 1076.0,736.1 1078.0,734.7 1080.0,735.4 1082.0,737.8 1084.0,740.5 1086.0,742.5 1088.0,743.5 1090.0,743.9 1092.0,744.0 1094.0,744.6 1096.0,746.2 1098.0,749.1 1100.0,753.0 1102.0,757.2 1104.0,761.5 1106.0,765.7 1108.0,770.0 1110.0,774.4 1112.0,778.9 1114.0,783.7 1116.0,788.9 1118.0,794.3 1120.0,799.3 1122.0,802.9 1124.0,803.5 1126.0,800.8 1128.0,796.0 1130.0,790.4 1132.0,784.6 1134.0,778.9 1136.0,773.2 1138.0,767.5 1140.0,761.8 1142.0,756.4 1144.0,751.5 1146.0,747.1 1148.0,743.3 1150.0,739.5 1152.0,735.8 1154.0,732.1 1156.0,728.4 1158.0,724.8 1160.0,721.6 1162.0,719.2 1164.0,717.5 1166.0,716.3 1168.0,715.3 1170.0,714.3 1172.0,713.3 1174.0,712.6 1176.0,712.4 1178.0,713.0 1180.0,714.3 1182.0,715.8 1184.0,717.4 1186.0,719.0 1188.0,720.6 1190.0,722.2 1192.0,723.8 1194.0,725.4 1196.0,727.0 1198.0,728.7 1200.0,730.7 1202.0,733.4 1204.0,736.7 1206.0,740.6 1208.0,744.5 1210.0,748.5 1212.0,752.5 1214.0,756.6 1216.0,760.6 1218.0,764.6 1220.0,768.6 1222.0,772.9 1224.0,777.6 1226.0,783.1 1228.0,789.1 1230.0,795.3 1232.0,801.6 1234.0,807.8 1236.0,814.1 1238.0,820.3 1240.0,826.5 1242.0,832.2 1244.0,836.8 1246.0,839.8 1248.0,841.5 1250.0,842.8 1252.0,843.9 1254.0,845.1 1256.0,846.2 1258.0,847.4 1260.0,848.4 1262.0,849.4 1264.0,850.1 1266.0,850.8 1268.0,851.4 1270.0,852.0 1272.0,852.6 1274.0,853.2 1276.0,853.8 1278.0,854.4 1280.0,854.9 1282.0,855.5 1284.0,856.0 1286.0,856.2 1288.0,856.0 1290.0,855.4 1292.0,854.5 1294.0,853.5 1296.0,852.5 1298.0,851.4 1300.0,849.9 1302.0,847.2 1304.0,843.0 1306.0,837.7 1308.0,832.0 1310.0,826.1 1312.0,820.3 1314.0,814.4 1316.0,808.6 1318.0,802.7 1320.0,796.9 1322.0,791.0 1324.0,785.2 1326.0,779.3 1328.0,773.5 1330.0,767.9 1332.0,762.9 1334.0,758.7 1336.0,755.4 1338.0,753.1 1340.0,753.0 1342.0,755.3 1344.0,759.3 1346.0,763.9 1348.0,768.6 1350.0,772.5 1352.0,774.6 1354.0,774.0 1356.0,771.3 1358.0,767.5 1360.0,763.5 1362.0,759.6 1364.0,755.7 1366.0,752.2 1368.0,749.6 1370.0,747.8 1372.0,746.6 1374.0,745.6 1376.0,744.6 1378.0,743.6 1380.0,742.6 1382.0,741.6 1384.0,740.6 1386.0,739.6 1388.0,738.6 1390.0,737.6 1392.0,736.6 1394.0,735.6 1396.0,734.6 1398.0,733.5 1400.0,732.3 1402.0,730.8 1404.0,729.2 1406.0,727.5 1408.0,725.8 1410.0,724.1 1412.0,722.4 1414.0,720.7 1416.0,719.0 1418.0,717.3 1420.0,715.6 1422.0,714.0 1424.0,712.6 1426.0,711.6 1428.0,711.1 1430.0,710.8 1432.0,710.6 1434.0,710.5 1436.0,710.3 1438.0,710.3 1440.0,710.4 1442.0,710.8 1444.0,711.4 1446.0,712.1 1448.0,712.9 1450.0,713.6 1452.0,714.3 1454.0,715.0 1456.0,715.7 1458.0,716.4 1460.0,717.1 1462.0,717.8 1464.0,718.6 1466.0,719.3 1468.0,719.9 1470.0,720.5 1472.0,720.7 1474.0,720.5 1476.0,720.0 1478.0,719.4 1480.0,718.8 1482.0,718.3 1484.0,718.1 1486.0,718.3 1488.0,718.8 1490.0,719.4 1492.0,720.0 1494.0,720.7 1496.0,721.6 1498.0,722.8 1500.0,725.0 1502.0,728.3 1504.0,732.2 1506.0,736.3 1508.0,740.5 1510.0,744.9 1512.0,749.5 1514.0,754.7 1516.0,760.1 1518.0,765.7 1520.0,771.3 1522.0,777.1 1524.0,783.5 1526.0,790.8 1528.0,798.8 1530.0,807.2 1532.0,815.3 1534.0,822.4 1536.0,828.0 1538.0,832.3 1540.0,835.8 1542.0,839.2 1544.0,842.5 1546.0,845.8 1548.0,848.8 1550.0,851.2 1552.0,852.9 1554.0,854.1 1556.0,855.1 1558.0,856.1 1560.0,857.1 1562.0,858.1 1564.0,859.1 1566.0,860.1 1568.0,860.9 1570.0,861.6 1572.0,861.9 1574.0,862.0 1576.0,862.0 1578.0,862.0 1580.0,862.0 1582.0,862.0 1584.0,862.0 1586.0,862.0 1588.0,862.0 1590.0,862.0 1592.0,862.0 1594.0,862.0 1596.0,862.0 1598.0,862.0 1600.0,862.0 1602.0,862.1 1604.0,862.2 1606.0,862.6 1608.0,863.2 1610.0,863.9 1612.0,864.6 1614.0,865.4 1616.0,866.2 1618.0,866.9 1620.0,867.6 1622.0,868.0 1624.0,867.2 1626.0,864.4 1628.0,859.7 1630.0,853.7 1632.0,847.2 1634.0,840.1 1636.0,832.3 1638.0,823.7 1640.0,814.6 1642.0,805.3 1644.0,795.9 1646.0,786.7 1648.0,777.8 1650.0,770.1 1652.0,764.0 1654.0,759.3 1656.0,755.1 1658.0,751.1 1660.0,747.1 1662.0,743.1 1664.0,739.1 1666.0,735.4 1668.0,732.0 1670.0,729.2 1672.0,726.8 1674.0,724.5 1676.0,722.3 1678.0,720.1 1680.0,717.9 1682.0,715.6 1684.0,713.4 1686.0,711.2 1688.0,709.1 1690.0,707.3 1692.0,705.9 1694.0,704.8 1696.0,703.9 1698.0,703.1 1700.0,702.2 1702.0,701.4 1704.0,700.7 1706.0,700.2 1708.0,699.9 1710.0,699.7 1712.0,699.6 1714.0,699.5 1716.0,699.4 1718.0,699.3 1720.0,699.2 1722.0,699.1 1724.0,698.9 1726.0,698.8 1728.0,698.8 1730.0,698.8 1732.0,699.0 1734.0,699.3 1736.0,699.7 1738.0,700.1 1740.0,700.5 1742.0,700.9 1744.0,701.3 1746.0,701.7 1748.0,702.1 1750.0,702.5 1752.0,702.9 1754.0,703.5 1756.0,704.3 1758.0,705.4 1760.0,706.8 1762.0,708.3 1764.0,709.7 1766.0,711.2 1768.0,712.7 1770.0,714.2 1772.0,715.7 1774.0,717.1 1776.0,718.3 1778.0,719.2 1780.0,719.9 1782.0,720.5 1784.0,721.1 1786.0,721.7 1788.0,722.3 1790.0,722.9 1792.0,723.5 1794.0,724.2 1796.0,724.8 1798.0,725.4 1800.0,726.2 1802.0,727.2 1804.0,728.4 1806.0,729.8 1808.0,731.2 1810.0,732.7 1812.0,734.1 1814.0,735.5 1816.0,736.6 1818.0,737.0 1820.0,736.2 1822.0,734.3 1824.0,731.6 1826.0,728.4 1828.0,724.7 1830.0,720.7 1832.0,717.0 1834.0,713.6 1836.0,710.5 1838.0,707.6 1840.0,705.1 1842.0,703.3 1844.0,702.4 1846.0,702.0 1848.0,701.7 1850.0,701.5 1852.0,701.3 1854.0,701.1 1856.0,700.9 1858.0,700.7 1860.0,700.5 1862.0,700.3 1864.0,700.1" fill="none" stroke="#6a4656" stroke-width="1.2" stroke-linejoin="round"/>
<polyline points="0.0,713.7 20.0,715.0 25.0,711.2 32.7,706.2 36.5,706.2 41.5,717.5 52.8,717.5 56.6,706.2 61.6,713.7 67.9,738.9 75.4,781.6 80.5,854.5 88.0,781.6 93.0,733.8 100.6,716.2 105.6,710.0 113.0,710.0 118.2,726.3 124.5,764.0 128.2,738.9 133.3,746.4 137.0,751.4 140.8,761.5 144.6,756.5 149.6,707.4 153.4,717.5 163.4,717.5 167.2,743.9 177.3,828.0 181.0,828.0 184.8,818.0 188.6,829.4 201.2,731.3 206.2,727.5 212.5,727.5 218.8,706.2 223.8,701.1 228.8,711.2 245.2,854.5 251.4,826.9 259.0,743.9 267.8,706.2 271.6,726.3 281.6,759.0 285.4,806.8 289.2,804.2 293.0,823.0 299.2,751.4 306.8,708.7 314.3,716.2 321.9,718.7 329.4,749.0 337.0,756.5 340.7,745.1 352.0,839.4 360.8,854.5 367.1,806.8 379.7,722.5 389.7,749.0 401.0,864.6 409.9,860.8 414.9,859.5 418.6,845.7 425.4,830.0 432.8,750.7 437.0,744.0 441.4,744.0 449.0,725.0 453.2,701.4 464.0,701.4 473.5,716.4 480.0,761.4 488.5,804.2 496.0,742.0 501.4,736.7 505.7,782.8 509.0,774.2 517.4,812.8 521.7,776.4 525.0,782.8 529.2,780.6 532.4,759.2 541.0,850.2 546.3,851.3 549.6,857.7 552.8,854.5 560.5,839.4 568.0,839.4 575.5,776.6 581.8,754.0 585.6,751.4 589.4,771.5 597.0,781.6 600.7,766.5 608.2,741.4 612.0,738.9 620.8,742.6 629.6,801.7 637.2,754.0 641.0,776.6 646.0,750.2 651.0,749.0 657.3,756.5 664.8,821.8 672.4,799.2 681.2,859.5 686.2,847.0 698.8,741.4 705.0,706.2 721.4,699.9 731.4,703.7 739.0,715.0 752.8,712.5 756.6,707.4 760.4,708.7 769.2,702.4 776.7,708.7 780.5,761.5 791.8,791.7 800.6,842.0 805.6,842.0 813.2,769.0 822.0,752.7 824.5,764.0 829.5,741.4 837.0,749.0 844.6,801.7 852.0,803.0 864.7,869.6 882.3,874.6 892.4,869.6 907.5,869.6 922.5,852.0 932.6,746.4 937.6,722.5 950.2,847.0 960.0,857.0 976.3,771.5 981.4,774.0 988.9,857.0 997.7,874.6 1005.3,862.0 1020.3,728.8 1025.4,704.9 1029.1,704.9 1034.2,713.7 1041.7,715.0 1046.7,726.3 1056.8,829.4 1060.6,826.9 1065.6,810.5 1069.4,821.8 1076.9,776.6 1085.7,820.6 1093.3,786.6 1099.6,799.2 1104.6,798.0 1109.6,752.7 1117.2,774.0 1120.9,823.1 1133.5,713.7 1141.0,707.4 1151.1,702.4 1166.2,702.4 1168.7,721.3 1176.2,814.3 1185.0,862.0 1195.1,831.9 1208.9,730.0 1214.0,746.4 1221.5,837.0 1229.0,772.8 1234.1,801.7 1249.2,863.3 1254.2,862.0 1273.0,787.9 1278.0,799.2 1281.9,791.7 1289.4,844.5 1298.2,748.9 1305.7,713.7 1310.8,716.2 1314.5,713.7 1322.1,720.0 1329.6,723.8 1337.2,794.2 1349.7,862.0 1354.8,849.5 1367.3,721.3 1374.9,701.1 1385.0,699.9 1393.8,728.8 1397.5,730.0 1410.0,819.3 1417.6,844.5 1427.7,776.6 1434.0,718.7 1441.6,702.4 1456.7,702.4 1461.7,718.7 1469.2,819.3 1473.0,820.6 1476.8,806.8 1480.5,806.8 1489.3,751.4 1499.4,771.5 1512.0,857.0 1517.0,862.0 1524.6,801.7 1529.6,816.8 1540.9,759.0 1549.7,852.0 1554.7,863.3 1562.3,853.3 1568.6,862.0 1574.8,839.4 1587.4,813.0 1596.2,824.4 1605.0,869.6 1612.6,859.5 1622.6,859.5 1627.6,781.6 1637.7,721.3 1650.3,698.6 1656.6,698.6 1667.9,706.2 1680.4,707.4 1690.5,704.9 1700.6,718.7 1708.1,718.7 1715.7,711.2 1725.7,699.9 1730.7,703.7 1743.3,771.5 1752.1,859.5 1760.9,847.0 1771.0,726.3 1774.7,727.5 1781.0,707.4 1793.6,746.4 1798.6,772.8 1801.1,772.8 1807.4,722.5 1812.5,731.3 1821.3,791.7 1828.8,766.5 1838.9,706.2 1851.4,701.1 1865.3,699.9" fill="none" stroke="#d4dada" stroke-width="1.1" stroke-linejoin="round" />
<polyline points="0.0,703.7 2.0,703.6 4.0,703.5 6.0,703.4 8.0,703.3 10.0,703.2 12.0,703.1 14.0,703.0 16.0,702.9 18.0,702.8 20.0,702.7 22.0,702.6 24.0,702.5 26.0,702.4 28.0,702.3 30.0,702.1 32.0,702.0 34.0,701.9 36.0,701.8 38.0,701.7 40.0,701.6 42.0,701.5 44.0,701.4 46.0,701.3 48.0,701.2 50.0,701.1 52.0,701.0 54.0,700.9 56.0,700.7 58.0,700.6 60.0,700.5 62.0,700.3 64.0,700.2 66.0,700.1 68.0,699.9 70.0,699.8 72.0,699.7 74.0,699.5 76.0,699.4 78.0,699.3 80.0,699.1 82.0,699.0 84.0,698.9 86.0,698.7 88.0,698.7 90.0,698.6 92.0,698.6 94.0,698.6 96.0,698.6 98.0,698.6 100.0,698.6 102.0,698.6 104.0,698.6 106.0,698.6 108.0,698.6 110.0,698.6 112.0,698.6 114.0,698.6 116.0,698.6 118.0,698.6 120.0,698.6 122.0,698.6 124.0,698.6 126.0,698.6 128.0,698.6 130.0,698.6 132.0,698.6 134.0,698.6 136.0,698.6 138.0,698.6 140.0,698.6 142.0,698.6 144.0,698.6 146.0,698.6 148.0,698.6 150.0,698.6 152.0,698.6 154.0,698.6 156.0,698.6 158.0,698.6 160.0,698.6 162.0,698.6 164.0,698.6 166.0,698.6 168.0,698.6 170.0,698.6 172.0,698.6 174.0,698.6 176.0,698.6 178.0,698.6 180.0,698.6 182.0,698.6 184.0,698.6 186.0,698.6 188.0,698.6 190.0,698.6 192.0,698.6 194.0,698.6 196.0,698.6 198.0,698.6 200.0,698.6 202.0,698.6 204.0,698.6 206.0,698.6 208.0,698.6 210.0,698.6 212.0,698.6 214.0,698.6 216.0,698.6 218.0,698.6 220.0,698.6 222.0,698.6 224.0,698.6 226.0,698.6 228.0,698.6 230.0,698.6 232.0,698.6 234.0,698.6 236.0,698.6 238.0,698.6 240.0,698.6 242.0,698.6 244.0,698.6 246.0,698.6 248.0,698.6 250.0,698.6 252.0,698.6 254.0,698.6 256.0,698.6 258.0,698.6 260.0,698.6 262.0,698.6 264.0,698.6 266.0,698.6 268.0,698.6 270.0,698.6 272.0,698.6 274.0,698.6 276.0,698.6 278.0,698.6 280.0,698.6 282.0,698.6 284.0,698.6 286.0,698.6 288.0,698.6 290.0,698.6 292.0,698.6 294.0,698.6 296.0,698.6 298.0,698.6 300.0,698.6 302.0,698.6 304.0,698.6 306.0,698.6 308.0,698.6 310.0,698.6 312.0,698.6 314.0,698.6 316.0,698.6 318.0,698.6 320.0,698.6 322.0,698.6 324.0,698.6 326.0,698.6 328.0,698.6 330.0,698.6 332.0,698.6 334.0,698.6 336.0,698.6 338.0,698.6 340.0,698.6 342.0,698.6 344.0,698.6 346.0,698.6 348.0,698.6 350.0,698.6 352.0,698.6 354.0,698.6 356.0,698.6 358.0,698.6 360.0,698.6 362.0,698.6 364.0,698.6 366.0,698.6 368.0,698.6 370.0,698.6 372.0,698.6 374.0,698.6 376.0,698.6 378.0,698.6 380.0,698.6 382.0,698.6 384.0,698.6 386.0,698.6 388.0,698.7 390.0,698.8 392.0,699.1 394.0,699.5 396.0,699.9 398.0,700.3 400.0,700.7 402.0,701.1 404.0,701.5 406.0,701.9 408.0,702.3 410.0,702.7 412.0,703.1 414.0,703.4 416.0,703.7 418.0,703.9 420.0,704.1 422.0,704.3 424.0,704.5 426.0,704.6 428.0,704.8 430.0,705.0 432.0,705.1 434.0,705.3 436.0,705.5 438.0,705.6 440.0,705.8 442.0,706.0 444.0,706.1 446.0,706.3 448.0,706.5 450.0,706.6 452.0,706.8 454.0,706.9 456.0,707.1 458.0,707.2 460.0,707.3 462.0,707.5 464.0,707.6 466.0,707.8 468.0,707.9 470.0,708.0 472.0,708.2 474.0,708.3 476.0,708.4 478.0,708.6 480.0,708.7 482.0,708.8 484.0,709.0 486.0,709.1 488.0,709.2 490.0,709.3 492.0,709.4 494.0,709.5 496.0,709.6 498.0,709.7 500.0,709.8 502.0,709.8 504.0,709.9 506.0,710.0 508.0,710.1 510.0,710.2 512.0,710.3 514.0,710.4 516.0,710.5 518.0,710.6 520.0,710.7 522.0,710.8 524.0,710.9 526.0,711.0 528.0,711.1 530.0,711.3 532.0,711.6 534.0,712.0 536.0,712.3 538.0,712.7 540.0,713.1 542.0,713.5 544.0,714.0 546.0,714.4 548.0,714.8 550.0,715.2 552.0,715.6 554.0,716.0 556.0,716.4 558.0,716.8 560.0,717.2 562.0,717.6 564.0,718.0 566.0,718.4 568.0,718.8 570.0,719.2 572.0,719.6 574.0,720.0 576.0,720.4 578.0,720.8 580.0,721.1 582.0,721.3 584.0,721.5 586.0,721.7 588.0,721.8 590.0,722.0 592.0,722.1 594.0,722.3 596.0,722.4 598.0,722.6 600.0,722.7 602.0,722.9 604.0,723.0 606.0,723.2 608.0,723.3 610.0,723.5 612.0,723.6 614.0,723.8 616.0,723.9 618.0,724.1 620.0,724.2 622.0,724.3 624.0,724.5 626.0,724.6 628.0,724.8 630.0,724.9 632.0,725.1 634.0,725.2 636.0,725.3 638.0,725.5 640.0,725.6 642.0,725.7 644.0,725.9 646.0,726.0 648.0,726.1 650.0,726.3 652.0,726.4 654.0,726.5 656.0,726.7 658.0,726.8 660.0,726.9 662.0,727.1 664.0,727.2 666.0,727.4 668.0,727.6 670.0,727.8 672.0,728.2 674.0,728.6 676.0,729.0 678.0,729.4 680.0,729.8 682.0,730.2 684.0,730.6 686.0,731.0 688.0,731.4 690.0,731.8 692.0,732.2 694.0,732.4 696.0,732.6 698.0,732.6 700.0,732.6 702.0,732.6 704.0,732.6 706.0,732.6 708.0,732.6 710.0,732.6 712.0,732.6 714.0,732.6 716.0,732.6 718.0,732.6 720.0,732.6 722.0,732.6 724.0,732.6 726.0,732.6 728.0,732.6 730.0,732.6 732.0,732.5 734.0,732.5 736.0,732.4 738.0,732.3 740.0,732.2 742.0,732.1 744.0,731.9 746.0,731.8 748.0,731.7 750.0,731.6 752.0,731.5 754.0,731.4 756.0,731.3 758.0,731.2 760.0,731.1 762.0,731.0 764.0,730.9 766.0,730.8 768.0,730.7 770.0,730.6 772.0,730.5 774.0,730.4 776.0,730.3 778.0,730.2 780.0,730.1 782.0,730.0 784.0,729.8 786.0,729.7 788.0,729.6 790.0,729.4 792.0,729.3 794.0,729.1 796.0,729.0 798.0,728.8 800.0,728.7 802.0,728.6 804.0,728.4 806.0,728.3 808.0,728.1 810.0,728.0 812.0,727.9 814.0,727.7 816.0,727.4 818.0,727.1 820.0,726.6 822.0,726.1 824.0,725.5 826.0,725.0 828.0,724.4 830.0,723.8 832.0,723.3 834.0,722.7 836.0,722.2 838.0,721.6 840.0,721.0 842.0,720.5 844.0,719.9 846.0,719.3 848.0,718.8 850.0,718.2 852.0,717.7 854.0,717.1 856.0,716.7 858.0,716.3 860.0,716.1 862.0,716.0 864.0,715.9 866.0,715.8 868.0,715.7 870.0,715.6 872.0,715.5 874.0,715.4 876.0,715.3 878.0,715.2 880.0,715.1 882.0,715.0 884.0,714.9 886.0,714.8 888.0,714.6 890.0,714.5 892.0,714.4 894.0,714.2 896.0,714.1 898.0,714.0 900.0,713.9 902.0,714.1 904.0,714.5 906.0,715.1 908.0,715.8 910.0,716.6 912.0,717.3 914.0,718.1 916.0,718.8 918.0,719.6 920.0,720.4 922.0,721.1 924.0,721.9 926.0,722.7 928.0,723.6 930.0,724.4 932.0,725.2 934.0,726.1 936.0,727.1 938.0,728.3 940.0,729.9 942.0,731.7 944.0,733.6 946.0,735.5 948.0,737.4 950.0,739.3 952.0,741.3 954.0,743.2 956.0,745.1 958.0,747.0 960.0,748.9 962.0,750.7 964.0,752.6 966.0,754.4 968.0,756.2 970.0,758.0 972.0,759.9 974.0,761.7 976.0,763.4 978.0,765.1 980.0,766.8 982.0,768.5 984.0,770.1 986.0,771.8 988.0,773.5 990.0,775.2 992.0,776.8 994.0,778.5 996.0,780.1 998.0,781.6 1000.0,782.9 1002.0,784.2 1004.0,785.4 1006.0,786.6 1008.0,787.8 1010.0,789.0 1012.0,790.2 1014.0,791.4 1016.0,792.6 1018.0,793.8 1020.0,795.0 1022.0,796.2 1024.0,797.4 1026.0,798.6 1028.0,799.8 1030.0,801.0 1032.0,802.1 1034.0,803.3 1036.0,804.4 1038.0,805.4 1040.0,806.3 1042.0,807.3 1044.0,808.2 1046.0,809.1 1048.0,810.1 1050.0,811.0 1052.0,811.9 1054.0,812.9 1056.0,813.8 1058.0,814.7 1060.0,815.7 1062.0,816.6 1064.0,817.5 1066.0,818.4 1068.0,819.4 1070.0,820.3 1072.0,821.2 1074.0,822.1 1076.0,823.0 1078.0,823.9 1080.0,824.8 1082.0,825.6 1084.0,826.5 1086.0,827.4 1088.0,828.2 1090.0,829.1 1092.0,830.0 1094.0,830.8 1096.0,831.7 1098.0,832.6 1100.0,833.5 1102.0,834.3 1104.0,835.2 1106.0,836.1 1108.0,836.9 1110.0,837.7 1112.0,838.3 1114.0,838.9 1116.0,839.4 1118.0,839.9 1120.0,840.3 1122.0,840.8 1124.0,841.3 1126.0,841.7 1128.0,842.2 1130.0,842.7 1132.0,843.1 1134.0,843.6 1136.0,844.1 1138.0,844.5 1140.0,845.0 1142.0,845.5 1144.0,845.9 1146.0,846.3 1148.0,846.7 1150.0,846.8 1152.0,846.8 1154.0,846.7 1156.0,846.6 1158.0,846.5 1160.0,846.4 1162.0,846.3 1164.0,846.2 1166.0,846.1 1168.0,846.0 1170.0,845.9 1172.0,845.8 1174.0,845.8 1176.0,845.8 1178.0,845.8 1180.0,845.9 1182.0,845.9 1184.0,846.0 1186.0,846.1 1188.0,846.1 1190.0,846.2 1192.0,846.2 1194.0,846.3 1196.0,846.3 1198.0,846.4 1200.0,846.5 1202.0,846.5 1204.0,846.6 1206.0,846.6 1208.0,846.7 1210.0,846.7 1212.0,846.8 1214.0,846.9 1216.0,846.9 1218.0,846.8 1220.0,846.7 1222.0,846.4 1224.0,846.0 1226.0,845.6 1228.0,845.2 1230.0,844.9 1232.0,844.6 1234.0,844.5 1236.0,844.4 1238.0,844.3 1240.0,844.3 1242.0,844.3 1244.0,844.2 1246.0,844.2 1248.0,844.1 1250.0,844.1 1252.0,844.0 1254.0,844.0 1256.0,843.9 1258.0,843.9 1260.0,843.8 1262.0,843.8 1264.0,843.7 1266.0,843.7 1268.0,843.6 1270.0,843.6 1272.0,843.6 1274.0,843.5 1276.0,843.5 1278.0,843.4 1280.0,843.4 1282.0,843.3 1284.0,843.2 1286.0,843.1 1288.0,843.0 1290.0,842.7 1292.0,842.4 1294.0,842.1 1296.0,841.8 1298.0,841.5 1300.0,841.2 1302.0,840.9 1304.0,840.6 1306.0,840.3 1308.0,840.0 1310.0,839.7 1312.0,839.4 1314.0,839.1 1316.0,838.8 1318.0,838.5 1320.0,838.3 1322.0,838.1 1324.0,838.0 1326.0,837.9 1328.0,837.8 1330.0,837.6 1332.0,837.5 1334.0,837.4 1336.0,837.3 1338.0,837.2 1340.0,837.1 1342.0,837.0 1344.0,836.8 1346.0,836.7 1348.0,836.5 1350.0,836.3 1352.0,836.1 1354.0,835.9 1356.0,835.5 1358.0,834.9 1360.0,833.9 1362.0,832.7 1364.0,831.5 1366.0,830.3 1368.0,829.0 1370.0,827.8 1372.0,826.5 1374.0,825.2 1376.0,824.0 1378.0,822.7 1380.0,821.5 1382.0,820.2 1384.0,819.0 1386.0,817.7 1388.0,816.5 1390.0,815.3 1392.0,814.1 1394.0,812.9 1396.0,811.7 1398.0,810.5 1400.0,809.3 1402.0,808.1 1404.0,806.9 1406.0,805.7 1408.0,804.5 1410.0,803.3 1412.0,802.1 1414.0,800.9 1416.0,799.7 1418.0,798.5 1420.0,797.3 1422.0,796.1 1424.0,794.8 1426.0,793.4 1428.0,791.9 1430.0,790.3 1432.0,788.7 1434.0,787.1 1436.0,785.5 1438.0,783.9 1440.0,782.2 1442.0,780.6 1444.0,779.0 1446.0,777.5 1448.0,775.9 1450.0,774.4 1452.0,772.8 1454.0,771.3 1456.0,769.7 1458.0,768.2 1460.0,766.8 1462.0,765.7 1464.0,764.9 1466.0,764.4 1468.0,764.0 1470.0,763.6 1472.0,763.2 1474.0,762.7 1476.0,762.3 1478.0,761.8 1480.0,761.3 1482.0,760.8 1484.0,760.3 1486.0,759.8 1488.0,759.3 1490.0,758.8 1492.0,758.3 1494.0,757.8 1496.0,757.3 1498.0,756.8 1500.0,756.3 1502.0,755.9 1504.0,755.5 1506.0,755.4 1508.0,755.4 1510.0,755.5 1512.0,755.6 1514.0,755.7 1516.0,755.8 1518.0,755.9 1520.0,756.0 1522.0,756.1 1524.0,756.2 1526.0,756.3 1528.0,756.4 1530.0,756.5 1532.0,756.5 1534.0,756.5 1536.0,756.5 1538.0,756.5 1540.0,756.5 1542.0,756.5 1544.0,756.5 1546.0,756.5 1548.0,756.5 1550.0,756.5 1552.0,756.5 1554.0,756.6 1556.0,756.8 1558.0,757.1 1560.0,757.4 1562.0,757.7 1564.0,758.0 1566.0,758.4 1568.0,758.7 1570.0,759.0 1572.0,759.4 1574.0,759.7 1576.0,760.0 1578.0,760.4 1580.0,760.7 1582.0,761.1 1584.0,761.5 1586.0,762.1 1588.0,762.8 1590.0,763.5 1592.0,764.3 1594.0,765.1 1596.0,765.9 1598.0,766.7 1600.0,767.5 1602.0,768.3 1604.0,769.1 1606.0,769.9 1608.0,770.7 1610.0,771.4 1612.0,772.1 1614.0,772.7 1616.0,773.4 1618.0,774.0 1620.0,774.6 1622.0,775.2 1624.0,775.9 1626.0,776.5 1628.0,777.0 1630.0,777.4 1632.0,777.6 1634.0,777.5 1636.0,777.4 1638.0,777.3 1640.0,777.1 1642.0,777.0 1644.0,776.8 1646.0,776.5 1648.0,775.9 1650.0,774.8 1652.0,773.4 1654.0,771.9 1656.0,770.4 1658.0,768.9 1660.0,767.4 1662.0,765.9 1664.0,764.4 1666.0,762.9 1668.0,761.5 1670.0,760.0 1672.0,758.6 1674.0,757.2 1676.0,755.8 1678.0,754.4 1680.0,753.0 1682.0,751.6 1684.0,750.2 1686.0,748.8 1688.0,747.4 1690.0,746.0 1692.0,744.7 1694.0,743.4 1696.0,742.1 1698.0,740.9 1700.0,739.7 1702.0,738.5 1704.0,737.3 1706.0,736.1 1708.0,734.9 1710.0,733.7 1712.0,732.5 1714.0,731.3 1716.0,730.2 1718.0,729.0 1720.0,728.0 1722.0,727.1 1724.0,726.1 1726.0,725.2 1728.0,724.3 1730.0,723.4 1732.0,722.5 1734.0,721.6 1736.0,720.6 1738.0,719.7 1740.0,718.8 1742.0,717.9 1744.0,717.0 1746.0,716.2 1748.0,715.5 1750.0,715.2 1752.0,715.0 1754.0,715.0 1756.0,715.0 1758.0,715.0 1760.0,715.0 1762.0,715.0 1764.0,715.0 1766.0,715.0 1768.0,715.0 1770.0,715.0 1772.0,715.0 1774.0,715.0 1776.0,715.0 1778.0,715.0 1780.0,715.0 1782.0,715.0 1784.0,715.0 1786.0,715.0 1788.0,715.0 1790.0,715.0 1792.0,715.0 1794.0,715.0 1796.0,715.0 1798.0,715.0 1800.0,715.0 1802.0,715.0 1804.0,715.0 1806.0,715.0 1808.0,715.0 1810.0,715.0 1812.0,715.0 1814.0,715.0 1816.0,715.0 1818.0,715.0 1820.0,715.0 1822.0,715.0 1824.0,715.0 1826.0,715.0 1828.0,715.0 1830.0,715.0 1832.0,715.0 1834.0,715.0 1836.0,715.0 1838.0,715.0 1840.0,715.0 1842.0,715.0 1844.0,715.0 1846.0,715.0 1848.0,715.0 1850.0,715.0 1852.0,715.0 1854.0,715.0 1856.0,715.0 1858.0,715.0 1860.0,715.0 1862.0,715.0 1864.0,715.0" fill="none" stroke="#e6e628" stroke-width="1.5" stroke-linejoin="round"/>
<polyline points="0.0,701.1 2.0,701.1 4.0,701.1 6.0,701.1 8.0,701.1 10.0,701.1 12.0,701.1 14.0,701.1 16.0,701.1 18.0,701.1 20.0,701.1 22.0,701.1 24.0,701.1 26.0,701.1 28.0,701.1 30.0,701.1 32.0,701.1 34.0,701.1 36.0,701.1 38.0,701.1 40.0,701.1 42.0,701.1 44.0,701.1 46.0,701.1 48.0,701.1 50.0,701.1 52.0,701.1 54.0,701.1 56.0,701.1 58.0,701.1 60.0,701.1 62.0,701.1 64.0,701.1 66.0,701.1 68.0,701.1 70.0,701.1 72.0,701.1 74.0,701.1 76.0,701.1 78.0,701.1 80.0,701.1 82.0,701.1 84.0,701.1 86.0,701.1 88.0,701.1 90.0,701.1 92.0,701.1 94.0,701.1 96.0,701.1 98.0,701.1 100.0,701.1 102.0,701.1 104.0,701.1 106.0,701.1 108.0,701.1 110.0,701.1 112.0,701.1 114.0,701.1 116.0,701.1 118.0,701.1 120.0,701.1 122.0,701.1 124.0,701.1 126.0,701.1 128.0,701.1 130.0,701.1 132.0,701.1 134.0,701.1 136.0,701.1 138.0,701.1 140.0,701.1 142.0,701.1 144.0,701.1 146.0,701.1 148.0,701.1 150.0,701.1 152.0,701.1 154.0,701.1 156.0,701.1 158.0,701.1 160.0,701.1 162.0,701.3 164.0,701.6 166.0,702.2 168.0,702.9 170.0,703.6 172.0,704.4 174.0,705.1 176.0,705.7 178.0,706.2 180.0,706.8 182.0,707.3 184.0,707.9 186.0,708.4 188.0,709.0 190.0,709.5 192.0,710.1 194.0,710.6 196.0,710.9 198.0,711.1 200.0,711.2 202.0,711.2 204.0,711.2 206.0,711.2 208.0,711.2 210.0,711.2 212.0,711.2 214.0,711.2 216.0,711.2 218.0,711.2 220.0,711.2 222.0,711.2 224.0,711.2 226.0,711.2 228.0,711.2 230.0,711.2 232.0,711.2 234.0,711.2 236.0,711.2 238.0,711.2 240.0,711.3 242.0,711.4 244.0,711.5 246.0,711.6 248.0,711.7 250.0,711.8 252.0,711.9 254.0,712.0 256.0,712.1 258.0,712.2 260.0,712.3 262.0,712.4 264.0,712.5 266.0,712.6 268.0,712.7 270.0,712.8 272.0,712.9 274.0,713.0 276.0,713.1 278.0,713.2 280.0,713.4 282.0,713.5 284.0,713.5 286.0,713.6 288.0,713.5 290.0,713.4 292.0,713.2 294.0,713.0 296.0,712.9 298.0,712.7 300.0,712.5 302.0,712.3 304.0,712.1 306.0,711.9 308.0,711.8 310.0,711.6 312.0,711.4 314.0,711.2 316.0,710.9 318.0,710.5 320.0,710.2 322.0,709.8 324.0,709.4 326.0,709.1 328.0,708.7 330.0,708.4 332.0,708.0 334.0,707.6 336.0,707.3 338.0,706.9 340.0,706.7 342.0,706.6 344.0,706.7 346.0,707.1 348.0,707.5 350.0,708.0 352.0,708.4 354.0,708.9 356.0,709.3 358.0,709.7 360.0,710.2 362.0,710.6 364.0,711.0 366.0,711.4 368.0,711.8 370.0,712.1 372.0,712.4 374.0,712.8 376.0,713.1 378.0,713.5 380.0,713.8 382.0,714.1 384.0,714.5 386.0,715.0 388.0,715.6 390.0,716.4 392.0,717.4 394.0,718.5 396.0,720.1 398.0,722.3 400.0,725.5 402.0,729.1 404.0,732.9 406.0,736.8 408.0,740.7 410.0,744.6 412.0,748.7 414.0,753.5 416.0,759.4 418.0,766.2 420.0,772.8 422.0,778.6 424.0,783.8 426.0,788.6 428.0,793.4 430.0,797.8 432.0,801.8 434.0,805.4 436.0,808.7 438.0,812.0 440.0,815.2 442.0,818.1 444.0,820.3 446.0,821.6 448.0,822.4 450.0,822.9 452.0,823.4 454.0,823.6 456.0,823.3 458.0,822.2 460.0,820.4 462.0,818.5 464.0,817.1 466.0,816.6 468.0,817.0 470.0,817.9 472.0,819.0 474.0,820.1 476.0,820.9 478.0,821.0 480.0,820.2 482.0,818.6 484.0,816.3 486.0,813.4 488.0,810.0 490.0,806.3 492.0,802.7 494.0,799.2 496.0,796.0 498.0,793.5 500.0,791.5 502.0,790.0 504.0,788.5 506.0,787.1 508.0,785.4 510.0,783.4 512.0,780.8 514.0,777.7 516.0,774.5 518.0,771.1 520.0,767.8 522.0,764.7 524.0,762.0 526.0,760.3 528.0,759.5 530.0,759.4 532.0,759.5 534.0,759.7 536.0,759.8 538.0,759.8 540.0,759.4 542.0,758.3 544.0,756.8 546.0,755.0 548.0,753.2 550.0,751.3 552.0,749.5 554.0,747.7 556.0,746.0 558.0,744.2 560.0,742.6 562.0,740.9 564.0,739.2 566.0,737.6 568.0,736.2 570.0,735.5 572.0,735.8 574.0,736.9 576.0,738.4 578.0,740.1 580.0,741.7 582.0,743.4 584.0,745.2 586.0,747.2 588.0,749.4 590.0,751.7 592.0,754.1 594.0,756.4 596.0,758.7 598.0,760.6 600.0,762.0 602.0,763.0 604.0,763.8 606.0,764.6 608.0,765.5 610.0,766.8 612.0,768.5 614.0,770.7 616.0,773.2 618.0,775.8 620.0,778.4 622.0,780.9 624.0,783.5 626.0,785.7 628.0,787.0 630.0,787.0 632.0,786.0 634.0,784.5 636.0,782.8 638.0,781.1 640.0,779.5 642.0,777.9 644.0,776.4 646.0,775.1 648.0,773.8 650.0,772.6 652.0,771.4 654.0,770.3 656.0,769.4 658.0,768.8 660.0,768.3 662.0,768.0 664.0,767.7 666.0,767.3 668.0,766.8 670.0,766.0 672.0,764.7 674.0,763.1 676.0,762.2 678.0,762.5 680.0,763.7 682.0,765.3 684.0,766.7 686.0,767.2 688.0,766.6 690.0,765.1 692.0,763.2 694.0,761.0 696.0,758.3 698.0,755.1 700.0,751.4 702.0,747.5 704.0,743.7 706.0,740.5 708.0,737.9 710.0,735.9 712.0,734.1 714.0,732.5 716.0,730.8 718.0,729.2 720.0,727.7 722.0,726.6 724.0,725.8 726.0,725.3 728.0,724.8 730.0,724.4 732.0,724.0 734.0,723.5 736.0,723.1 738.0,722.6 740.0,722.2 742.0,721.7 744.0,721.3 746.0,720.8 748.0,720.3 750.0,719.8 752.0,719.3 754.0,718.8 756.0,718.3 758.0,717.7 760.0,717.2 762.0,716.8 764.0,716.4 766.0,716.1 768.0,715.9 770.0,715.8 772.0,715.7 774.0,715.5 776.0,715.4 778.0,715.2 780.0,715.0 782.0,714.5 784.0,713.8 786.0,712.8 788.0,711.9 790.0,710.9 792.0,709.9 794.0,709.2 796.0,708.7 798.0,708.4 800.0,708.1 802.0,707.9 804.0,707.7 806.0,707.5 808.0,707.3 810.0,707.1 812.0,706.9 814.0,706.7 816.0,706.6 818.0,706.4 820.0,706.3 822.0,706.3 824.0,706.4 826.0,706.5 828.0,706.6 830.0,706.7 832.0,706.7 834.0,706.8 836.0,706.9 838.0,707.0 840.0,707.1 842.0,707.2 844.0,707.4 846.0,707.8 848.0,708.7 850.0,710.1 852.0,711.8 854.0,713.6 856.0,715.4 858.0,717.5 860.0,720.1 862.0,723.2 864.0,726.7 866.0,730.4 868.0,734.1 870.0,737.8 872.0,741.6 874.0,745.3 876.0,749.3 878.0,753.7 880.0,758.5 882.0,763.5 884.0,768.6 886.0,773.8 888.0,778.9 890.0,784.1 892.0,789.1 894.0,793.9 896.0,798.3 898.0,802.2 900.0,805.9 902.0,809.5 904.0,813.1 906.0,816.7 908.0,820.3 910.0,824.0 912.0,827.6 914.0,831.2 916.0,834.7 918.0,838.2 920.0,841.1 922.0,843.5 924.0,845.3 926.0,847.1 928.0,848.8 930.0,850.5 932.0,852.1 934.0,853.8 936.0,855.5 938.0,857.2 940.0,858.9 942.0,860.5 944.0,862.0 946.0,863.1 948.0,863.9 950.0,864.5 952.0,865.0 954.0,865.6 956.0,866.1 958.0,866.6 960.0,867.0 962.0,867.5 964.0,867.9 966.0,868.3 968.0,868.7 970.0,869.1 972.0,869.5 974.0,869.9 976.0,870.3 978.0,870.7 980.0,871.1 982.0,871.5 984.0,871.8 986.0,872.0 988.0,872.2 990.0,872.3 992.0,872.4 994.0,872.5 996.0,872.5 998.0,872.6 1000.0,872.7 1002.0,872.8 1004.0,872.9 1006.0,872.9 1008.0,873.0 1010.0,873.1 1012.0,873.2 1014.0,873.2 1016.0,873.1 1018.0,872.8 1020.0,872.1 1022.0,871.1 1024.0,870.0 1026.0,868.9 1028.0,867.8 1030.0,866.7 1032.0,865.6 1034.0,864.5 1036.0,863.4 1038.0,862.2 1040.0,861.1 1042.0,859.8 1044.0,858.2 1046.0,856.4 1048.0,854.5 1050.0,852.5 1052.0,850.5 1054.0,848.5 1056.0,846.5 1058.0,844.5 1060.0,842.5 1062.0,840.5 1064.0,838.5 1066.0,836.5 1068.0,834.6 1070.0,832.9 1072.0,831.4 1074.0,830.3 1076.0,829.2 1078.0,828.2 1080.0,827.2 1082.0,826.2 1084.0,825.2 1086.0,824.2 1088.0,823.1 1090.0,821.6 1092.0,819.7 1094.0,817.3 1096.0,814.6 1098.0,811.9 1100.0,809.2 1102.0,806.4 1104.0,803.7 1106.0,800.9 1108.0,798.1 1110.0,795.3 1112.0,792.3 1114.0,789.3 1116.0,786.1 1118.0,783.0 1120.0,779.8 1122.0,776.7 1124.0,773.9 1126.0,771.9 1128.0,771.0 1130.0,770.8 1132.0,770.2 1134.0,768.4 1136.0,765.1 1138.0,760.8 1140.0,756.2 1142.0,751.5 1144.0,746.7 1146.0,742.1 1148.0,737.6 1150.0,733.6 1152.0,730.7 1154.0,728.8 1156.0,727.6 1158.0,726.6 1160.0,725.6 1162.0,724.6 1164.0,723.7 1166.0,723.2 1168.0,723.1 1170.0,723.3 1172.0,723.6 1174.0,724.0 1176.0,724.4 1178.0,724.7 1180.0,725.1 1182.0,725.5 1184.0,725.8 1186.0,726.2 1188.0,726.4 1190.0,726.6 1192.0,726.8 1194.0,727.0 1196.0,727.2 1198.0,727.1 1200.0,726.8 1202.0,726.3 1204.0,725.6 1206.0,724.9 1208.0,724.3 1210.0,723.8 1212.0,723.4 1214.0,723.2 1216.0,722.9 1218.0,722.7 1220.0,722.4 1222.0,722.2 1224.0,722.0 1226.0,722.0 1228.0,722.6 1230.0,724.3 1232.0,727.1 1234.0,730.6 1236.0,734.2 1238.0,737.9 1240.0,741.6 1242.0,745.3 1244.0,749.0 1246.0,752.6 1248.0,756.3 1250.0,760.0 1252.0,763.7 1254.0,767.4 1256.0,771.1 1258.0,774.8 1260.0,778.5 1262.0,782.3 1264.0,786.2 1266.0,790.2 1268.0,794.1 1270.0,798.1 1272.0,802.1 1274.0,806.1 1276.0,810.1 1278.0,814.0 1280.0,818.0 1282.0,821.8 1284.0,825.4 1286.0,829.0 1288.0,832.5 1290.0,835.8 1292.0,838.8 1294.0,841.2 1296.0,843.2 1298.0,845.1 1300.0,846.9 1302.0,848.8 1304.0,850.7 1306.0,852.5 1308.0,854.0 1310.0,855.1 1312.0,855.6 1314.0,855.8 1316.0,855.8 1318.0,855.8 1320.0,855.7 1322.0,855.3 1324.0,854.5 1326.0,853.5 1328.0,852.4 1330.0,851.2 1332.0,850.0 1334.0,848.9 1336.0,847.9 1338.0,847.2 1340.0,846.8 1342.0,846.5 1344.0,846.3 1346.0,846.0 1348.0,845.6 1350.0,844.9 1352.0,843.7 1354.0,842.3 1356.0,840.8 1358.0,839.2 1360.0,837.6 1362.0,836.0 1364.0,834.4 1366.0,832.5 1368.0,830.0 1370.0,827.0 1372.0,823.7 1374.0,820.2 1376.0,816.7 1378.0,813.3 1380.0,809.8 1382.0,806.3 1384.0,802.7 1386.0,799.0 1388.0,794.9 1390.0,790.3 1392.0,785.4 1394.0,780.4 1396.0,775.4 1398.0,770.4 1400.0,765.4 1402.0,760.4 1404.0,755.4 1406.0,750.3 1408.0,745.3 1410.0,740.5 1412.0,735.9 1414.0,731.9 1416.0,728.3 1418.0,725.2 1420.0,722.6 1422.0,720.7 1424.0,719.4 1426.0,718.2 1428.0,717.2 1430.0,716.1 1432.0,715.1 1434.0,714.0 1436.0,713.0 1438.0,711.9 1440.0,711.0 1442.0,710.3 1444.0,709.9 1446.0,709.7 1448.0,709.6 1450.0,709.4 1452.0,709.3 1454.0,709.1 1456.0,709.0 1458.0,708.9 1460.0,708.7 1462.0,708.6 1464.0,708.5 1466.0,708.3 1468.0,708.2 1470.0,708.0 1472.0,707.9 1474.0,707.8 1476.0,707.6 1478.0,707.5 1480.0,707.4 1482.0,707.3 1484.0,707.2 1486.0,707.0 1488.0,706.9 1490.0,706.8 1492.0,706.7 1494.0,706.6 1496.0,706.5 1498.0,706.4 1500.0,706.5 1502.0,707.0 1504.0,707.9 1506.0,709.3 1508.0,710.7 1510.0,712.2 1512.0,713.5 1514.0,714.8 1516.0,716.0 1518.0,717.1 1520.0,718.3 1522.0,719.4 1524.0,720.6 1526.0,721.8 1528.0,723.0 1530.0,724.4 1532.0,725.9 1534.0,727.6 1536.0,729.3 1538.0,731.0 1540.0,732.7 1542.0,734.5 1544.0,736.3 1546.0,738.4 1548.0,741.0 1550.0,744.1 1552.0,747.5 1554.0,751.1 1556.0,754.7 1558.0,758.4 1560.0,762.3 1562.0,766.4 1564.0,770.7 1566.0,775.0 1568.0,779.4 1570.0,783.7 1572.0,788.0 1574.0,792.2 1576.0,796.3 1578.0,800.1 1580.0,803.9 1582.0,807.6 1584.0,811.3 1586.0,815.0 1588.0,818.7 1590.0,822.5 1592.0,826.2 1594.0,830.0 1596.0,833.8 1598.0,837.7 1600.0,841.5 1602.0,845.4 1604.0,849.2 1606.0,853.0 1608.0,856.6 1610.0,859.6 1612.0,861.6 1614.0,863.1 1616.0,864.3 1618.0,865.5 1620.0,866.6 1622.0,867.6 1624.0,868.1 1626.0,867.7 1628.0,866.5 1630.0,864.7 1632.0,862.7 1634.0,860.6 1636.0,858.1 1638.0,854.9 1640.0,850.8 1642.0,845.9 1644.0,840.8 1646.0,835.7 1648.0,830.5 1650.0,825.4 1652.0,820.3 1654.0,815.4 1656.0,810.8 1658.0,806.5 1660.0,802.4 1662.0,798.4 1664.0,794.4 1666.0,790.3 1668.0,786.3 1670.0,782.3 1672.0,778.4 1674.0,774.5 1676.0,770.8 1678.0,767.4 1680.0,764.0 1682.0,760.8 1684.0,757.6 1686.0,754.3 1688.0,751.1 1690.0,747.8 1692.0,744.6 1694.0,741.6 1696.0,738.9 1698.0,736.5 1700.0,734.4 1702.0,732.4 1704.0,730.4 1706.0,728.4 1708.0,726.4 1710.0,724.4 1712.0,722.4 1714.0,720.4 1716.0,718.5 1718.0,716.8 1720.0,715.5 1722.0,714.3 1724.0,713.3 1726.0,712.3 1728.0,711.3 1730.0,710.3 1732.0,709.3 1734.0,708.3 1736.0,707.3 1738.0,706.3 1740.0,705.4 1742.0,704.5 1744.0,703.9 1746.0,703.5 1748.0,703.2 1750.0,703.0 1752.0,702.8 1754.0,702.6 1756.0,702.4 1758.0,702.2 1760.0,702.0 1762.0,701.8 1764.0,701.6 1766.0,701.4 1768.0,701.3 1770.0,701.3 1772.0,701.5 1774.0,701.7 1776.0,701.9 1778.0,702.1 1780.0,702.3 1782.0,702.5 1784.0,702.7 1786.0,702.9 1788.0,703.1 1790.0,703.3 1792.0,703.5 1794.0,703.7 1796.0,703.9 1798.0,704.1 1800.0,704.3 1802.0,704.5 1804.0,704.7 1806.0,704.9 1808.0,705.1 1810.0,705.3 1812.0,705.5 1814.0,705.7 1816.0,705.9 1818.0,706.1 1820.0,706.2 1822.0,706.3 1824.0,706.3 1826.0,706.4 1828.0,706.4 1830.0,706.5 1832.0,706.5 1834.0,706.6 1836.0,706.6 1838.0,706.7 1840.0,706.7 1842.0,706.8 1844.0,706.9 1846.0,706.9 1848.0,707.0 1850.0,707.0 1852.0,707.1 1854.0,707.1 1856.0,707.2 1858.0,707.2 1860.0,707.3 1862.0,707.3 1864.0,707.3" fill="none" stroke="#28d4e4" stroke-width="1.5" stroke-linejoin="round"/>
</g>
<text x="2.3" y="690.2" fill="#e0e8e8" font-size="10" textLength="177" lengthAdjust="spacingAndGlyphs">JFX-RCI 97.9167 84.1709 89.4499 81.1132</text>
<text x="1771.7" y="690.5" fill="#e8ecec" font-size="16" stroke="#2f4f4f" stroke-width="0.25" textLength="91" lengthAdjust="spacingAndGlyphs">USDJPY, M1</text>
<text x="1773" y="717.6" fill="#f2d41e" font-size="26.5" textLength="91.8" lengthAdjust="spacingAndGlyphs">157.342</text>
<rect x="0" y="0" width="1871" height="1" fill="#a8b8b8"/>
<rect x="0" y="0" width="1" height="935" fill="#a8b8b8"/>
<rect x="0" y="931" width="6" height="4" fill="#d8c478"/>
<rect x="0" y="678" width="1871" height="2" fill="#b0c0c0"/>
<rect x="0" y="894" width="1871" height="2" fill="#b0c0c0"/>
<rect x="1870" y="0" width="1" height="935" fill="#b0c0c0"/>
<line x1="1870" y1="14.3" x2="1873" y2="14.3" stroke="#b0c0c0" stroke-width="1"/>
<text x="1875" y="17.8" fill="#e8ecec" font-size="9.5" textLength="32" lengthAdjust="spacingAndGlyphs">157.375</text>
<line x1="1870" y1="48.1" x2="1873" y2="48.1" stroke="#b0c0c0" stroke-width="1"/>
<text x="1875" y="51.6" fill="#e8ecec" font-size="9.5" textLength="32" lengthAdjust="spacingAndGlyphs">157.335</text>
<line x1="1870" y1="81.9" x2="1873" y2="81.9" stroke="#b0c0c0" stroke-width="1"/>
<text x="1875" y="85.4" fill="#e8ecec" font-size="9.5" textLength="32" lengthAdjust="spacingAndGlyphs">157.295</text>
<line x1="1870" y1="115.7" x2="1873" y2="115.7" stroke="#b0c0c0" stroke-width="1"/>
<text x="1875" y="119.2" fill="#e8ecec" font-size="9.5" textLength="32" lengthAdjust="spacingAndGlyphs">157.255</text>
<line x1="1870" y1="149.5" x2="1873" y2="149.5" stroke="#b0c0c0" stroke-width="1"/>
<text x="1875" y="153.0" fill="#e8ecec" font-size="9.5" textLength="32" lengthAdjust="spacingAndGlyphs">157.215</text>
<line x1="1870" y1="183.3" x2="1873" y2="183.3" stroke="#b0c0c0" stroke-width="1"/>
<text x="1875" y="186.8" fill="#e8ecec" font-size="9.5" textLength="32" lengthAdjust="spacingAndGlyphs">157.175</text>
<line x1="1870" y1="217.1" x2="1873" y2="217.1" stroke="#b0c0c0" stroke-width="1"/>
<text x="1875" y="220.6" fill="#e8ecec" font-size="9.5" textLength="32" lengthAdjust="spacingAndGlyphs">157.135</text>
<line x1="1870" y1="250.9" x2="1873" y2="250.9" stroke="#b0c0c0" stroke-width="1"/>
<text x="1875" y="254.4" fill="#e8ecec" font-size="9.5" textLength="32" lengthAdjust="spacingAndGlyphs">157.095</text>
<line x1="1870" y1="284.7" x2="1873" y2="284.7" stroke="#b0c0c0" stroke-width="1"/>
<text x="1875" y="288.2" fill="#e8ecec" font-size="9.5" textLength="32" lengthAdjust="spacingAndGlyphs">157.055</text>
<line x1="1870" y1="318.5" x2="1873" y2="318.5" stroke="#b0c0c0" stroke-width="1"/>
<text x="1875" y="322.0" fill="#e8ecec" font-size="9.5" textLength="32" lengthAdjust="spacingAndGlyphs">157.015</text>
<line x1="1870" y1="352.3" x2="1873" y2="352.3" stroke="#b0c0c0" stroke-width="1"/>
<text x="1875" y="355.8" fill="#e8ecec" font-size="9.5" textLength="32" lengthAdjust="spacingAndGlyphs">156.975</text>
<line x1="1870" y1="386.1" x2="1873" y2="386.1" stroke="#b0c0c0" stroke-width="1"/>
<text x="1875" y="389.6" fill="#e8ecec" font-size="9.5" textLength="32" lengthAdjust="spacingAndGlyphs">156.935</text>
<line x1="1870" y1="419.9" x2="1873" y2="419.9" stroke="#b0c0c0" stroke-width="1"/>
<text x="1875" y="423.4" fill="#e8ecec" font-size="9.5" textLength="32" lengthAdjust="spacingAndGlyphs">156.895</text>
<line x1="1870" y1="453.7" x2="1873" y2="453.7" stroke="#b0c0c0" stroke-width="1"/>
<text x="1875" y="457.2" fill="#e8ecec" font-size="9.5" textLength="32" lengthAdjust="spacingAndGlyphs">156.855</text>
<line x1="1870" y1="487.5" x2="1873" y2="487.5" stroke="#b0c0c0" stroke-width="1"/>
<text x="1875" y="491.0" fill="#e8ecec" font-size="9.5" textLength="32" lengthAdjust="spacingAndGlyphs">156.815</text>
<line x1="1870" y1="521.3" x2="1873" y2="521.3" stroke="#b0c0c0" stroke-width="1"/>
<text x="1875" y="524.8" fill="#e8ecec" font-size="9.5" textLength="32" lengthAdjust="spacingAndGlyphs">156.775</text>
<line x1="1870" y1="555.1" x2="1873" y2="555.1" stroke="#b0c0c0" stroke-width="1"/>
<text x="1875" y="558.6" fill="#e8ecec" font-size="9.5" textLength="32" lengthAdjust="spacingAndGlyphs">156.735</text>
<line x1="1870" y1="588.9" x2="1873" y2="588.9" stroke="#b0c0c0" stroke-width="1"/>
<text x="1875" y="592.4" fill="#e8ecec" font-size="9.5" textLength="32" lengthAdjust="spacingAndGlyphs">156.695</text>
<line x1="1870" y1="622.7" x2="1873" y2="622.7" stroke="#b0c0c0" stroke-width="1"/>
<text x="1875" y="626.2" fill="#e8ecec" font-size="9.5" textLength="32" lengthAdjust="spacingAndGlyphs">156.655</text>
<line x1="1870" y1="656.5" x2="1873" y2="656.5" stroke="#b0c0c0" stroke-width="1"/>
<text x="1875" y="660.0" fill="#e8ecec" font-size="9.5" textLength="32" lengthAdjust="spacingAndGlyphs">156.615</text>
<rect x="1871" y="36.7" width="38" height="11" fill="#ffffff"/>
<text x="1875" y="45.7" fill="#303030" font-size="9.5" textLength="32" lengthAdjust="spacingAndGlyphs">157.342</text>
<rect x="1871" y="299.4" width="38" height="11" fill="#1e90ff"/>
<text x="1875" y="308.4" fill="#1a4a7a" font-size="9.5" textLength="32" lengthAdjust="spacingAndGlyphs">157.034</text>
<rect x="1871" y="328.2" width="38" height="11" fill="#c0c0c0"/>
<text x="1875" y="337.2" fill="#505050" font-size="9.5" textLength="32" lengthAdjust="spacingAndGlyphs">157.000</text>
<rect x="1871" y="477.7" width="38" height="11" fill="#7cfc00"/>
<text x="1875" y="486.7" fill="#2a5a10" font-size="9.5" textLength="32" lengthAdjust="spacingAndGlyphs">156.823</text>
<rect x="1871" y="637.4" width="38" height="11" fill="#1e90ff"/>
<text x="1875" y="646.4" fill="#1a4a7a" font-size="9.5" textLength="32" lengthAdjust="spacingAndGlyphs">156.634</text>
<text x="1872.8" y="689.5" fill="#e8ecec" font-size="9.5" textLength="14.3" lengthAdjust="spacingAndGlyphs">120</text>
<rect x="1871" y="712.5" width="38" height="11" fill="#c8c8c8"/>
<text x="1874" y="721.5" fill="#404040" font-size="9.5" textLength="32.7" lengthAdjust="spacingAndGlyphs">80.0000</text>
<text x="1872" y="791" fill="#e8ecec" font-size="9.5" textLength="18" lengthAdjust="spacingAndGlyphs">0.00</text>
<rect x="1871" y="856.5" width="38" height="11" fill="#c8c8c8"/>
<text x="1873.5" y="865.5" fill="#404040" font-size="9.5" textLength="37" lengthAdjust="spacingAndGlyphs">-80.0000</text>
<text x="1872" y="892" fill="#e8ecec" font-size="9.5" textLength="18.4" lengthAdjust="spacingAndGlyphs">-120</text>
<text x="1874" y="907" fill="#e8ecec" font-size="10">1</text>
<text x="1874" y="933" fill="#e8ecec" font-size="10">0</text>
<line x1="88.5" y1="896" x2="88.5" y2="935" stroke="#5a7a7a" stroke-width="1" stroke-dasharray="1,2"/>
<line x1="208.5" y1="896" x2="208.5" y2="935" stroke="#5a7a7a" stroke-width="1" stroke-dasharray="1,2"/>
<line x1="328.5" y1="896" x2="328.5" y2="935" stroke="#5a7a7a" stroke-width="1" stroke-dasharray="1,2"/>
<line x1="448.5" y1="896" x2="448.5" y2="935" stroke="#5a7a7a" stroke-width="1" stroke-dasharray="1,2"/>
<line x1="568.5" y1="896" x2="568.5" y2="935" stroke="#5a7a7a" stroke-width="1" stroke-dasharray="1,2"/>
<line x1="688.5" y1="896" x2="688.5" y2="935" stroke="#5a7a7a" stroke-width="1" stroke-dasharray="1,2"/>
<line x1="808.5" y1="896" x2="808.5" y2="935" stroke="#5a7a7a" stroke-width="1" stroke-dasharray="1,2"/>
<line x1="928.5" y1="896" x2="928.5" y2="935" stroke="#5a7a7a" stroke-width="1" stroke-dasharray="1,2"/>
<line x1="1048.5" y1="896" x2="1048.5" y2="935" stroke="#5a7a7a" stroke-width="1" stroke-dasharray="1,2"/>
<line x1="1168.5" y1="896" x2="1168.5" y2="935" stroke="#5a7a7a" stroke-width="1" stroke-dasharray="1,2"/>
<line x1="1288.5" y1="896" x2="1288.5" y2="935" stroke="#5a7a7a" stroke-width="1" stroke-dasharray="1,2"/>
<line x1="1408.5" y1="896" x2="1408.5" y2="935" stroke="#5a7a7a" stroke-width="1" stroke-dasharray="1,2"/>
<line x1="1528.5" y1="896" x2="1528.5" y2="935" stroke="#5a7a7a" stroke-width="1" stroke-dasharray="1,2"/>
<line x1="1648.5" y1="896" x2="1648.5" y2="935" stroke="#5a7a7a" stroke-width="1" stroke-dasharray="1,2"/>
<line x1="1768.5" y1="896" x2="1768.5" y2="935" stroke="#5a7a7a" stroke-width="1" stroke-dasharray="1,2"/>
<text x="29" y="909" fill="#e8ecec" font-size="13" text-anchor="middle">14:15</text>
<text x="89" y="909" fill="#e8ecec" font-size="13" text-anchor="middle">14:30</text>
<text x="149" y="909" fill="#e8ecec" font-size="13" text-anchor="middle">14:45</text>
<text x="209" y="909" fill="#e8ecec" font-size="13" text-anchor="middle">15:00</text>
<text x="269" y="909" fill="#e8ecec" font-size="13" text-anchor="middle">15:15</text>
<text x="329" y="909" fill="#e8ecec" font-size="13" text-anchor="middle">15:30</text>
<text x="389" y="909" fill="#e8ecec" font-size="13" text-anchor="middle">15:45</text>
<text x="449" y="909" fill="#e8ecec" font-size="13" text-anchor="middle">16:00</text>
<text x="509" y="909" fill="#e8ecec" font-size="13" text-anchor="middle">16:15</text>
<text x="569" y="909" fill="#e8ecec" font-size="13" text-anchor="middle">16:30</text>
<text x="629" y="909" fill="#e8ecec" font-size="13" text-anchor="middle">16:45</text>
<text x="689" y="909" fill="#e8ecec" font-size="13" text-anchor="middle">17:00</text>
<text x="749" y="909" fill="#e8ecec" font-size="13" text-anchor="middle">17:15</text>
<text x="809" y="909" fill="#e8ecec" font-size="13" text-anchor="middle">17:30</text>
<text x="869" y="909" fill="#e8ecec" font-size="13" text-anchor="middle">17:45</text>
<text x="929" y="909" fill="#e8ecec" font-size="13" text-anchor="middle">18:00</text>
<text x="989" y="909" fill="#e8ecec" font-size="13" text-anchor="middle">18:15</text>
<text x="1049" y="909" fill="#e8ecec" font-size="13" text-anchor="middle">18:30</text>
<text x="1109" y="909" fill="#e8ecec" font-size="13" text-anchor="middle">18:45</text>
<text x="1169" y="909" fill="#e8ecec" font-size="13" text-anchor="middle">19:00</text>
<text x="1229" y="909" fill="#e8ecec" font-size="13" text-anchor="middle">19:15</text>
<text x="1289" y="909" fill="#e8ecec" font-size="13" text-anchor="middle">19:30</text>
<text x="1349" y="909" fill="#e8ecec" font-size="13" text-anchor="middle">19:45</text>
<text x="1409" y="909" fill="#e8ecec" font-size="13" text-anchor="middle">20:00</text>
<text x="1469" y="909" fill="#e8ecec" font-size="13" text-anchor="middle">20:15</text>
<text x="1529" y="909" fill="#e8ecec" font-size="13" text-anchor="middle">20:30</text>
<text x="1589" y="909" fill="#e8ecec" font-size="13" text-anchor="middle">20:45</text>
<text x="1649" y="909" fill="#e8ecec" font-size="13" text-anchor="middle">21:00</text>
<text x="1709" y="909" fill="#e8ecec" font-size="13" text-anchor="middle">21:15</text>
<text x="1769" y="909" fill="#e8ecec" font-size="13" text-anchor="middle">21:30</text>
<text x="1829" y="909" fill="#e8ecec" font-size="13" text-anchor="middle">21:45</text>
</svg>

<div style="position:absolute;left:1355px;top:2px;width:273px;height:174px;background:#fff;border-radius:16px;overflow:hidden;">
  <div style="position:absolute;left:0;top:0;width:273px;height:44px;background:#000;"></div>
  <svg style="position:absolute;left:0;top:0" width="273" height="174">
    <path d="M237.5,11.5 L258,32 M258,11.5 L237.5,32" stroke="#fff" stroke-width="1.8"/>
    <rect x="237.3" y="52.8" width="22.7" height="23.6" rx="3.5" fill="none" stroke="#000" stroke-width="1.7"/>
    <line x1="232" y1="75.8" x2="265" y2="75.8" stroke="#000" stroke-width="1"/>
    <path d="M248.6,56.2 L255,63 L242.2,63 Z M248.6,62.8 L255,69.8 L242.2,69.8 Z" fill="#000"/>
    <text x="40.5" y="107.3" font-size="53" fill="#000" stroke="#fff" stroke-width="0.3" textLength="180" lengthAdjust="spacingAndGlyphs">21:54:41</text>
    <text x="15.5" y="157.9" font-size="26.3" fill="#000" textLength="139" lengthAdjust="spacingAndGlyphs">2026/03/02</text>
    <text x="182" y="157.5" font-size="25" fill="#000">(</text>
    <text x="215" y="158" font-size="25" fill="#000">)</text>
    <path d="M195.5,137.5 L211.5,137.5 L211.5,155 Q211.5,157.5 209,157.5 L205.5,157.5 M195.5,137.5 L195.5,147.5 Q195.5,154 191.5,158.5 M195.5,144 L211.5,144 M195.5,150 L211.5,150" fill="none" stroke="#000" stroke-width="1.8"/>
  </svg>
</div>

</body></html>
